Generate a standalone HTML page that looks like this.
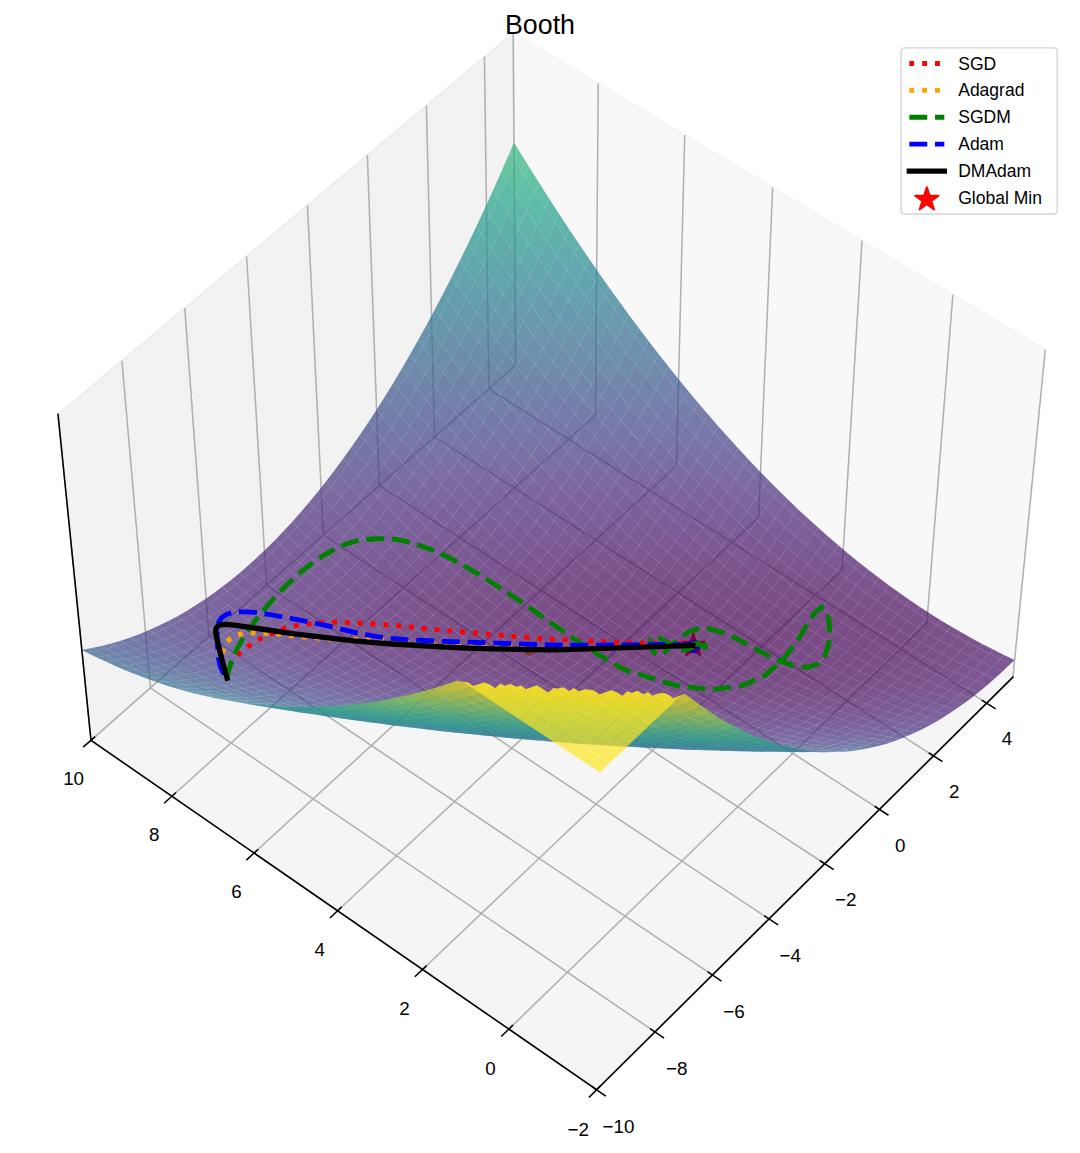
<!DOCTYPE html>
<html><head><meta charset="utf-8"><title>Booth</title><style>html,body{margin:0;padding:0;background:#fff;font-family:"Liberation Sans",sans-serif}svg{display:block}</style></head><body><svg width="1080" height="1153" viewBox="0 0 777.6 830.16"><defs><style>*{stroke-linejoin: round; stroke-linecap: butt}</style></defs><path d="M0 830.16L777.6 830.16L777.6 0L0 0z" style="fill:#ffffff"/><path d="M10.08 785.45L767.3 785.45L767.3 28.22L10.08 28.22z" style="fill:#ffffff"/><path d="M729.31 487.52L371.33 262.9L369.48 23.56L752.6 251.88" style="fill:#f2f2f2;fill-opacity:.5;stroke:#f2f2f2;stroke-opacity:.5;stroke-width:1.38;stroke-linejoin:miter"/><path d="M65.51 533.04L371.33 262.9L369.48 23.56L41.78 298.33" style="fill:#e6e6e6;fill-opacity:.5;stroke:#e6e6e6;stroke-opacity:.5;stroke-width:1.38;stroke-linejoin:miter"/><path d="M429.56 784.64L729.31 487.52L371.33 262.9L65.51 533.04" style="fill:#ececec;fill-opacity:.5;stroke:#ececec;stroke-opacity:.5;stroke-width:1.38;stroke-linejoin:miter"/><path d="M429.56 784.64L65.51 533.04L41.78 298.33" style="fill:none;stroke:#b0b0b0;stroke-width:1.10592"/><path d="M471.58 742.99L108.28 495.26L87.77 259.77" style="fill:none;stroke:#b0b0b0;stroke-width:1.10592"/><path d="M512.94 701.99L150.42 458.04L133.01 221.83" style="fill:none;stroke:#b0b0b0;stroke-width:1.10592"/><path d="M553.66 661.63L191.92 421.37L177.54 184.49" style="fill:none;stroke:#b0b0b0;stroke-width:1.10592"/><path d="M593.75 621.89L232.82 385.25L221.37 147.74" style="fill:none;stroke:#b0b0b0;stroke-width:1.10592"/><path d="M633.22 582.76L273.12 349.65L264.51 111.57" style="fill:none;stroke:#b0b0b0;stroke-width:1.10592"/><path d="M672.1 544.23L312.83 314.57L306.99 75.96" style="fill:none;stroke:#b0b0b0;stroke-width:1.10592"/><path d="M710.38 506.28L351.97 280L348.81 40.89" style="fill:none;stroke:#b0b0b0;stroke-width:1.10592"/><path d="M752.6 251.88L729.31 487.52L429.56 784.64" style="fill:none;stroke:#b0b0b0;stroke-width:1.10592"/><path d="M686.07 212.23L667.31 448.61L366.37 740.97" style="fill:none;stroke:#b0b0b0;stroke-width:1.10592"/><path d="M620.65 173.24L606.28 410.32L304.22 698.02" style="fill:none;stroke:#b0b0b0;stroke-width:1.10592"/><path d="M556.3 134.9L546.18 372.61L243.08 655.76" style="fill:none;stroke:#b0b0b0;stroke-width:1.10592"/><path d="M493.01 97.18L487 335.48L182.93 614.19" style="fill:none;stroke:#b0b0b0;stroke-width:1.10592"/><path d="M430.74 60.07L428.73 298.91L123.75 573.29" style="fill:none;stroke:#b0b0b0;stroke-width:1.10592"/><path d="M369.48 23.56L371.33 262.9L65.51 533.04" style="fill:none;stroke:#b0b0b0;stroke-width:1.10592"/><path d="M729.31 487.52L429.56 784.64" style="fill:none;stroke:#000000;stroke-width:1.10592;stroke-linecap:square"/><path d="M426.5 782.53L435.68 788.88" style="fill:none;stroke:#000000;stroke-width:1.10592;stroke-linecap:square"/><text x="445.33" y="815.79" font-size="13.54" text-anchor="middle" fill="#000000" font-family="&quot;Liberation Sans&quot;, sans-serif">−10</text><path d="M468.53 740.91L477.69 747.16" style="fill:none;stroke:#000000;stroke-width:1.10592;stroke-linecap:square"/><text x="487.19" y="774.01" font-size="13.54" text-anchor="middle" fill="#000000" font-family="&quot;Liberation Sans&quot;, sans-serif">−8</text><path d="M509.9 699.94L519.03 706.09" style="fill:none;stroke:#000000;stroke-width:1.10592;stroke-linecap:square"/><text x="528.4" y="732.89" font-size="13.54" text-anchor="middle" fill="#000000" font-family="&quot;Liberation Sans&quot;, sans-serif">−6</text><path d="M550.63 659.61L559.74 665.66" style="fill:none;stroke:#000000;stroke-width:1.10592;stroke-linecap:square"/><text x="568.96" y="692.41" font-size="13.54" text-anchor="middle" fill="#000000" font-family="&quot;Liberation Sans&quot;, sans-serif">−4</text><path d="M590.72 619.91L599.81 625.86" style="fill:none;stroke:#000000;stroke-width:1.10592;stroke-linecap:square"/><text x="608.9" y="652.55" font-size="13.54" text-anchor="middle" fill="#000000" font-family="&quot;Liberation Sans&quot;, sans-serif">−2</text><path d="M630.21 580.81L639.27 586.67" style="fill:none;stroke:#000000;stroke-width:1.10592;stroke-linecap:square"/><text x="648.23" y="613.31" font-size="13.54" text-anchor="middle" fill="#000000" font-family="&quot;Liberation Sans&quot;, sans-serif">0</text><path d="M669.09 542.3L678.13 548.08" style="fill:none;stroke:#000000;stroke-width:1.10592;stroke-linecap:square"/><text x="686.96" y="574.66" font-size="13.54" text-anchor="middle" fill="#000000" font-family="&quot;Liberation Sans&quot;, sans-serif">2</text><path d="M707.38 504.38L716.4 510.07" style="fill:none;stroke:#000000;stroke-width:1.10592;stroke-linecap:square"/><text x="725.11" y="536.59" font-size="13.54" text-anchor="middle" fill="#000000" font-family="&quot;Liberation Sans&quot;, sans-serif">4</text><path d="M65.51 533.04L429.56 784.64" style="fill:none;stroke:#000000;stroke-width:1.10592;stroke-linecap:square"/><path d="M432.1 782.13L424.47 789.69" style="fill:none;stroke:#000000;stroke-width:1.10592;stroke-linecap:square"/><text x="416.28" y="817.9" font-size="13.54" text-anchor="middle" fill="#000000" font-family="&quot;Liberation Sans&quot;, sans-serif">−2</text><path d="M368.92 738.5L361.26 745.93" style="fill:none;stroke:#000000;stroke-width:1.10592;stroke-linecap:square"/><text x="353.23" y="774.06" font-size="13.54" text-anchor="middle" fill="#000000" font-family="&quot;Liberation Sans&quot;, sans-serif">0</text><path d="M306.77 695.58L299.09 702.9" style="fill:none;stroke:#000000;stroke-width:1.10592;stroke-linecap:square"/><text x="291.21" y="730.95" font-size="13.54" text-anchor="middle" fill="#000000" font-family="&quot;Liberation Sans&quot;, sans-serif">2</text><path d="M245.64 653.37L237.94 660.56" style="fill:none;stroke:#000000;stroke-width:1.10592;stroke-linecap:square"/><text x="230.21" y="688.54" font-size="13.54" text-anchor="middle" fill="#000000" font-family="&quot;Liberation Sans&quot;, sans-serif">4</text><path d="M185.5 611.84L177.78 618.92" style="fill:none;stroke:#000000;stroke-width:1.10592;stroke-linecap:square"/><text x="170.19" y="646.81" font-size="13.54" text-anchor="middle" fill="#000000" font-family="&quot;Liberation Sans&quot;, sans-serif">6</text><path d="M126.33 570.97L118.59 577.94" style="fill:none;stroke:#000000;stroke-width:1.10592;stroke-linecap:square"/><text x="111.13" y="605.75" font-size="13.54" text-anchor="middle" fill="#000000" font-family="&quot;Liberation Sans&quot;, sans-serif">8</text><path d="M68.1 530.76L60.33 537.61" style="fill:none;stroke:#000000;stroke-width:1.10592;stroke-linecap:square"/><text x="53.01" y="565.35" font-size="13.54" text-anchor="middle" fill="#000000" font-family="&quot;Liberation Sans&quot;, sans-serif">10</text><path d="M65.51 533.04L41.78 298.33" style="fill:none;stroke:#000000;stroke-width:1.10592;stroke-linecap:square"/><path d="M499.18 455.98L501.13 462.00L507.46 462.00L502.34 465.72L504.30 471.74L499.18 468.02L494.06 471.74L496.01 465.72L490.89 462.00L497.22 462.00z" fill="#ff0000" stroke="#ff0000" stroke-width="1.37" stroke-linejoin="miter"/><circle cx="499.46" cy="465.48" r="5.11" fill="#0000ff"/><circle cx="381.31" cy="467.10" r="5.18" fill="#ffa500"/><g fill-opacity=".7"><path d="M449.45 338.36l6-9.33-7.15-7.96-6 9.5z" fill="#453781"/><path d="M436.29 339.81l6.01-9.24-7.16-7.96-6 9.41z" fill="#453581"/><path d="M456.6 345.98l6-9.17-7.15-7.78-6 9.33z" fill="#46327e"/><path d="M443.45 347.43l6-9.07-7.15-7.79-6.01 9.24z" fill="#46327e"/><path d="M462.6 336.81l6.01-9.42-7.15-7.96-6.01 9.6z" fill="#453882"/><path d="M423.14 341.16l6-9.14-7.15-7.96-6 9.31z" fill="#453581"/><path d="M442.3 330.57l6-9.5-7.15-8.12-6.01 9.66z" fill="#443b84"/><path d="M429.14 332.02l6-9.41-7.15-8.12-6 9.57z" fill="#443a83"/><path d="M469.76 344.44l6-9.26-7.15-7.79-6.01 9.42z" fill="#46337f"/><path d="M430.3 348.79l5.99-8.98-7.15-7.79-6 9.14z" fill="#46307e"/><path d="M455.45 329.03l6.01-9.6-7.15-8.12-6.01 9.76z" fill="#433d84"/><path d="M415.99 333.37l6-9.31-7.15-8.12-6.01 9.48z" fill="#443a83"/><path d="M463.76 353.44l6-9-7.16-7.63-6 9.17z" fill="#472e7c"/><path d="M450.61 354.89l5.99-8.91-7.15-7.62-6 9.07z" fill="#472d7b"/><path d="M475.76 335.18l6.01-9.52-7.15-7.96-6.01 9.69z" fill="#443983"/><path d="M409.99 342.43l6-9.06-7.16-7.95-6 9.22z" fill="#463480"/><path d="M482.92 342.8l6-9.35-7.15-7.79-6.01 9.52z" fill="#463480"/><path d="M476.92 351.9l6-9.1-7.16-7.62-6 9.26z" fill="#472f7d"/><path d="M417.14 350.05l6-8.89-7.15-7.79-6 9.06z" fill="#46307e"/><path d="M437.45 356.25l6-8.82-7.16-7.62-5.99 8.98z" fill="#472d7b"/><path d="M468.61 327.39l6.01-9.69-7.15-8.12-6.01 9.85z" fill="#433e85"/><path d="M435.14 322.61l6.01-9.66-7.15-8.29-6.01 9.83z" fill="#424086"/><path d="M421.99 324.06l6-9.57-7.15-8.29-6 9.74z" fill="#423f85"/><path d="M402.83 334.64l6-9.22-7.15-8.12-6 9.38z" fill="#443983"/><path d="M448.3 321.07l6.01-9.76-7.15-8.29-6.01 9.93z" fill="#424186"/><path d="M408.83 325.42l6.01-9.48-7.15-8.29-6.01 9.65z" fill="#423f85"/><path d="M490.08 350.26l6-9.19-7.16-7.62-6 9.35z" fill="#46307e"/><path d="M488.92 333.45l6.01-9.61-7.15-7.96-6.01 9.78z" fill="#443a83"/><path d="M424.3 357.51l6-8.72-7.16-7.63-6 8.89z" fill="#472c7a"/><path d="M396.83 343.6l6-8.96-7.15-7.96-6 9.13z" fill="#463480"/><path d="M496.08 341.07l6.01-9.44-7.16-7.79-6.01 9.61z" fill="#453581"/><path d="M403.98 351.22l6.01-8.79-7.16-7.79-6 8.96z" fill="#472f7d"/><path d="M470.93 360.74l5.99-8.84-7.16-7.46-6 9z" fill="#472a7a"/><path d="M457.77 362.19l5.99-8.75-7.16-7.46-5.99 8.91z" fill="#482979"/><path d="M481.77 325.66l6.01-9.78-7.15-8.13-6.01 9.95z" fill="#423f85"/><path d="M461.46 319.43l6.01-9.85-7.15-8.29-6.01 10.02z" fill="#414287"/><path d="M395.68 326.68l6-9.38-7.15-8.3-6.01 9.56z" fill="#433e85"/><path d="M389.68 335.81l6-9.13-7.16-8.12-6 9.29z" fill="#443983"/><path d="M484.09 359.19l5.99-8.93-7.16-7.46-6 9.1z" fill="#472a7a"/><path d="M444.61 363.55l6-8.66-7.16-7.46-6 8.82z" fill="#482878"/><path d="M503.25 348.53l6-9.28-7.16-7.62-6.01 9.44z" fill="#46327e"/><path d="M411.14 358.68l6-8.63-7.15-7.62-6.01 8.79z" fill="#472c7a"/><path d="M427.99 314.49l6.01-9.83-7.15-8.47-6.01 10.01z" fill="#404588"/><path d="M414.84 315.94l6-9.74-7.15-8.46-6 9.91z" fill="#414487"/><path d="M497.25 357.56l6-9.03-7.17-7.46-6 9.19z" fill="#472c7a"/><path d="M502.09 331.63l6.01-9.71-7.15-7.96-6.02 9.88z" fill="#443b84"/><path d="M431.46 364.81l5.99-8.56-7.15-7.46-6 8.72z" fill="#482878"/><path d="M441.15 312.95l6.01-9.93-7.15-8.47-6.01 10.11z" fill="#404688"/><path d="M474.62 317.7l6.01-9.95-7.14-8.29-6.02 10.12z" fill="#414487"/><path d="M509.25 339.25l6.01-9.54-7.16-7.79-6.01 9.71z" fill="#453781"/><path d="M401.68 317.3l6.01-9.65-7.16-8.46-6 9.81z" fill="#414487"/><path d="M383.67 344.67l6.01-8.86-7.16-7.96-6 9.03z" fill="#463480"/><path d="M382.52 327.85l6-9.29-7.15-8.3-6.01 9.46z" fill="#433e85"/><path d="M390.83 352.3l6-8.7-7.15-7.79-6.01 8.86z" fill="#472f7d"/><path d="M494.93 323.84l6.02-9.88-7.15-8.13-6.02 10.05z" fill="#424086"/><path d="M376.52 336.88l6-9.03-7.16-8.13-6 9.2z" fill="#453882"/><path d="M454.31 311.31l6.01-10.02-7.14-8.47-6.02 10.2z" fill="#3f4788"/><path d="M388.52 318.56l6.01-9.56-7.16-8.46-6 9.72z" fill="#414287"/><path d="M516.42 346.71l6-9.38-7.16-7.62-6.01 9.54z" fill="#46337f"/><path d="M510.42 355.83l6-9.12-7.17-7.46-6 9.28z" fill="#472d7b"/><path d="M478.1 367.87l5.99-8.68-7.17-7.29-5.99 8.84z" fill="#482576"/><path d="M464.94 369.32l5.99-8.58-7.17-7.3-5.99 8.75z" fill="#482576"/><path d="M418.3 365.98l6-8.47-7.16-7.46-6 8.63z" fill="#482677"/><path d="M397.98 359.76l6-8.54-7.15-7.62-6 8.7z" fill="#472a7a"/><path d="M491.26 366.33l5.99-8.77-7.17-7.3-5.99 8.93z" fill="#482677"/><path d="M451.78 370.68l5.99-8.49-7.16-7.3-6 8.66z" fill="#482475"/><path d="M487.78 315.88l6.02-10.05-7.14-8.29-6.03 10.21z" fill="#404588"/><path d="M515.26 329.71l6.02-9.81-7.15-7.96-6.03 9.98z" fill="#433d84"/><path d="M369.36 328.92l6-9.2-7.15-8.29-6.01 9.37z" fill="#433d84"/><path d="M467.47 309.58l6.02-10.12-7.15-8.47-6.02 10.3z" fill="#3f4889"/><path d="M522.42 337.33l6.02-9.63-7.16-7.8-6.02 9.81z" fill="#453882"/><path d="M370.51 345.66l6.01-8.78-7.16-7.96-6.01 8.95z" fill="#46337f"/><path d="M375.36 319.72l6.01-9.46-7.16-8.46-6 9.63z" fill="#414287"/><path d="M504.43 364.69l5.99-8.86-7.17-7.3-6 9.03z" fill="#482878"/><path d="M420.84 306.2l6.01-10.01-7.15-8.63-6.01 10.18z" fill="#3e4a89"/><path d="M438.62 371.95l5.99-8.4-7.16-7.3-5.99 8.56z" fill="#482475"/><path d="M407.69 307.65l6-9.91-7.15-8.64-6.01 10.09z" fill="#3e4989"/><path d="M377.66 353.29l6.01-8.62-7.15-7.79-6.01 8.78z" fill="#472f7d"/><path d="M508.1 321.92l6.03-9.98-7.15-8.12-6.03 10.14z" fill="#424186"/><path d="M523.59 354.01l6-9.22-7.17-7.46-6 9.38z" fill="#472e7c"/><path d="M363.35 337.87l6.01-8.95-7.16-8.12-6.01 9.11z" fill="#453882"/><path d="M434 304.66l6.01-10.11-7.15-8.63-6.01 10.27z" fill="#3e4a89"/><path d="M394.53 309l6-9.81-7.16-8.64-6 9.99z" fill="#3f4889"/><path d="M405.14 367.06l6-8.38-7.16-7.46-6 8.54z" fill="#482677"/><path d="M529.59 344.79l6.01-9.47-7.16-7.62-6.02 9.63z" fill="#463480"/><path d="M384.82 360.75l6.01-8.45-7.16-7.63-6.01 8.62z" fill="#472a7a"/><path d="M517.6 362.96l5.99-8.95-7.17-7.3-6 9.12z" fill="#482979"/><path d="M447.16 303.02l6.02-10.2-7.15-8.63-6.02 10.36z" fill="#3e4c8a"/><path d="M528.44 327.7l3.01-4.92-7.16-7.88-3.01 5z" fill="#433d84"/><path d="M425.46 373.12l6-8.31-7.16-7.3-6 8.47z" fill="#482374"/><path d="M480.63 307.75l6.03-10.21-7.14-8.47-6.03 10.39z" fill="#3e4989"/><path d="M500.95 313.96l6.03-10.14-7.14-8.3-6.04 10.31z" fill="#404688"/><path d="M381.37 310.26l6-9.72-7.16-8.63-6 9.89z" fill="#3f4889"/><path d="M362.2 320.8l6.01-9.37-7.17-8.46-6 9.54z" fill="#414287"/><path d="M521.28 319.9l3.01-5-7.15-8.04-3.01 5.08z" fill="#424186"/><path d="M535.6 335.32l3.01-4.83-7.16-7.71-3.01 4.92z" fill="#443983"/><path d="M356.19 329.91l6.01-9.11-7.16-8.29-6.01 9.27z" fill="#433d84"/><path d="M485.28 374.84l5.98-8.51-7.17-7.14-5.99 8.68z" fill="#482374"/><path d="M472.12 376.3l5.98-8.43-7.17-7.13-5.99 8.58z" fill="#482173"/><path d="M498.45 373.3l5.98-8.61-7.18-7.13-5.99 8.77z" fill="#482374"/><path d="M458.95 377.65l5.99-8.33-7.17-7.13-5.99 8.49z" fill="#482071"/><path d="M536.77 352.09l6-9.3-7.17-7.47-6.01 9.47z" fill="#46307e"/><path d="M357.34 346.55l6.01-8.68-7.16-7.96-6.01 8.85z" fill="#46337f"/><path d="M460.32 301.29l6.02-10.3-7.14-8.63-6.02 10.46z" fill="#3d4d8a"/><path d="M364.49 354.18l6.02-8.52-7.16-7.79-6.01 8.68z" fill="#472f7d"/><path d="M368.21 311.43l6-9.63-7.17-8.63-6 9.8z" fill="#3f4788"/><path d="M391.97 368.05l6.01-8.29-7.15-7.46-6.01 8.45z" fill="#482677"/><path d="M514.13 311.94l3.01-5.08-7.14-8.21-3.02 5.17z" fill="#404688"/><path d="M530.77 361.14l6-9.05-7.18-7.3-6 9.22z" fill="#472a7a"/><path d="M542.77 342.79l3.01-4.76-7.17-7.54-3.01 4.83z" fill="#463480"/><path d="M350.18 338.76l6.01-8.85-7.16-8.13-6.01 9.02z" fill="#453882"/><path d="M412.3 374.2l6-8.22-7.16-7.3-6 8.38z" fill="#482374"/><path d="M511.61 371.66l5.99-8.7-7.18-7.13-5.99 8.86z" fill="#482475"/><path d="M445.79 378.92l5.99-8.24-7.17-7.13-5.99 8.4z" fill="#482071"/><path d="M493.8 305.83l6.04-10.31-7.15-8.47-6.03 10.49z" fill="#3e4a89"/><path d="M413.69 297.74l6.01-10.18-7.15-8.81-6.01 10.35z" fill="#3c4f8a"/><path d="M371.65 361.65l6.01-8.36-7.15-7.63-6.02 8.52z" fill="#472a7a"/><path d="M400.53 299.19l6.01-10.09-7.16-8.8-6.01 10.25z" fill="#3d4e8a"/><path d="M349.03 321.78l6.01-9.27-7.17-8.47-6 9.45z" fill="#424186"/><path d="M426.85 296.19l6.01-10.27-7.15-8.81-6.01 10.45z" fill="#3c508b"/><path d="M387.37 300.54l6-9.99-7.16-8.8-6 10.16z" fill="#3d4e8a"/><path d="M473.49 299.46l6.03-10.39-7.14-8.64-6.04 10.56z" fill="#3d4e8a"/><path d="M343.02 330.8l6.01-9.02-7.16-8.29-6.01 9.18z" fill="#433d84"/><path d="M524.79 369.94l5.98-8.8-7.18-7.13-5.99 8.95z" fill="#482576"/><path d="M355.04 312.51l6-9.54-7.16-8.63-6.01 9.7z" fill="#3f4788"/><path d="M432.63 380.1l5.99-8.15-7.16-7.14-6 8.31z" fill="#481f70"/><path d="M506.98 303.82l3.02-5.17-7.14-8.39-3.02 5.26z" fill="#3e4a89"/><path d="M549.95 350.08l3.01-4.66-7.18-7.39-3.01 4.76z" fill="#46307e"/><path d="M440.01 294.55l6.02-10.36-7.15-8.81-6.02 10.54z" fill="#3b518b"/><path d="M543.96 359.23l5.99-9.15-7.18-7.29-6 9.3z" fill="#472d7b"/><path d="M374.21 301.8l6-9.89-7.16-8.81-6.01 10.07z" fill="#3d4d8a"/><path d="M399.13 375.19l6.01-8.13-7.16-7.3-6.01 8.29z" fill="#482374"/><path d="M378.8 368.95l6.02-8.2-7.16-7.46-6.01 8.36z" fill="#482677"/><path d="M344.16 347.35l6.02-8.59-7.16-7.96-6.01 8.75z" fill="#46337f"/><path d="M351.32 354.98l6.02-8.43-7.16-7.79-6.02 8.59z" fill="#472f7d"/><path d="M492.47 381.66l5.98-8.36-7.19-6.97-5.98 8.51z" fill="#481f70"/><path d="M479.3 383.11l5.98-8.27-7.18-6.97-5.98 8.43z" fill="#481d6f"/><path d="M337.01 339.55l6.01-8.75-7.16-8.13-6.01 8.92z" fill="#453882"/><path d="M537.97 368.11l5.99-8.88-7.19-7.14-6 9.05z" fill="#482677"/><path d="M453.18 292.82l6.02-10.46-7.14-8.81-6.03 10.64z" fill="#3b528b"/><path d="M486.66 297.54l6.03-10.49-7.14-8.64-6.03 10.66z" fill="#3c508b"/><path d="M361.04 302.97l6-9.8-7.16-8.81-6 9.98z" fill="#3d4d8a"/><path d="M505.64 380.11l5.97-8.45-7.18-6.97-5.98 8.61z" fill="#482071"/><path d="M419.46 381.18l6-8.06-7.16-7.14-6 8.22z" fill="#481f70"/><path d="M335.86 322.67l6.01-9.18-7.17-8.47-6.01 9.35z" fill="#424186"/><path d="M466.13 384.47l5.99-8.17-7.18-6.98-5.99 8.33z" fill="#481c6e"/><path d="M341.87 313.49l6-9.45-7.17-8.63-6 9.61z" fill="#3f4788"/><path d="M358.48 362.45l6.01-8.27-7.15-7.63-6.02 8.43z" fill="#472a7a"/><path d="M518.81 378.48l5.98-8.54-7.19-6.98-5.99 8.7z" fill="#482173"/><path d="M452.97 385.74l5.98-8.09-7.17-6.97-5.99 8.24z" fill="#481c6e"/><path d="M499.84 295.52l3.02-5.26-7.14-8.55-3.03 5.34z" fill="#3c508b"/><path d="M329.85 331.59l6.01-8.92-7.17-8.3-6.01 9.09z" fill="#433d84"/><path d="M557.14 357.22l3-4.59-7.18-7.21-3.01 4.66z" fill="#472d7b"/><path d="M466.34 290.99l6.04-10.56-7.15-8.81-6.03 10.74z" fill="#3a538b"/><path d="M385.96 376.09l6.01-8.04-7.15-7.3-6.02 8.2z" fill="#482374"/><path d="M406.54 289.1l6.01-10.35-7.16-8.98-6.01 10.53z" fill="#3a548c"/><path d="M393.37 290.55l6.01-10.25-7.16-8.98-6.01 10.43z" fill="#3a538b"/><path d="M347.87 304.04l6.01-9.7-7.18-8.81-6 9.88z" fill="#3d4d8a"/><path d="M551.15 366.2l5.99-8.98-7.19-7.14-5.99 9.15z" fill="#482979"/><path d="M419.7 287.56l6.01-10.45-7.15-8.98-6.01 10.62z" fill="#39558c"/><path d="M365.63 369.75l6.02-8.1-7.16-7.47-6.01 8.27z" fill="#482677"/><path d="M531.99 376.75l5.98-8.64-7.2-6.97-5.98 8.8z" fill="#482374"/><path d="M380.21 291.91l6-10.16-7.16-8.98-6 10.33z" fill="#3a538b"/><path d="M406.29 382.17l6.01-7.97-7.16-7.14-6.01 8.13z" fill="#481f70"/><path d="M439.8 386.91l5.99-7.99-7.17-6.97-5.99 8.15z" fill="#481c6e"/><path d="M330.98 348.06l6.03-8.51-7.16-7.96-6.03 8.67z" fill="#46337f"/><path d="M338.14 355.69l6.02-8.34-7.15-7.8-6.03 8.51z" fill="#472f7d"/><path d="M432.86 285.92l6.02-10.54-7.15-8.98-6.02 10.71z" fill="#39568c"/><path d="M328.69 314.37l6.01-9.35-7.18-8.63-6 9.52z" fill="#3f4788"/><path d="M367.04 293.17l6.01-10.07-7.17-8.98-6 10.24z" fill="#3b528b"/><path d="M322.68 323.46l6.01-9.09-7.17-8.46-6.01 9.25z" fill="#424186"/><path d="M323.82 340.26l6.03-8.67-7.17-8.13-6.02 8.83z" fill="#453882"/><path d="M479.52 289.07l6.03-10.66-7.13-8.81-6.04 10.83z" fill="#3a548c"/><path d="M545.17 374.93l5.98-8.73-7.19-6.97-5.99 8.88z" fill="#482475"/><path d="M345.3 363.16l6.02-8.18-7.16-7.63-6.02 8.34z" fill="#472a7a"/><path d="M334.7 305.02l6-9.61-7.17-8.81-6.01 9.79z" fill="#3e4c8a"/><path d="M426.63 387.99l6-7.89-7.17-6.98-6 8.06z" fill="#481b6d"/><path d="M446.03 284.19l6.03-10.64-7.15-8.98-6.03 10.81z" fill="#38588c"/><path d="M353.88 294.34l6-9.98-7.18-8.98-6 10.15z" fill="#3b528b"/><path d="M499.66 388.31l5.98-8.2-7.19-6.81-5.98 8.36z" fill="#481b6d"/><path d="M492.69 287.05l3.03-5.34-7.14-8.73-3.03 5.43z" fill="#3a548c"/><path d="M486.49 389.76l5.98-8.1-7.19-6.82-5.98 8.27z" fill="#481b6d"/><path d="M316.66 332.29l6.02-8.83-7.17-8.3-6.02 9z" fill="#433d84"/><path d="M372.79 376.89l6.01-7.94-7.15-7.3-6.02 8.1z" fill="#482374"/><path d="M564.35 364.19l2.99-4.5-7.2-7.06-3 4.59z" fill="#482979"/><path d="M512.84 386.76l5.97-8.28-7.2-6.82-5.97 8.45z" fill="#481c6e"/><path d="M393.12 383.07l6.01-7.88-7.16-7.14-6.01 8.04z" fill="#481f70"/><path d="M473.32 391.12l5.98-8.01-7.18-6.81-5.99 8.17z" fill="#481a6c"/><path d="M352.45 370.46l6.03-8.01-7.16-7.47-6.02 8.18z" fill="#482677"/><path d="M526.01 385.13l5.98-8.38-7.2-6.81-5.98 8.54z" fill="#481d6f"/><path d="M460.15 392.39l5.98-7.92-7.18-6.82-5.98 8.09z" fill="#48186a"/><path d="M459.2 282.36l6.03-10.74-7.14-8.98-6.03 10.91z" fill="#38598c"/><path d="M558.36 373.01l5.99-8.82-7.21-6.97-5.99 8.98z" fill="#482576"/><path d="M315.51 315.16l6.01-9.25-7.18-8.64-6.01 9.43z" fill="#3f4788"/><path d="M340.7 295.41l6-9.88-7.18-8.98-5.99 10.05z" fill="#3b518b"/><path d="M413.46 388.99l6-7.81-7.16-6.98-6.01 7.97z" fill="#481b6d"/><path d="M317.79 348.67l6.03-8.41-7.16-7.97-6.03 8.58z" fill="#463480"/><path d="M321.52 305.91l6-9.52-7.18-8.81-6 9.69z" fill="#3e4c8a"/><path d="M309.49 324.16l6.02-9-7.18-8.46-6.01 9.16z" fill="#414287"/><path d="M324.95 356.3l6.03-8.24-7.16-7.8-6.03 8.41z" fill="#472f7d"/><path d="M399.38 280.3l6.01-10.53-7.16-9.15-6.01 10.7z" fill="#375a8c"/><path d="M386.21 281.75l6.01-10.43-7.17-9.16-6 10.61z" fill="#38598c"/><path d="M539.2 383.4l5.97-8.47-7.2-6.82-5.98 8.64z" fill="#481f70"/><path d="M310.63 340.87l6.03-8.58-7.17-8.13-6.02 8.74z" fill="#443983"/><path d="M446.98 393.57l5.99-7.83-7.18-6.82-5.99 7.99z" fill="#48186a"/><path d="M412.55 278.75l6.01-10.62-7.16-9.15-6.01 10.79z" fill="#375b8d"/><path d="M373.05 283.1l6-10.33-7.17-9.16-6 10.51z" fill="#38598c"/><path d="M332.11 363.77l6.03-8.08-7.16-7.63-6.03 8.24z" fill="#472c7a"/><path d="M379.94 383.87l6.02-7.78-7.16-7.14-6.01 7.94z" fill="#481f70"/><path d="M472.38 280.43l6.04-10.83-7.14-8.99-6.05 11.01z" fill="#375a8c"/><path d="M425.71 277.11l6.02-10.71-7.15-9.16-6.02 10.89z" fill="#365c8d"/><path d="M359.6 377.61l6.03-7.86-7.15-7.3-6.03 8.01z" fill="#482374"/><path d="M359.88 284.36l6-10.24-7.18-9.15-6 10.41z" fill="#38588c"/><path d="M327.52 296.39l6.01-9.79-7.19-8.98-6 9.96z" fill="#3b518b"/><path d="M303.47 332.9l6.02-8.74-7.17-8.3-6.02 8.91z" fill="#433e85"/><path d="M552.39 381.58l5.97-8.57-7.21-6.81-5.98 8.73z" fill="#482071"/><path d="M485.55 278.41l3.03-5.43-7.14-8.9-3.02 5.52z" fill="#375a8c"/><path d="M571.56 371l2.99-4.42-7.21-6.89-2.99 4.5z" fill="#482576"/><path d="M400.29 389.89l6-7.72-7.16-6.98-6.01 7.88z" fill="#481b6d"/><path d="M433.81 394.65l5.99-7.74-7.17-6.81-6 7.89z" fill="#48186a"/><path d="M438.88 275.38l6.03-10.81-7.15-9.16-6.03 10.99z" fill="#365d8d"/><path d="M302.32 315.86l6.01-9.16-7.18-8.64-6.01 9.33z" fill="#3f4788"/><path d="M339.26 371.08l6.04-7.92-7.16-7.47-6.03 8.08z" fill="#482677"/><path d="M346.7 285.53l6-10.15-7.18-9.15-6 10.32z" fill="#38588c"/><path d="M308.33 306.7l6.01-9.43-7.19-8.81-6 9.6z" fill="#3e4c8a"/><path d="M506.87 394.8l5.97-8.04-7.2-6.65-5.98 8.2z" fill="#48186a"/><path d="M493.69 396.26l5.97-7.95-7.19-6.65-5.98 8.1z" fill="#481769"/><path d="M520.05 393.26l5.96-8.13-7.2-6.65-5.97 8.28z" fill="#481a6c"/><path d="M480.51 397.62l5.98-7.86-7.19-6.65-5.98 8.01z" fill="#481769"/><path d="M296.3 324.77l6.02-8.91-7.18-8.47-6.02 9.08z" fill="#414287"/><path d="M565.58 379.66l5.98-8.66-7.21-6.81-5.99 8.82z" fill="#482173"/><path d="M304.59 349.19l6.04-8.32-7.16-7.97-6.04 8.49z" fill="#463480"/><path d="M314.34 297.27l6-9.69-7.19-8.98-6 9.86z" fill="#3b518b"/><path d="M452.06 273.55l6.03-10.91-7.14-9.16-6.04 11.09z" fill="#355e8d"/><path d="M420.63 395.64l6-7.65-7.17-6.81-6 7.81z" fill="#48186a"/><path d="M311.75 356.83l6.04-8.16-7.16-7.8-6.04 8.32z" fill="#472f7d"/><path d="M533.23 391.62l5.97-8.22-7.21-6.65-5.98 8.38z" fill="#481b6d"/><path d="M333.53 286.6l5.99-10.05-7.18-9.15-6 10.22z" fill="#39568c"/><path d="M366.76 384.59l6.03-7.7-7.16-7.14-6.03 7.86z" fill="#481f70"/><path d="M467.34 398.89l5.98-7.77-7.19-6.65-5.98 7.92z" fill="#481668"/><path d="M297.43 341.39l6.04-8.49-7.17-8.13-6.04 8.65z" fill="#443983"/><path d="M387.11 390.7l6.01-7.63-7.16-6.98-6.02 7.78z" fill="#481b6d"/><path d="M346.42 378.23l6.03-7.77-7.15-7.3-6.04 7.92z" fill="#482374"/><path d="M318.91 364.3l6.04-8-7.16-7.63-6.04 8.16z" fill="#472c7a"/><path d="M546.42 389.89l5.97-8.31-7.22-6.65-5.97 8.47z" fill="#481c6e"/><path d="M454.16 400.06l5.99-7.67-7.18-6.65-5.99 7.83z" fill="#481668"/><path d="M392.22 271.32l6.01-10.7-7.17-9.33-6.01 10.87z" fill="#355f8d"/><path d="M290.26 333.42l6.04-8.65-7.18-8.3-6.03 8.81z" fill="#433e85"/><path d="M379.05 272.77l6-10.61-7.17-9.33-6 10.78z" fill="#355e8d"/><path d="M295.14 307.39l6.01-9.33-7.19-8.81-6.01 9.5z" fill="#3d4d8a"/><path d="M405.39 269.77l6.01-10.79-7.16-9.34-6.01 10.98z" fill="#34608d"/><path d="M465.23 271.62l6.05-11.01-7.14-9.16-6.05 11.19z" fill="#355f8d"/><path d="M365.88 274.12l6-10.51-7.18-9.33-6 10.69z" fill="#355e8d"/><path d="M289.12 316.47l6.02-9.08-7.19-8.64-6.02 9.25z" fill="#3f4788"/><path d="M320.34 287.58l6-9.96-7.19-9.16-6 10.14z" fill="#39568c"/><path d="M478.42 269.6l3.02-5.52-7.14-9.07-3.02 5.6z" fill="#355f8d"/><path d="M407.45 396.55l6.01-7.56-7.17-6.82-6 7.72z" fill="#48186a"/><path d="M326.06 371.61l6.05-7.84-7.16-7.47-6.04 8z" fill="#482878"/><path d="M578.78 377.66l2.99-4.35-7.22-6.73-2.99 4.42z" fill="#482374"/><path d="M301.15 298.06l6-9.6-7.19-8.98-6 9.77z" fill="#3b518b"/><path d="M418.56 268.13l6.02-10.89-7.16-9.34-6.02 11.08z" fill="#34618d"/><path d="M352.7 275.38l6-10.41-7.19-9.33-5.99 10.59z" fill="#365d8d"/><path d="M559.61 388.07l5.97-8.41-7.22-6.65-5.97 8.57z" fill="#481d6f"/><path d="M440.99 401.15l5.99-7.58-7.18-6.66-5.99 7.74z" fill="#481467"/><path d="M283.09 325.28l6.03-8.81-7.19-8.47-6.02 8.98z" fill="#414287"/><path d="M431.73 266.4l6.03-10.99-7.15-9.34-6.03 11.17z" fill="#33628d"/><path d="M353.57 385.21l6.03-7.6-7.15-7.15-6.03 7.77z" fill="#481f70"/><path d="M373.92 391.41l6.02-7.54-7.15-6.98-6.03 7.7z" fill="#481b6d"/><path d="M339.52 276.55l6-10.32-7.19-9.33-5.99 10.5z" fill="#365d8d"/><path d="M291.38 349.62l6.05-8.23-7.17-7.97-6.04 8.39z" fill="#463480"/><path d="M298.55 357.26l6.04-8.07-7.16-7.8-6.05 8.23z" fill="#46307e"/><path d="M307.15 288.46l6-9.86-7.2-9.16-5.99 10.04z" fill="#39568c"/><path d="M284.22 341.81l6.04-8.39-7.17-8.14-6.04 8.56z" fill="#443983"/><path d="M572.81 386.16l5.97-8.5-7.22-6.66-5.98 8.66z" fill="#481f70"/><path d="M333.22 378.76l6.04-7.68-7.15-7.31-6.05 7.84z" fill="#482374"/><path d="M514.08 401.14l5.97-7.88-7.21-6.5-5.97 8.04z" fill="#481668"/><path d="M500.9 402.59l5.97-7.79-7.21-6.49-5.97 7.95z" fill="#481467"/><path d="M427.81 402.14l6-7.49-7.18-6.66-6 7.65z" fill="#481467"/><path d="M394.27 397.36l6.02-7.47-7.17-6.82-6.01 7.63z" fill="#48186a"/><path d="M527.27 399.59l5.96-7.97-7.22-6.49-5.96 8.13z" fill="#481769"/><path d="M487.72 403.95l5.97-7.69-7.2-6.5-5.98 7.86z" fill="#471365"/><path d="M305.7 364.73l6.05-7.9-7.16-7.64-6.04 8.07z" fill="#472c7a"/><path d="M444.91 264.57l6.04-11.09-7.15-9.34-6.04 11.27z" fill="#33638d"/><path d="M281.93 308l6.02-9.25-7.2-8.81-6.01 9.41z" fill="#3d4d8a"/><path d="M326.34 277.62l6-10.22-7.2-9.34-5.99 10.4z" fill="#365d8d"/><path d="M287.95 298.75l6.01-9.5-7.2-8.99-6.01 9.68z" fill="#3b518b"/><path d="M277.05 333.84l6.04-8.56-7.18-8.3-6.04 8.72z" fill="#433e85"/><path d="M540.46 397.96l5.96-8.07-7.22-6.49-5.97 8.22z" fill="#481769"/><path d="M275.91 316.98l6.02-8.98-7.19-8.65-6.02 9.16z" fill="#3f4889"/><path d="M474.54 405.22l5.97-7.6-7.19-6.5-5.98 7.77z" fill="#471365"/><path d="M312.86 372.04l6.05-7.74-7.16-7.47-6.05 7.9z" fill="#482878"/><path d="M553.65 396.23l5.96-8.16-7.22-6.49-5.97 8.31z" fill="#48186a"/><path d="M461.36 406.4l5.98-7.51-7.19-6.5-5.99 7.67z" fill="#471365"/><path d="M458.09 262.64l6.05-11.19-7.15-9.34-6.04 11.37z" fill="#32648e"/><path d="M293.96 289.25l6-9.77-7.21-9.16-5.99 9.94z" fill="#39568c"/><path d="M414.63 403.05l6-7.41-7.17-6.65-6.01 7.56z" fill="#481467"/><path d="M360.73 392.04l6.03-7.45-7.16-6.98-6.03 7.6z" fill="#481b6d"/><path d="M471.28 260.61l3.02-5.6-7.14-9.26-3.02 5.7z" fill="#32648e"/><path d="M313.15 278.6l6-10.14-7.21-9.33-5.99 10.31z" fill="#365c8d"/><path d="M385.05 262.16l6.01-10.87-7.17-9.52-6.01 11.06z" fill="#32648e"/><path d="M371.88 263.61l6-10.78-7.18-9.51-6 10.96z" fill="#32648e"/><path d="M340.37 385.74l6.05-7.51-7.16-7.15-6.04 7.68z" fill="#482071"/><path d="M269.87 325.7l6.04-8.72-7.19-8.47-6.03 8.89z" fill="#414487"/><path d="M586.02 384.15l2.99-4.27-7.24-6.57-2.99 4.35z" fill="#481f70"/><path d="M398.23 260.62l6.01-10.98-7.17-9.51-6.01 11.16z" fill="#32658e"/><path d="M358.7 264.97l6-10.69-7.19-9.51-6 10.87z" fill="#33638d"/><path d="M274.74 299.35l6.01-9.41-3.6-4.47-6.01 9.5z" fill="#3c508b"/><path d="M381.08 398.08l6.03-7.38-7.17-6.83-6.02 7.54z" fill="#48186a"/><path d="M268.72 308.51l6.02-9.16-3.6-4.38-6.02 9.24z" fill="#3e4c8a"/><path d="M566.85 394.4l5.96-8.24-7.23-6.5-5.97 8.41z" fill="#481b6d"/><path d="M411.4 258.98l6.02-11.08-7.16-9.51-6.02 11.25z" fill="#31668e"/><path d="M448.18 407.49l5.98-7.43-7.18-6.49-5.99 7.58z" fill="#471164"/><path d="M345.52 266.23l5.99-10.59-7.19-9.51-5.99 10.77z" fill="#33638d"/><path d="M278.16 349.95l6.06-8.14-7.17-7.97-6.05 8.3z" fill="#453581"/><path d="M285.33 357.59l6.05-7.97-7.16-7.81-6.06 8.14z" fill="#46307e"/><path d="M320.01 379.19l6.05-7.58-7.15-7.31-6.05 7.74z" fill="#482475"/><path d="M280.75 289.94l6.01-9.68-3.61-4.55-6 9.76z" fill="#39558c"/><path d="M271 342.14l6.05-8.3-7.18-8.14-6.05 8.47z" fill="#443a83"/><path d="M262.69 317.4l6.03-8.89-3.6-4.3-6.03 8.97z" fill="#3f4788"/><path d="M424.58 257.24l6.03-11.17-7.16-9.52-6.03 11.35z" fill="#31678e"/><path d="M299.96 279.48l5.99-10.04-7.21-9.33-5.99 10.21z" fill="#365c8d"/><path d="M292.48 365.07l6.07-7.81-7.17-7.64-6.05 7.97z" fill="#472d7b"/><path d="M332.34 267.4l5.99-10.5-7.2-9.51-5.99 10.67z" fill="#33628d"/><path d="M401.44 403.86l6.01-7.31-7.16-6.66-6.02 7.47z" fill="#481467"/><path d="M580.06 392.49l5.96-8.34-7.24-6.49-5.97 8.5z" fill="#481c6e"/><path d="M263.82 334.17l6.05-8.47-7.18-8.3-6.05 8.63z" fill="#423f85"/><path d="M434.99 408.49l6-7.34-7.18-6.5-6 7.49z" fill="#471164"/><path d="M286.76 280.26l5.99-9.94-3.6-4.65-6 10.04z" fill="#375b8d"/><path d="M521.31 407.32l5.96-7.73-7.22-6.33-5.97 7.88z" fill="#471365"/><path d="M508.12 408.77l5.96-7.63-7.21-6.34-5.97 7.79z" fill="#471164"/><path d="M437.76 255.41l6.04-11.27-7.15-9.52-6.04 11.45z" fill="#31688e"/><path d="M347.53 392.57l6.04-7.36-7.15-6.98-6.05 7.51z" fill="#481c6e"/><path d="M299.64 372.39l6.06-7.66-7.15-7.47-6.07 7.81z" fill="#482979"/><path d="M534.5 405.77l5.96-7.81-7.23-6.34-5.96 7.97z" fill="#481467"/><path d="M319.15 268.46l5.99-10.4-7.21-9.51-5.99 10.58z" fill="#33628d"/><path d="M494.94 410.13l5.96-7.54-7.21-6.33-5.97 7.69z" fill="#471063"/><path d="M367.89 398.7l6.03-7.29-7.16-6.82-6.03 7.45z" fill="#48186a"/><path d="M256.64 326.03l6.05-8.63-3.6-4.22-6.04 8.72z" fill="#414287"/><path d="M327.16 386.18l6.06-7.42-7.16-7.15-6.05 7.58z" fill="#482071"/><path d="M547.7 404.13l5.95-7.9-7.23-6.34-5.96 8.07z" fill="#481467"/><path d="M481.75 411.41l5.97-7.46-7.21-6.33-5.97 7.6z" fill="#471063"/><path d="M421.81 409.39l6-7.25-7.18-6.5-6 7.41z" fill="#471164"/><path d="M450.95 253.48l6.04-11.37-7.14-9.52-6.05 11.55z" fill="#306a8e"/><path d="M388.25 404.58l6.02-7.22-7.16-6.66-6.03 7.38z" fill="#481467"/><path d="M464.14 251.45l3.02-5.7-7.14-9.43-3.03 5.79z" fill="#30698e"/><path d="M560.9 402.4l5.95-8-7.24-6.33-5.96 8.16z" fill="#481668"/><path d="M305.95 269.44l5.99-10.31-7.21-9.51-5.99 10.49z" fill="#33628d"/><path d="M468.56 412.59l5.98-7.37-7.2-6.33-5.98 7.51z" fill="#471063"/><path d="M593.28 390.48l2.98-4.18-7.25-6.42-2.99 4.27z" fill="#481c6e"/><path d="M306.79 379.54l6.07-7.5-7.16-7.31-6.06 7.66z" fill="#482475"/><path d="M264.93 350.19l6.07-8.05-7.18-7.97-6.06 8.21z" fill="#453781"/><path d="M272.09 357.84l6.07-7.89-7.16-7.81-6.07 8.05z" fill="#46327e"/><path d="M292.75 270.32l5.99-10.21-3.6-4.74-5.99 10.3z" fill="#34608d"/><path d="M377.88 252.83l6.01-11.06-7.19-9.69-6 11.24z" fill="#306a8e"/><path d="M364.7 254.28l6-10.96-7.19-9.69-6 11.14z" fill="#30698e"/><path d="M257.76 342.38l6.06-8.21-7.18-8.14-6.06 8.38z" fill="#443b84"/><path d="M391.06 251.29l6.01-11.16-7.17-9.69-6.01 11.33z" fill="#2f6b8e"/><path d="M351.51 255.64l6-10.87-7.19-9.69-6 11.05z" fill="#30698e"/><path d="M574.11 400.58l5.95-8.09-7.25-6.33-5.96 8.24z" fill="#48186a"/><path d="M279.25 365.32l6.08-7.73-7.17-7.64-6.07 7.89z" fill="#472e7c"/><path d="M250.58 334.41l6.06-8.38-3.59-4.13-6.06 8.46z" fill="#423f85"/><path d="M455.38 413.67l5.98-7.27-7.2-6.34-5.98 7.43z" fill="#470e61"/><path d="M404.24 249.64l6.02-11.25-7.17-9.69-6.02 11.43z" fill="#2f6c8e"/><path d="M338.33 256.9l5.99-10.77-7.2-9.69-5.99 10.95z" fill="#31688e"/><path d="M334.32 393.01l6.05-7.27-7.15-6.98-6.06 7.42z" fill="#481c6e"/><path d="M354.68 399.24l6.05-7.2-7.16-6.83-6.04 7.36z" fill="#48186a"/><path d="M408.62 410.2l6.01-7.15-7.18-6.5-6.01 7.31z" fill="#471164"/><path d="M417.42 247.9l6.03-11.35-7.16-9.69-6.03 11.53z" fill="#2e6d8e"/><path d="M286.41 372.64l6.07-7.57-7.15-7.48-6.08 7.73z" fill="#482979"/><path d="M313.94 386.53l6.07-7.34-7.15-7.15-6.07 7.5z" fill="#482173"/><path d="M325.14 258.06l5.99-10.67-7.21-9.69-5.99 10.85z" fill="#31688e"/><path d="M375.05 405.21l6.03-7.13-7.16-6.67-6.03 7.29z" fill="#481668"/><path d="M587.33 398.67l5.95-8.19-7.26-6.33-5.96 8.34z" fill="#481a6c"/><path d="M442.19 414.67l5.99-7.18-7.19-6.34-6 7.34z" fill="#470e61"/><path d="M430.61 246.07l6.04-11.45-7.16-9.7-6.04 11.63z" fill="#2e6e8e"/><path d="M528.55 413.34l5.95-7.57-7.23-6.18-5.96 7.73z" fill="#471063"/><path d="M311.94 259.13l5.99-10.58-7.21-9.69-5.99 10.76z" fill="#31688e"/><path d="M515.36 414.79l5.95-7.47-7.23-6.18-5.96 7.63z" fill="#470e61"/><path d="M298.74 260.11l5.99-10.49-3.61-4.82-5.98 10.57z" fill="#31668e"/><path d="M541.75 411.79l5.95-7.66-7.24-6.17-5.96 7.81z" fill="#471164"/><path d="M502.16 416.16l5.96-7.39-7.22-6.18-5.96 7.54z" fill="#470e61"/><path d="M293.56 379.79l6.08-7.4-7.16-7.32-6.07 7.57z" fill="#482576"/><path d="M395.42 410.93l6.02-7.07-7.17-6.5-6.02 7.22z" fill="#471164"/><path d="M251.68 350.34l6.08-7.96-7.18-7.97-6.07 8.12z" fill="#453781"/><path d="M554.96 410.15l5.94-7.75-7.25-6.17-5.95 7.9z" fill="#471365"/><path d="M488.97 417.43l5.97-7.3-7.22-6.18-5.97 7.46z" fill="#470d60"/><path d="M429 415.58l5.99-7.09-7.18-6.35-6 7.25z" fill="#470e61"/><path d="M258.85 357.99l6.08-7.8-7.17-7.81-6.08 7.96z" fill="#46337f"/><path d="M244.51 342.53l6.07-8.12-3.59-4.05-6.07 8.2z" fill="#443a83"/><path d="M456.99 242.11l3.03-5.79-7.15-9.61-3.02 5.88z" fill="#2e6f8e"/><path d="M443.8 244.14l6.05-11.55-7.16-9.7-6.04 11.73z" fill="#2e6f8e"/><path d="M341.47 399.68l6.06-7.11-7.16-6.83-6.05 7.27z" fill="#481a6c"/><path d="M600.55 396.66l2.98-4.11-7.27-6.25-2.98 4.18z" fill="#481a6c"/><path d="M321.09 393.36l6.07-7.18-7.15-6.99-6.07 7.34z" fill="#481d6f"/><path d="M266.01 365.47l6.08-7.63-7.16-7.65-6.08 7.8z" fill="#472e7c"/><path d="M568.17 408.42l5.94-7.84-7.26-6.18-5.95 8z" fill="#481467"/><path d="M361.84 405.75l6.05-7.05-7.16-6.66-6.05 7.2z" fill="#481668"/><path d="M475.78 418.61l5.97-7.2-7.21-6.19-5.98 7.37z" fill="#470d60"/><path d="M370.7 243.32l6-11.24-7.19-9.87-6 11.42z" fill="#2d708e"/><path d="M357.51 244.77l6-11.14-7.2-9.87-5.99 11.32z" fill="#2e6f8e"/><path d="M300.71 386.78l6.08-7.24-7.15-7.15-6.08 7.4z" fill="#482173"/><path d="M273.17 372.79l6.08-7.47-7.16-7.48-6.08 7.63z" fill="#472a7a"/><path d="M383.89 241.77l6.01-11.33-7.19-9.88-6.01 11.52z" fill="#2d718e"/><path d="M581.38 406.6l5.95-7.93-7.27-6.18-5.95 8.09z" fill="#481668"/><path d="M344.32 246.13l6-11.05-7.21-9.87-5.99 11.23z" fill="#2e6e8e"/><path d="M415.8 416.39l6.01-7-7.18-6.34-6.01 7.15z" fill="#470e61"/><path d="M462.59 419.7l5.97-7.11-7.2-6.19-5.98 7.27z" fill="#460b5e"/><path d="M382.22 411.56l6.03-6.98-7.17-6.5-6.03 7.13z" fill="#471164"/><path d="M397.07 240.13l6.02-11.43-7.17-9.88-6.02 11.62z" fill="#2d718e"/><path d="M331.13 247.39l5.99-10.95-7.21-9.87-5.99 11.13z" fill="#2e6e8e"/><path d="M304.73 249.62l5.99-10.76-3.62-4.91-5.98 10.85z" fill="#2f6c8e"/><path d="M410.26 238.39l6.03-11.53-7.17-9.88-6.03 11.72z" fill="#2c718e"/><path d="M594.61 404.68l5.94-8.02-7.27-6.18-5.95 8.19z" fill="#481769"/><path d="M317.93 248.55l5.99-10.85-7.22-9.87-5.98 11.03z" fill="#2e6e8e"/><path d="M449.39 420.7l5.99-7.03-7.2-6.18-5.99 7.18z" fill="#460b5e"/><path d="M280.32 379.95l6.09-7.31-7.16-7.32-6.08 7.47z" fill="#482677"/><path d="M328.25 400.03l6.07-7.02-7.16-6.83-6.07 7.18z" fill="#481a6c"/><path d="M348.63 406.19l6.05-6.95-7.15-6.67-6.06 7.11z" fill="#481668"/><path d="M238.42 350.4l6.09-7.87-3.59-3.97-6.08 7.95z" fill="#453781"/><path d="M402.6 417.12l6.02-6.92-7.18-6.34-6.02 7.07z" fill="#470e61"/><path d="M307.86 393.62l6.08-7.09-7.15-6.99-6.08 7.24z" fill="#481d6f"/><path d="M245.59 358.05l6.09-7.71-7.17-7.81-6.09 7.87z" fill="#463480"/><path d="M423.45 236.55l6.04-11.63-7.16-9.88-6.04 11.82z" fill="#2c738e"/><path d="M535.81 419.2l5.94-7.41-7.25-6.02-5.95 7.57z" fill="#470d60"/><path d="M522.61 420.66l5.94-7.32-7.24-6.02-5.95 7.47z" fill="#470d60"/><path d="M252.75 365.53l6.1-7.54-7.17-7.65-6.09 7.71z" fill="#472f7d"/><path d="M549.02 417.66l5.94-7.51-7.26-6.02-5.95 7.66z" fill="#470e61"/><path d="M369.01 412.1l6.04-6.89-7.16-6.51-6.05 7.05z" fill="#471365"/><path d="M509.4 422.02l5.96-7.23-7.24-6.02-5.96 7.39z" fill="#460b5e"/><path d="M436.19 421.61l6-6.94-7.2-6.18-5.99 7.09z" fill="#460b5e"/><path d="M449.85 232.59l3.02-5.88-7.15-9.79-3.03 5.97z" fill="#2c738e"/><path d="M562.23 416.02l5.94-7.6-7.27-6.02-5.94 7.75z" fill="#471063"/><path d="M287.47 386.95l6.09-7.16-7.15-7.15-6.09 7.31z" fill="#482374"/><path d="M496.21 423.3l5.95-7.14-7.22-6.03-5.97 7.3z" fill="#460b5e"/><path d="M436.65 234.62l6.04-11.73-7.15-9.88-6.05 11.91z" fill="#2b748e"/><path d="M607.84 402.68l2.97-4.03-7.28-6.1-2.98 4.11z" fill="#48186a"/><path d="M259.91 372.86l6.1-7.39-7.16-7.48-6.1 7.54z" fill="#472c7a"/><path d="M575.45 414.29l5.93-7.69-7.27-6.02-5.94 7.84z" fill="#471164"/><path d="M483.01 424.48l5.96-7.05-7.22-6.02-5.97 7.2z" fill="#460a5d"/><path d="M389.39 417.75l6.03-6.82-7.17-6.35-6.03 6.98z" fill="#470e61"/><path d="M422.99 422.42l6.01-6.84-7.19-6.19-6.01 7z" fill="#460b5e"/><path d="M335.4 406.55l6.07-6.87-7.15-6.67-6.07 7.02z" fill="#481769"/><path d="M315.01 400.29l6.08-6.93-7.15-6.83-6.08 7.09z" fill="#481b6d"/><path d="M363.51 233.63l6-11.42-7.2-10.06-6 11.61z" fill="#2b758e"/><path d="M350.32 235.08l5.99-11.32-7.21-10.06-5.99 11.51z" fill="#2b748e"/><path d="M588.67 412.46l5.94-7.78-7.28-6.01-5.95 7.93z" fill="#471365"/><path d="M310.72 238.86l5.98-11.03-3.62-5.01-5.98 11.13z" fill="#2c718e"/><path d="M469.81 425.57l5.97-6.96-7.22-6.02-5.97 7.11z" fill="#460a5d"/><path d="M267.06 380.02l6.11-7.23-7.16-7.32-6.1 7.39z" fill="#482878"/><path d="M376.7 232.08l6.01-11.52-7.19-10.06-6.01 11.71z" fill="#2b758e"/><path d="M337.12 236.44l5.99-11.23-7.22-10.05-5.98 11.41z" fill="#2c738e"/><path d="M355.79 412.54l6.05-6.79-7.16-6.51-6.05 6.95z" fill="#471365"/><path d="M294.62 393.78l6.09-7-7.15-6.99-6.09 7.16z" fill="#481f70"/><path d="M389.9 230.44l6.02-11.62-7.19-10.06-6.02 11.8z" fill="#2a768e"/><path d="M323.92 237.7l5.99-11.13-7.23-10.06-5.98 11.32z" fill="#2c738e"/><path d="M601.9 410.55l5.94-7.87-7.29-6.02-5.94 8.02z" fill="#481467"/><path d="M232.32 358.01l6.1-7.61-3.58-3.89-6.11 7.7z" fill="#463480"/><path d="M403.09 228.7l6.03-11.72-7.18-10.06-6.02 11.9z" fill="#2a778e"/><path d="M456.6 426.57l5.99-6.87-7.21-6.03-5.99 7.03z" fill="#460a5d"/><path d="M409.78 423.15l6.02-6.76-7.18-6.19-6.02 6.92z" fill="#460b5e"/><path d="M239.48 365.5l6.11-7.45-7.17-7.65-6.1 7.61z" fill="#46307e"/><path d="M376.18 418.29l6.04-6.73-7.17-6.35-6.04 6.89z" fill="#471063"/><path d="M274.21 387.02l6.11-7.07-7.15-7.16-6.11 7.23z" fill="#482475"/><path d="M416.29 226.86l6.04-11.82-7.17-10.06-6.04 12z" fill="#29798e"/><path d="M246.64 372.83l6.11-7.3-7.16-7.48-6.11 7.45z" fill="#472d7b"/><path d="M443.4 427.48l5.99-6.78-7.2-6.03-6 6.94z" fill="#460a5d"/><path d="M543.08 424.91l5.94-7.25-7.27-5.87-5.94 7.41z" fill="#460b5e"/><path d="M529.87 426.37l5.94-7.17-7.26-5.86-5.94 7.32z" fill="#460a5d"/><path d="M322.16 406.81l6.09-6.78-7.16-6.67-6.08 6.93z" fill="#48186a"/><path d="M556.3 423.36l5.93-7.34-7.27-5.87-5.94 7.51z" fill="#470d60"/><path d="M516.66 427.74l5.95-7.08-7.25-5.87-5.96 7.23z" fill="#460a5d"/><path d="M442.69 222.89l3.03-5.97-7.15-9.98-3.03 6.07z" fill="#29798e"/><path d="M301.77 400.46l6.09-6.84-7.15-6.84-6.09 7z" fill="#481c6e"/><path d="M342.56 412.9l6.07-6.71-7.16-6.51-6.07 6.87z" fill="#481467"/><path d="M615.14 408.54l2.97-3.95-7.3-5.94-2.97 4.03z" fill="#481668"/><path d="M429.49 224.92l6.05-11.91-7.17-10.07-6.04 12.1z" fill="#297a8e"/><path d="M569.52 421.72l5.93-7.43-7.28-5.87-5.94 7.6z" fill="#470e61"/><path d="M503.45 429.01l5.95-6.99-7.24-5.86-5.95 7.14z" fill="#46085c"/><path d="M396.57 423.78l6.03-6.66-7.18-6.19-6.03 6.82z" fill="#470d60"/><path d="M253.79 379.99l6.12-7.13-7.16-7.33-6.11 7.3z" fill="#482979"/><path d="M281.36 393.86l6.11-6.91-7.15-7-6.11 7.07z" fill="#482071"/><path d="M582.74 419.99l5.93-7.53-7.29-5.86-5.93 7.69z" fill="#471063"/><path d="M490.25 430.2l5.96-6.9-7.24-5.87-5.96 7.05z" fill="#46085c"/><path d="M362.95 418.74l6.06-6.64-7.17-6.35-6.05 6.79z" fill="#471063"/><path d="M430.19 428.3l6-6.69-7.19-6.03-6.01 6.84z" fill="#460a5d"/><path d="M316.7 227.83l5.98-11.32-3.62-5.09-5.98 11.4z" fill="#2a778e"/><path d="M595.98 418.17l5.92-7.62-7.29-5.87-5.94 7.78z" fill="#471164"/><path d="M477.04 431.29l5.97-6.81-7.23-5.87-5.97 6.96z" fill="#46075a"/><path d="M356.31 223.76l6-11.61-7.21-10.24-6 11.79z" fill="#297b8e"/><path d="M343.11 225.21l5.99-11.51-7.22-10.24-5.99 11.7z" fill="#297a8e"/><path d="M369.51 222.21l6.01-11.71-7.2-10.24-6.01 11.89z" fill="#287c8e"/><path d="M329.91 226.57l5.98-11.41-7.22-10.24-5.99 11.59z" fill="#29798e"/><path d="M260.94 387l6.12-6.98-7.15-7.16-6.12 7.13z" fill="#482576"/><path d="M226.19 365.38l6.13-7.37-3.59-3.8-6.12 7.44z" fill="#46307e"/><path d="M382.71 220.56l6.02-11.8-7.19-10.25-6.02 11.99z" fill="#287c8e"/><path d="M383.35 424.33l6.04-6.58-7.17-6.19-6.04 6.73z" fill="#470d60"/><path d="M609.22 416.25l5.92-7.71-7.3-5.86-5.94 7.87z" fill="#471365"/><path d="M308.92 406.98l6.09-6.69-7.15-6.67-6.09 6.84z" fill="#48186a"/><path d="M416.98 429.03l6.01-6.61-7.19-6.03-6.02 6.76z" fill="#460a5d"/><path d="M329.32 413.17l6.08-6.62-7.15-6.52-6.09 6.78z" fill="#481467"/><path d="M463.83 432.29l5.98-6.72-7.22-5.87-5.99 6.87z" fill="#46075a"/><path d="M233.35 372.71l6.13-7.21-7.16-7.49-6.13 7.37z" fill="#472e7c"/><path d="M395.92 218.82l6.02-11.9-7.18-10.25-6.03 12.09z" fill="#287d8e"/><path d="M288.51 400.54l6.11-6.76-7.15-6.83-6.11 6.91z" fill="#481d6f"/><path d="M349.72 419.1l6.07-6.56-7.16-6.35-6.07 6.71z" fill="#471164"/><path d="M409.12 216.98l6.04-12-7.18-10.25-6.04 12.19z" fill="#277f8e"/><path d="M450.62 433.2l5.98-6.63-7.21-5.87-5.99 6.78z" fill="#46075a"/><path d="M268.09 393.84l6.12-6.82-7.15-7-6.12 6.98z" fill="#482173"/><path d="M240.5 379.88l6.14-7.05-7.16-7.33-6.13 7.21z" fill="#472a7a"/><path d="M435.54 213.01l3.03-6.07-7.17-10.16-3.03 6.16z" fill="#277f8e"/><path d="M550.37 430.47l5.93-7.11-7.28-5.7-5.94 7.25z" fill="#460a5d"/><path d="M537.15 431.93l5.93-7.02-7.27-5.71-5.94 7.17z" fill="#46085c"/><path d="M403.76 429.66l6.02-6.51-7.18-6.03-6.03 6.66z" fill="#460a5d"/><path d="M563.59 428.92l5.93-7.2-7.29-5.7-5.93 7.34z" fill="#460a5d"/><path d="M622.47 414.25l2.96-3.88-7.32-5.78-2.97 3.95z" fill="#481467"/><path d="M523.93 433.29l5.94-6.92-7.26-5.71-5.95 7.08z" fill="#46075a"/><path d="M370.12 424.78l6.06-6.49-7.17-6.19-6.06 6.64z" fill="#470d60"/><path d="M422.33 215.04l6.04-12.1-7.17-10.25-6.04 12.29z" fill="#27808e"/><path d="M576.82 427.28l5.92-7.29-7.29-5.7-5.93 7.43z" fill="#460b5e"/><path d="M510.71 434.57l5.95-6.83-7.26-5.72-5.95 6.99z" fill="#46075a"/><path d="M437.4 434.02l6-6.54-7.21-5.87-6 6.69z" fill="#46075a"/><path d="M316.07 413.34l6.09-6.53-7.15-6.52-6.09 6.69z" fill="#481668"/><path d="M247.65 386.88l6.14-6.89-7.15-7.16-6.14 7.05z" fill="#482677"/><path d="M590.06 425.54l5.92-7.37-7.31-5.71-5.93 7.53z" fill="#470d60"/><path d="M322.68 216.51l5.99-11.59-3.62-5.19-5.99 11.69z" fill="#277e8e"/><path d="M295.65 407.06l6.12-6.6-7.15-6.68-6.11 6.76z" fill="#481a6c"/><path d="M497.5 435.75l5.95-6.74-7.24-5.71-5.96 6.9z" fill="#450559"/><path d="M336.48 419.37l6.08-6.47-7.16-6.35-6.08 6.62z" fill="#471164"/><path d="M275.23 400.52l6.13-6.66-7.15-6.84-6.12 6.82z" fill="#481f70"/><path d="M603.3 423.72l5.92-7.47-7.32-5.7-5.92 7.62z" fill="#471063"/><path d="M390.53 430.21l6.04-6.43-7.18-6.03-6.04 6.58z" fill="#460a5d"/><path d="M484.28 436.85l5.97-6.65-7.24-5.72-5.97 6.81z" fill="#450559"/><path d="M349.1 213.7l6-11.79-7.22-10.43-6 11.98z" fill="#26818e"/><path d="M335.89 215.16l5.99-11.7-7.23-10.43-5.98 11.89z" fill="#27808e"/><path d="M220.04 372.49l6.15-7.11-3.58-3.73-6.15 7.2z" fill="#472e7c"/><path d="M362.31 212.15l6.01-11.89-7.22-10.43-6 12.08z" fill="#26828e"/><path d="M424.18 434.75l6.01-6.45-7.2-5.88-6.01 6.61z" fill="#46075a"/><path d="M356.89 425.14l6.06-6.4-7.16-6.2-6.07 6.56z" fill="#470e61"/><path d="M375.52 210.5l6.02-11.99-7.21-10.43-6.01 12.18z" fill="#26828e"/><path d="M616.55 421.8l5.92-7.55-7.33-5.71-5.92 7.71z" fill="#471164"/><path d="M254.8 393.73l6.14-6.73-7.15-7.01-6.14 6.89z" fill="#482374"/><path d="M471.07 437.85l5.97-6.56-7.23-5.72-5.98 6.72z" fill="#450559"/><path d="M227.2 379.67l6.15-6.96-7.16-7.33-6.15 7.11z" fill="#472c7a"/><path d="M388.73 208.76l6.03-12.09-7.2-10.44-6.02 12.28z" fill="#25838e"/><path d="M302.8 413.42l6.12-6.44-7.15-6.52-6.12 6.6z" fill="#481769"/><path d="M401.94 206.92l6.04-12.19-7.19-10.44-6.03 12.38z" fill="#25848e"/><path d="M377.3 430.66l6.05-6.33-7.17-6.04-6.06 6.49z" fill="#460b5e"/><path d="M457.85 438.77l5.98-6.48-7.23-5.72-5.98 6.63z" fill="#450559"/><path d="M410.96 435.39l6.02-6.36-7.2-5.88-6.02 6.51z" fill="#46085c"/><path d="M282.38 407.05l6.13-6.51-7.15-6.68-6.13 6.66z" fill="#481b6d"/><path d="M323.22 419.54l6.1-6.37-7.16-6.36-6.09 6.53z" fill="#471365"/><path d="M428.37 202.94l3.03-6.16-7.17-10.35-3.03 6.26z" fill="#25858e"/><path d="M234.35 386.68l6.15-6.8-7.15-7.17-6.15 6.96z" fill="#482878"/><path d="M629.82 419.8l2.95-3.8-7.34-5.63-2.96 3.88z" fill="#471164"/><path d="M557.67 435.87l5.92-6.95-7.29-5.56-5.93 7.11z" fill="#46085c"/><path d="M544.44 437.33l5.93-6.86-7.29-5.56-5.93 7.02z" fill="#46075a"/><path d="M415.16 204.98l6.04-12.29-7.18-10.44-6.04 12.48z" fill="#25858e"/><path d="M570.91 434.32l5.91-7.04-7.3-5.56-5.93 7.2z" fill="#46085c"/><path d="M261.94 400.41l6.15-6.57-7.15-6.84-6.14 6.73z" fill="#482071"/><path d="M343.64 425.41l6.08-6.31-7.16-6.2-6.08 6.47z" fill="#471063"/><path d="M531.22 438.7l5.93-6.77-7.28-5.56-5.94 6.92z" fill="#450559"/><path d="M584.15 432.68l5.91-7.14-7.32-5.55-5.92 7.29z" fill="#460a5d"/><path d="M444.63 439.59l5.99-6.39-7.22-5.72-6 6.54z" fill="#450559"/><path d="M517.99 439.97l5.94-6.68-7.27-5.55-5.95 6.83z" fill="#450559"/><path d="M328.67 204.92l5.98-11.89-3.62-5.28-5.98 11.98z" fill="#25848e"/><path d="M597.4 430.94l5.9-7.22-7.32-5.55-5.92 7.37z" fill="#460b5e"/><path d="M504.77 441.16l5.94-6.59-7.26-5.56-5.95 6.74z" fill="#450457"/><path d="M397.73 435.94l6.03-6.28-7.19-5.88-6.04 6.43z" fill="#46085c"/><path d="M241.49 393.52l6.16-6.64-7.15-7-6.15 6.8z" fill="#482475"/><path d="M364.06 431.03l6.06-6.25-7.17-6.04-6.06 6.4z" fill="#460b5e"/><path d="M610.65 429.12l5.9-7.32-7.33-5.55-5.92 7.47z" fill="#470e61"/><path d="M491.54 442.26l5.96-6.51-7.25-5.55-5.97 6.65z" fill="#450457"/><path d="M431.4 440.32l6-6.3-7.21-5.72-6.01 6.45z" fill="#450559"/><path d="M289.52 413.41l6.13-6.35-7.14-6.52-6.13 6.51z" fill="#48186a"/><path d="M213.88 379.36l6.16-6.87-3.58-3.64-6.16 6.95z" fill="#472d7b"/><path d="M309.95 419.63l6.12-6.29-7.15-6.36-6.12 6.44z" fill="#481467"/><path d="M341.88 203.46l6-11.98-7.24-10.62-5.99 12.17z" fill="#24878e"/><path d="M355.1 201.91l6-12.08-7.22-10.62-6 12.27z" fill="#24878e"/><path d="M269.09 406.94l6.14-6.42-7.14-6.68-6.15 6.57z" fill="#481c6e"/><path d="M623.91 427.2l5.91-7.4-7.35-5.55-5.92 7.55z" fill="#471063"/><path d="M368.32 200.26l6.01-12.18-7.22-10.62-6.01 12.37z" fill="#23888e"/><path d="M330.38 425.59l6.1-6.22-7.16-6.2-6.1 6.37z" fill="#471063"/><path d="M478.32 443.26l5.96-6.41-7.24-5.56-5.97 6.56z" fill="#450457"/><path d="M221.03 386.38l6.17-6.71-7.16-7.18-6.16 6.87z" fill="#482979"/><path d="M381.54 198.51l6.02-12.28-7.21-10.62-6.02 12.47z" fill="#23898e"/><path d="M384.49 436.39l6.04-6.18-7.18-5.88-6.05 6.33z" fill="#46085c"/><path d="M248.64 400.21l6.16-6.48-7.15-6.85-6.16 6.64z" fill="#482173"/><path d="M418.17 440.96l6.01-6.21-7.2-5.72-6.02 6.36z" fill="#450559"/><path d="M350.8 431.3l6.09-6.16-7.17-6.04-6.08 6.31z" fill="#470d60"/><path d="M465.09 444.17l5.98-6.32-7.24-5.56-5.98 6.48z" fill="#450457"/><path d="M394.76 196.67l6.03-12.38-7.2-10.63-6.03 12.57z" fill="#238a8d"/><path d="M421.2 192.69l3.03-6.26-7.18-10.54-3.03 6.36z" fill="#228b8d"/><path d="M637.18 425.19l2.95-3.72-7.36-5.47-2.95 3.8z" fill="#471063"/><path d="M407.98 194.73l6.04-12.48-7.19-10.63-6.04 12.67z" fill="#228c8d"/><path d="M228.17 393.23l6.18-6.55-7.15-7.01-6.17 6.71z" fill="#482677"/><path d="M565 441.11l5.91-6.79-7.32-5.4-5.92 6.95z" fill="#46075a"/><path d="M551.76 442.57l5.91-6.7-7.3-5.4-5.93 6.86z" fill="#450559"/><path d="M296.67 419.62l6.13-6.2-7.15-6.36-6.13 6.35z" fill="#481668"/><path d="M578.24 439.56l5.91-6.88-7.33-5.4-5.91 7.04z" fill="#46085c"/><path d="M538.52 443.94l5.92-6.61-7.29-5.4-5.93 6.77z" fill="#450457"/><path d="M451.86 445l5.99-6.23-7.23-5.57-5.99 6.39z" fill="#450457"/><path d="M276.23 413.31l6.15-6.26-7.15-6.53-6.14 6.42z" fill="#481a6c"/><path d="M371.24 436.76l6.06-6.1-7.18-5.88-6.06 6.25z" fill="#460a5d"/><path d="M591.49 437.92l5.91-6.98-7.34-5.4-5.91 7.14z" fill="#460a5d"/><path d="M317.11 425.68l6.11-6.14-7.15-6.2-6.12 6.29z" fill="#471164"/><path d="M525.29 445.22l5.93-6.52-7.29-5.41-5.94 6.68z" fill="#450457"/><path d="M404.93 441.51l6.03-6.12-7.2-5.73-6.03 6.28z" fill="#46075a"/><path d="M255.78 406.74l6.16-6.33-7.14-6.68-6.16 6.48z" fill="#481d6f"/><path d="M334.65 193.03l5.99-12.17-3.62-5.38-5.99 12.27z" fill="#228b8d"/><path d="M604.75 436.18l5.9-7.06-7.35-5.4-5.9 7.22z" fill="#460b5e"/><path d="M512.05 446.41l5.94-6.44-7.28-5.4-5.94 6.59z" fill="#450457"/><path d="M337.54 431.48l6.1-6.07-7.16-6.04-6.1 6.22z" fill="#470e61"/><path d="M438.63 445.73l6-6.14-7.23-5.57-6 6.3z" fill="#450457"/><path d="M618.02 434.36l5.89-7.16-7.36-5.4-5.9 7.32z" fill="#470d60"/><path d="M498.82 447.51l5.95-6.35-7.27-5.41-5.96 6.51z" fill="#440256"/><path d="M235.31 399.92l6.18-6.4-7.14-6.84-6.18 6.55z" fill="#482374"/><path d="M207.68 385.98l6.2-6.62-3.58-3.56-6.19 6.7z" fill="#472a7a"/><path d="M347.88 191.48l6-12.27-7.24-10.81-6 12.46z" fill="#218e8d"/><path d="M391.68 441.97l6.05-6.03-7.2-5.73-6.04 6.18z" fill="#46075a"/><path d="M631.29 432.44l5.89-7.25-7.36-5.39-5.91 7.4z" fill="#470e61"/><path d="M485.58 448.52l5.96-6.26-7.26-5.41-5.96 6.41z" fill="#440256"/><path d="M361.1 189.83l6.01-12.37-7.23-10.81-6 12.56z" fill="#218f8d"/><path d="M357.98 437.03l6.08-6-7.17-5.89-6.09 6.16z" fill="#460b5e"/><path d="M283.37 419.52l6.15-6.11-7.14-6.36-6.15 6.26z" fill="#481769"/><path d="M425.39 446.37l6.01-6.05-7.22-5.57-6.01 6.21z" fill="#450457"/><path d="M374.33 188.08l6.02-12.47-7.22-10.82-6.02 12.67z" fill="#21908d"/><path d="M303.82 425.67l6.13-6.04-7.15-6.21-6.13 6.2z" fill="#471365"/><path d="M262.92 413.12l6.17-6.18-7.15-6.53-6.16 6.33z" fill="#481b6d"/><path d="M214.83 392.84l6.2-6.46-7.15-7.02-6.2 6.62z" fill="#482878"/><path d="M472.35 449.43l5.97-6.17-7.25-5.41-5.98 6.32z" fill="#440256"/><path d="M387.56 186.23l6.03-12.57-7.21-10.82-6.03 12.77z" fill="#21918c"/><path d="M324.26 431.57l6.12-5.98-7.16-6.05-6.11 6.14z" fill="#471063"/><path d="M242.45 406.45l6.19-6.24-7.15-6.69-6.18 6.4z" fill="#482071"/><path d="M414.02 182.25l3.03-6.36-7.19-10.72-3.03 6.45z" fill="#20928c"/><path d="M644.57 430.43l2.95-3.64-7.39-5.32-2.95 3.72z" fill="#471063"/><path d="M378.42 442.33l6.07-5.94-7.19-5.73-6.06 6.1z" fill="#46085c"/><path d="M400.79 184.29l6.04-12.67-7.2-10.83-6.04 12.87z" fill="#20928c"/><path d="M459.11 450.26l5.98-6.09-7.24-5.4-5.99 6.23z" fill="#440256"/><path d="M412.14 446.92l6.03-5.96-7.21-5.57-6.03 6.12z" fill="#450559"/><path d="M572.34 446.21l5.9-6.65-7.33-5.24-5.91 6.79z" fill="#450559"/><path d="M559.09 447.67l5.91-6.56-7.33-5.24-5.91 6.7z" fill="#450457"/><path d="M585.6 444.65l5.89-6.73-7.34-5.24-5.91 6.88z" fill="#46075a"/><path d="M344.71 437.22l6.09-5.92-7.16-5.89-6.1 6.07z" fill="#460b5e"/><path d="M545.84 449.04l5.92-6.47-7.32-5.24-5.92 6.61z" fill="#450457"/><path d="M221.97 399.54l6.2-6.31-7.14-6.85-6.2 6.46z" fill="#482576"/><path d="M598.86 443.01l5.89-6.83-7.35-5.24-5.91 6.98z" fill="#46085c"/><path d="M532.6 450.32l5.92-6.38-7.3-5.24-5.93 6.52z" fill="#440256"/><path d="M612.13 441.27l5.89-6.91-7.37-5.24-5.9 7.06z" fill="#460a5d"/><path d="M519.35 451.51l5.94-6.29-7.3-5.25-5.94 6.44z" fill="#440256"/><path d="M340.64 180.86l6-12.46-3.63-5.48-5.99 12.56z" fill="#20928c"/><path d="M270.06 419.33l6.17-6.02-7.14-6.37-6.17 6.18z" fill="#48186a"/><path d="M290.52 425.58l6.15-5.96-7.15-6.21-6.15 6.11z" fill="#481467"/><path d="M445.87 450.99l5.99-5.99-7.23-5.41-6 6.14z" fill="#440256"/><path d="M249.59 412.83l6.19-6.09-7.14-6.53-6.19 6.24z" fill="#481d6f"/><path d="M625.41 439.45l5.88-7.01-7.38-5.24-5.89 7.16z" fill="#460b5e"/><path d="M310.97 431.57l6.14-5.89-7.16-6.05-6.13 6.04z" fill="#471164"/><path d="M506.11 452.61l5.94-6.2-7.28-5.25-5.95 6.35z" fill="#440256"/><path d="M365.16 442.61l6.08-5.85-7.18-5.73-6.08 6z" fill="#46085c"/><path d="M398.88 447.38l6.05-5.87-7.2-5.57-6.05 6.03z" fill="#450559"/><path d="M201.47 392.36l6.21-6.38-3.57-3.48-6.21 6.45z" fill="#482979"/><path d="M638.69 437.53l5.88-7.1-7.39-5.24-5.89 7.25z" fill="#470d60"/><path d="M229.11 406.07l6.2-6.15-7.14-6.69-6.2 6.31z" fill="#482173"/><path d="M492.87 453.62l5.95-6.11-7.28-5.25-5.96 6.26z" fill="#440154"/><path d="M331.43 437.31l6.11-5.83-7.16-5.89-6.12 5.98z" fill="#470d60"/><path d="M353.88 179.21l6-12.56-7.24-11.01-6 12.76z" fill="#1f958b"/><path d="M432.62 451.63l6.01-5.9-7.23-5.41-6.01 6.05z" fill="#440256"/><path d="M367.11 177.46l6.02-12.67-7.23-11.01-6.02 12.87z" fill="#1f968b"/><path d="M479.62 454.53l5.96-6.01-7.26-5.26-5.97 6.17z" fill="#440154"/><path d="M385.62 447.75l6.06-5.78-7.19-5.58-6.07 5.94z" fill="#46075a"/><path d="M208.61 399.06l6.22-6.22-7.15-6.86-6.21 6.38z" fill="#482677"/><path d="M380.35 175.61l6.03-12.77-7.22-11.01-6.03 12.96z" fill="#1f978b"/><path d="M351.88 442.8l6.1-5.77-7.18-5.73-6.09 5.92z" fill="#460a5d"/><path d="M406.83 171.62l3.03-6.45-7.2-10.92-3.03 6.54z" fill="#1f978b"/><path d="M277.2 425.39l6.17-5.87-7.14-6.21-6.17 6.02z" fill="#481769"/><path d="M256.73 419.05l6.19-5.93-7.14-6.38-6.19 6.09z" fill="#481b6d"/><path d="M651.99 435.52l2.93-3.57-7.4-5.16-2.95 3.64z" fill="#470e61"/><path d="M419.36 452.19l6.03-5.82-7.22-5.41-6.03 5.96z" fill="#450457"/><path d="M297.67 431.47l6.15-5.8-7.15-6.05-6.15 5.96z" fill="#471365"/><path d="M393.59 173.66l6.04-12.87-7.21-11.01-6.04 13.06z" fill="#1f988b"/><path d="M466.37 455.36l5.98-5.93-7.26-5.26-5.98 6.09z" fill="#440154"/><path d="M236.25 412.45l6.2-6-7.14-6.53-6.2 6.15z" fill="#481f70"/><path d="M579.71 451.15l5.89-6.5-7.36-5.09-5.9 6.65z" fill="#450559"/><path d="M566.44 452.61l5.9-6.4-7.34-5.1-5.91 6.56z" fill="#450457"/><path d="M592.98 449.59l5.88-6.58-7.37-5.09-5.89 6.73z" fill="#450559"/><path d="M553.19 453.98l5.9-6.31-7.33-5.1-5.92 6.47z" fill="#440256"/><path d="M318.13 437.31l6.13-5.74-7.15-5.89-6.14 5.89z" fill="#470e61"/><path d="M606.25 447.95l5.88-6.68-7.38-5.09-5.89 6.83z" fill="#46075a"/><path d="M539.93 455.26l5.91-6.22-7.32-5.1-5.92 6.38z" fill="#440256"/><path d="M372.35 448.03l6.07-5.7-7.18-5.57-6.08 5.85z" fill="#46075a"/><path d="M215.75 405.6l6.22-6.06-7.14-6.7-6.22 6.22z" fill="#482475"/><path d="M619.53 446.21l5.88-6.76-7.39-5.09-5.89 6.91z" fill="#46085c"/><path d="M453.12 456.1l5.99-5.84-7.25-5.26-5.99 5.99z" fill="#440256"/><path d="M526.67 456.45l5.93-6.13-7.31-5.1-5.94 6.29z" fill="#440154"/><path d="M406.1 452.65l6.04-5.73-7.21-5.41-6.05 5.87z" fill="#450457"/><path d="M338.59 442.89l6.12-5.67-7.17-5.74-6.11 5.83z" fill="#460b5e"/><path d="M346.64 168.4l6-12.76-3.63-5.58-6 12.86z" fill="#1f9a8a"/><path d="M632.82 444.38l5.87-6.85-7.4-5.09-5.88 7.01z" fill="#460b5e"/><path d="M513.42 457.55l5.93-6.04-7.3-5.1-5.94 6.2z" fill="#440154"/><path d="M263.87 425.11l6.19-5.78-7.14-6.21-6.19 5.93z" fill="#48186a"/><path d="M646.12 442.46l5.87-6.94-7.42-5.09-5.88 7.1z" fill="#470d60"/><path d="M284.35 431.29l6.17-5.71-7.15-6.06-6.17 5.87z" fill="#481467"/><path d="M439.86 456.74l6.01-5.75-7.24-5.26-6.01 5.9z" fill="#440256"/><path d="M500.17 458.56l5.94-5.95-7.29-5.1-5.95 6.11z" fill="#440154"/><path d="M243.38 418.67l6.21-5.84-7.14-6.38-6.2 6z" fill="#481c6e"/><path d="M195.23 398.49l6.24-6.13-3.57-3.41-6.24 6.21z" fill="#482878"/><path d="M304.82 437.22l6.15-5.65-7.15-5.9-6.15 5.8z" fill="#471063"/><path d="M359.07 448.22l6.09-5.61-7.18-5.58-6.1 5.77z" fill="#46085c"/><path d="M392.83 453.02l6.05-5.64-7.2-5.41-6.06 5.78z" fill="#450559"/><path d="M222.88 411.98l6.23-5.91-7.14-6.53-6.22 6.06z" fill="#482173"/><path d="M359.88 166.65l6.02-12.87-7.25-11.2-6.01 13.06z" fill="#1e9d89"/><path d="M486.91 459.48l5.96-5.86-7.29-5.1-5.96 6.01z" fill="#440154"/><path d="M373.13 164.79l6.03-12.96-7.24-11.21-6.02 13.16z" fill="#1f9e89"/><path d="M325.29 442.89l6.14-5.58-7.17-5.74-6.13 5.74z" fill="#470d60"/><path d="M426.6 457.3l6.02-5.67-7.23-5.26-6.03 5.82z" fill="#440256"/><path d="M399.63 160.79l3.03-6.54-7.22-11.12-3.02 6.65z" fill="#1f9e89"/><path d="M659.42 440.45l2.94-3.49-7.44-5.01-2.93 3.57z" fill="#470e61"/><path d="M202.36 405.03l6.25-5.97-7.14-6.7-6.24 6.13z" fill="#482576"/><path d="M473.65 460.31l5.97-5.78-7.27-5.1-5.98 5.93z" fill="#440154"/><path d="M386.38 162.84l6.04-13.06-7.23-11.21-6.03 13.26z" fill="#1f9f88"/><path d="M379.55 453.3l6.07-5.55-7.2-5.42-6.07 5.7z" fill="#450559"/><path d="M587.09 455.93l5.89-6.34-7.38-4.94-5.89 6.5z" fill="#450457"/><path d="M573.82 457.4l5.89-6.25-7.37-4.94-5.9 6.4z" fill="#450457"/><path d="M600.37 454.38l5.88-6.43-7.39-4.94-5.88 6.58z" fill="#450559"/><path d="M560.55 458.77l5.89-6.16-7.35-4.94-5.9 6.31z" fill="#440256"/><path d="M271.01 431.01l6.19-5.62-7.14-6.06-6.19 5.78z" fill="#481668"/><path d="M250.52 424.74l6.21-5.69-7.14-6.22-6.21 5.84z" fill="#481a6c"/><path d="M345.77 448.32l6.11-5.52-7.17-5.58-6.12 5.67z" fill="#460a5d"/><path d="M613.66 452.73l5.87-6.52-7.4-4.94-5.88 6.68z" fill="#46075a"/><path d="M547.28 460.05l5.91-6.07-7.35-4.94-5.91 6.22z" fill="#440256"/><path d="M413.33 457.76l6.03-5.57-7.22-5.27-6.04 5.73z" fill="#450457"/><path d="M291.49 437.03l6.18-5.56-7.15-5.89-6.17 5.71z" fill="#471365"/><path d="M230.01 418.2l6.24-5.75-7.14-6.38-6.23 5.91z" fill="#481f70"/><path d="M460.39 461.05l5.98-5.69-7.26-5.1-5.99 5.84z" fill="#440154"/><path d="M626.95 450.99l5.87-6.61-7.41-4.93-5.88 6.76z" fill="#46085c"/><path d="M534.01 461.25l5.92-5.99-7.33-4.94-5.93 6.13z" fill="#440154"/><path d="M311.98 442.8l6.15-5.49-7.16-5.74-6.15 5.65z" fill="#470e61"/><path d="M209.5 411.42l6.25-5.82-7.14-6.54-6.25 5.97z" fill="#482374"/><path d="M640.25 449.16l5.87-6.7-7.43-4.93-5.87 6.85z" fill="#460a5d"/><path d="M520.75 462.35l5.92-5.9-7.32-4.94-5.93 6.04z" fill="#440154"/><path d="M352.64 155.64l6.01-13.06-3.63-5.68-6.01 13.16z" fill="#1fa187"/><path d="M447.12 461.7l6-5.6-7.25-5.11-6.01 5.75z" fill="#440154"/><path d="M366.26 453.49l6.09-5.46-7.19-5.42-6.09 5.61z" fill="#46075a"/><path d="M653.57 447.24l5.85-6.79-7.43-4.93-5.87 6.94z" fill="#460b5e"/><path d="M507.48 463.36l5.94-5.81-7.31-4.94-5.94 5.95z" fill="#440154"/><path d="M400.05 458.14l6.05-5.49-7.22-5.27-6.05 5.64z" fill="#450457"/><path d="M332.46 448.32l6.13-5.43-7.16-5.58-6.14 5.58z" fill="#460b5e"/><path d="M257.65 430.64l6.22-5.53-7.14-6.06-6.21 5.69z" fill="#48186a"/><path d="M188.96 404.37l6.27-5.88-3.57-3.33-6.27 5.96z" fill="#482677"/><path d="M494.21 464.28l5.96-5.72-7.3-4.94-5.96 5.86z" fill="#440154"/><path d="M237.15 424.27l6.23-5.6-7.13-6.22-6.24 5.75z" fill="#481c6e"/><path d="M278.15 436.76l6.2-5.47-7.15-5.9-6.19 5.62z" fill="#481467"/><path d="M433.85 462.25l6.01-5.51-7.24-5.11-6.02 5.67z" fill="#440256"/><path d="M365.9 153.78l6.02-13.16-7.25-11.4-6.02 13.36z" fill="#20a486"/><path d="M392.42 149.78l3.02-6.65-7.22-11.31-3.03 6.75z" fill="#21a585"/><path d="M216.63 417.64l6.25-5.66-7.13-6.38-6.25 5.82z" fill="#482071"/><path d="M666.89 445.23l2.92-3.41-7.45-4.86-2.94 3.49z" fill="#470d60"/><path d="M298.64 442.62l6.18-5.4-7.15-5.75-6.18 5.56z" fill="#471063"/><path d="M480.95 465.11l5.96-5.63-7.29-4.95-5.97 5.78z" fill="#440154"/><path d="M386.76 458.42l6.07-5.4-7.21-5.27-6.07 5.55z" fill="#450559"/><path d="M352.95 453.59l6.12-5.37-7.19-5.42-6.11 5.52z" fill="#46085c"/><path d="M379.16 151.83l6.03-13.26-7.23-11.41-6.04 13.46z" fill="#21a585"/><path d="M196.09 410.76l6.27-5.73-7.13-6.54-6.27 5.88z" fill="#482576"/><path d="M594.5 460.56l5.87-6.18-7.39-4.79-5.89 6.34z" fill="#450457"/><path d="M420.57 462.72l6.03-5.42-7.24-5.11-6.03 5.57z" fill="#440256"/><path d="M581.22 462.03l5.87-6.1-7.38-4.78-5.89 6.25z" fill="#450457"/><path d="M319.14 448.24l6.15-5.35-7.16-5.58-6.15 5.49z" fill="#470d60"/><path d="M607.8 459.01l5.86-6.28-7.41-4.78-5.88 6.43z" fill="#450559"/><path d="M567.93 463.41l5.89-6.01-7.38-4.79-5.89 6.16z" fill="#440256"/><path d="M467.67 465.85l5.98-5.54-7.28-4.95-5.98 5.69z" fill="#440154"/><path d="M621.1 457.36l5.85-6.37-7.42-4.78-5.87 6.52z" fill="#46075a"/><path d="M554.65 464.69l5.9-5.92-7.36-4.79-5.91 6.07z" fill="#440154"/><path d="M634.4 455.62l5.85-6.46-7.43-4.78-5.87 6.61z" fill="#46085c"/><path d="M541.37 465.88l5.91-5.83-7.35-4.79-5.92 5.99z" fill="#440154"/><path d="M244.28 430.18l6.24-5.44-7.14-6.07-6.23 5.6z" fill="#481a6c"/><path d="M373.46 458.61l6.09-5.31-7.2-5.27-6.09 5.46z" fill="#46075a"/><path d="M264.79 436.39l6.22-5.38-7.14-5.9-6.22 5.53z" fill="#481668"/><path d="M647.72 453.79l5.85-6.55-7.45-4.78-5.87 6.7z" fill="#460a5d"/><path d="M223.75 423.72l6.26-5.52-7.13-6.22-6.25 5.66z" fill="#481d6f"/><path d="M528.1 466.99l5.91-5.74-7.34-4.8-5.92 5.9z" fill="#440154"/><path d="M339.64 453.6l6.13-5.28-7.18-5.43-6.13 5.43z" fill="#460a5d"/><path d="M454.39 466.5l6-5.45-7.27-4.95-6 5.6z" fill="#440154"/><path d="M407.28 463.1l6.05-5.34-7.23-5.11-6.05 5.49z" fill="#450457"/><path d="M285.3 442.35l6.19-5.32-7.14-5.74-6.2 5.47z" fill="#471365"/><path d="M661.04 451.86l5.85-6.63-7.47-4.78-5.85 6.79z" fill="#460b5e"/><path d="M203.22 416.99l6.28-5.57-7.14-6.39-6.27 5.73z" fill="#482374"/><path d="M514.82 468l5.93-5.65-7.33-4.8-5.94 5.81z" fill="#440154"/><path d="M358.65 142.58l6.02-13.36-3.63-5.78-6.02 13.46z" fill="#24aa83"/><path d="M305.8 448.06l6.18-5.26-7.16-5.58-6.18 5.4z" fill="#470e61"/><path d="M501.54 468.92l5.94-5.56-7.31-4.8-5.96 5.72z" fill="#440154"/><path d="M441.11 467.06l6.01-5.36-7.26-4.96-6.01 5.51z" fill="#440154"/><path d="M360.15 458.71l6.11-5.22-7.19-5.27-6.12 5.37z" fill="#46075a"/><path d="M393.98 463.38l6.07-5.24-7.22-5.12-6.07 5.4z" fill="#450457"/><path d="M385.19 138.57l3.03-6.75-7.24-11.51-3.02 6.85z" fill="#25ac82"/><path d="M182.66 410.01l6.3-5.64-3.57-3.25-6.3 5.71z" fill="#482677"/><path d="M674.38 449.85l2.92-3.33-7.49-4.7-2.92 3.41z" fill="#470d60"/><path d="M326.31 453.52l6.15-5.2-7.17-5.43-6.15 5.35z" fill="#460b5e"/><path d="M488.26 469.76l5.95-5.48-7.3-4.8-5.96 5.63z" fill="#440154"/><path d="M251.41 435.94l6.24-5.3-7.13-5.9-6.24 5.44z" fill="#48186a"/><path d="M230.88 429.63l6.27-5.36-7.14-6.07-6.26 5.52z" fill="#481c6e"/><path d="M371.92 140.62l6.04-13.46-7.26-11.61-6.03 13.67z" fill="#26ad81"/><path d="M271.93 441.99l6.22-5.23-7.14-5.75-6.22 5.38z" fill="#481467"/><path d="M427.82 467.53l6.03-5.28-7.25-4.95-6.03 5.42z" fill="#440256"/><path d="M210.34 423.07l6.29-5.43-7.13-6.22-6.28 5.57z" fill="#482071"/><path d="M601.94 465.04l5.86-6.03-7.43-4.63-5.87 6.18z" fill="#450457"/><path d="M588.64 466.51l5.86-5.95-7.41-4.63-5.87 6.1z" fill="#450457"/><path d="M474.97 470.5l5.98-5.39-7.3-4.8-5.98 5.54z" fill="#440154"/><path d="M615.24 463.49l5.86-6.13-7.44-4.63-5.86 6.28z" fill="#450559"/><path d="M575.34 467.89l5.88-5.86-7.4-4.63-5.89 6.01z" fill="#440256"/><path d="M292.45 447.79l6.19-5.17-7.15-5.59-6.19 5.32z" fill="#471164"/><path d="M628.56 461.84l5.84-6.22-7.45-4.63-5.85 6.37z" fill="#46075a"/><path d="M189.78 416.25l6.31-5.49-7.13-6.39-6.3 5.64z" fill="#482576"/><path d="M562.05 469.18l5.88-5.77-7.38-4.64-5.9 5.92z" fill="#440256"/><path d="M380.67 463.58l6.09-5.16-7.21-5.12-6.09 5.31z" fill="#450559"/><path d="M346.82 458.72l6.13-5.13-7.18-5.27-6.13 5.28z" fill="#46085c"/><path d="M641.88 460.09l5.84-6.3-7.47-4.63-5.85 6.46z" fill="#46085c"/><path d="M548.75 470.37l5.9-5.68-7.37-4.64-5.91 5.83z" fill="#440154"/><path d="M414.52 467.9l6.05-5.18-7.24-4.96-6.05 5.34z" fill="#440256"/><path d="M461.68 471.15l5.99-5.3-7.28-4.8-6 5.45z" fill="#440154"/><path d="M655.21 458.26l5.83-6.4-7.47-4.62-5.85 6.55z" fill="#460a5d"/><path d="M312.97 453.34l6.17-5.1-7.16-5.44-6.18 5.26z" fill="#470d60"/><path d="M535.46 471.48l5.91-5.6-7.36-4.63-5.91 5.74z" fill="#440154"/><path d="M668.55 456.34l5.83-6.49-7.49-4.62-5.85 6.63z" fill="#460b5e"/><path d="M522.17 472.49l5.93-5.5-7.35-4.64-5.93 5.65z" fill="#440154"/><path d="M238.01 435.39l6.27-5.21-7.13-5.91-6.27 5.36z" fill="#481a6c"/><path d="M217.47 428.98l6.28-5.26-7.12-6.08-6.29 5.43z" fill="#481d6f"/><path d="M258.55 441.54l6.24-5.15-7.14-5.75-6.24 5.3z" fill="#481668"/><path d="M367.35 463.68l6.11-5.07-7.2-5.12-6.11 5.22z" fill="#46075a"/><path d="M448.39 471.71l6-5.21-7.27-4.8-6.01 5.36z" fill="#440154"/><path d="M333.49 458.64l6.15-5.04-7.18-5.28-6.15 5.2z" fill="#460b5e"/><path d="M196.91 422.32l6.31-5.33-7.13-6.23-6.31 5.49z" fill="#482374"/><path d="M508.88 473.42l5.94-5.42-7.34-4.64-5.94 5.56z" fill="#440154"/><path d="M401.21 468.19l6.07-5.09-7.23-4.96-6.07 5.24z" fill="#450457"/><path d="M279.08 447.43l6.22-5.08-7.15-5.59-6.22 5.23z" fill="#471365"/><path d="M364.67 129.22l6.03-13.67-3.63-5.88-6.03 13.77z" fill="#2cb17e"/><path d="M377.96 127.16l3.02-6.85-7.26-11.71-3.02 6.95z" fill="#2db27d"/><path d="M681.9 454.32l2.91-3.26-7.51-4.54-2.92 3.33z" fill="#470d60"/><path d="M495.59 474.25l5.95-5.33-7.33-4.64-5.95 5.48z" fill="#440154"/><path d="M299.6 453.08l6.2-5.02-7.16-5.44-6.19 5.17z" fill="#471063"/><path d="M435.09 472.18l6.02-5.12-7.26-4.81-6.03 5.28z" fill="#440256"/><path d="M176.33 415.41l6.33-5.4-3.57-3.18-6.32 5.48z" fill="#482677"/><path d="M354.02 463.69l6.13-4.98-7.2-5.12-6.13 5.13z" fill="#46085c"/><path d="M387.9 468.39l6.08-5.01-7.22-4.96-6.09 5.16z" fill="#450559"/><path d="M482.29 474.99l5.97-5.23-7.31-4.65-5.98 5.39z" fill="#440154"/><path d="M609.4 469.37l5.84-5.88-7.44-4.48-5.86 6.03z" fill="#450559"/><path d="M596.08 470.84l5.86-5.8-7.44-4.48-5.86 5.95z" fill="#450457"/><path d="M622.72 467.81l5.84-5.97-7.46-4.48-5.86 6.13z" fill="#450559"/><path d="M320.14 458.47l6.17-4.95-7.17-5.28-6.17 5.1z" fill="#470d60"/><path d="M582.77 472.22l5.87-5.71-7.42-4.48-5.88 5.86z" fill="#440256"/><path d="M224.59 434.74l6.29-5.11-7.13-5.91-6.28 5.26z" fill="#481c6e"/><path d="M245.14 440.99l6.27-5.05-7.13-5.76-6.27 5.21z" fill="#48186a"/><path d="M636.05 466.16l5.83-6.07-7.48-4.47-5.84 6.22z" fill="#46075a"/><path d="M569.46 473.51l5.88-5.62-7.41-4.48-5.88 5.77z" fill="#440256"/><path d="M204.03 428.24l6.31-5.17-7.12-6.08-6.31 5.33z" fill="#482071"/><path d="M421.78 472.56l6.04-5.03-7.25-4.81-6.05 5.18z" fill="#440256"/><path d="M265.69 446.98l6.24-4.99-7.14-5.6-6.24 5.15z" fill="#481467"/><path d="M649.38 464.42l5.83-6.16-7.49-4.47-5.84 6.3z" fill="#46085c"/><path d="M556.16 474.71l5.89-5.53-7.4-4.49-5.9 5.68z" fill="#440154"/><path d="M468.99 475.65l5.98-5.15-7.3-4.65-5.99 5.3z" fill="#440154"/><path d="M183.45 421.49l6.33-5.24-7.12-6.24-6.33 5.4z" fill="#482576"/><path d="M662.73 462.58l5.82-6.24-7.51-4.48-5.83 6.4z" fill="#460a5d"/><path d="M542.86 475.81l5.89-5.44-7.38-4.49-5.91 5.6z" fill="#440154"/><path d="M286.23 452.72l6.22-4.93-7.15-5.44-6.22 5.08z" fill="#471164"/><path d="M374.57 468.49l6.1-4.91-7.21-4.97-6.11 5.07z" fill="#46075a"/><path d="M340.67 463.61l6.15-4.89-7.18-5.12-6.15 5.04z" fill="#460a5d"/><path d="M676.08 460.66l5.82-6.34-7.52-4.47-5.83 6.49z" fill="#470d60"/><path d="M529.55 476.83l5.91-5.35-7.36-4.49-5.93 5.5z" fill="#440154"/><path d="M370.7 115.55l3.02-6.95-3.63-5.94-3.02 7.01z" fill="#35b779"/><path d="M455.69 476.21l5.99-5.06-7.29-4.65-6 5.21z" fill="#440154"/><path d="M408.46 472.85l6.06-4.95-7.24-4.8-6.07 5.09z" fill="#450457"/><path d="M306.77 458.21l6.2-4.87-7.17-5.28-6.2 5.02z" fill="#470e61"/><path d="M516.25 477.76l5.92-5.27-7.35-4.49-5.94 5.42z" fill="#440154"/><path d="M231.72 440.35l6.29-4.96-7.13-5.76-6.29 5.11z" fill="#481b6d"/><path d="M211.15 434.01l6.32-5.03-7.13-5.91-6.31 5.17z" fill="#481f70"/><path d="M252.28 446.43l6.27-4.89-7.14-5.6-6.27 5.05z" fill="#481769"/><path d="M190.57 427.41l6.34-5.09-7.13-6.07-6.33 5.24z" fill="#482374"/><path d="M502.94 478.59l5.94-5.17-7.34-4.5-5.95 5.33z" fill="#440154"/><path d="M689.45 458.64l2.9-3.18-7.54-4.4-2.91 3.26z" fill="#470e61"/><path d="M442.37 476.68l6.02-4.97-7.28-4.65-6.02 5.12z" fill="#440256"/><path d="M361.23 468.51l6.12-4.83-7.2-4.97-6.13 4.98z" fill="#46085c"/><path d="M327.31 463.44l6.18-4.8-7.18-5.12-6.17 4.95z" fill="#460b5e"/><path d="M395.13 473.05l6.08-4.86-7.23-4.81-6.08 5.01z" fill="#450559"/><path d="M272.83 452.27l6.25-4.84-7.15-5.44-6.24 4.99z" fill="#481467"/><path d="M489.63 479.34l5.96-5.09-7.33-4.49-5.97 5.23z" fill="#440154"/><path d="M169.97 420.56l6.36-5.15-3.56-3.1-6.36 5.23z" fill="#482677"/><path d="M616.88 473.55l5.84-5.74-7.48-4.32-5.84 5.88z" fill="#450559"/><path d="M603.55 475.02l5.85-5.65-7.46-4.33-5.86 5.8z" fill="#450457"/><path d="M293.38 457.85l6.22-4.77-7.15-5.29-6.22 4.93z" fill="#471063"/><path d="M630.22 471.99l5.83-5.83-7.49-4.32-5.84 5.97z" fill="#46075a"/><path d="M590.23 476.4l5.85-5.56-7.44-4.33-5.87 5.71z" fill="#450457"/><path d="M429.05 477.06l6.04-4.88-7.27-4.65-6.04 5.03z" fill="#440256"/><path d="M643.56 470.33l5.82-5.91-7.5-4.33-5.83 6.07z" fill="#46085c"/><path d="M576.91 477.69l5.86-5.47-7.43-4.33-5.88 5.62z" fill="#440256"/><path d="M656.91 468.59l5.82-6.01-7.52-4.32-5.83 6.16z" fill="#460a5d"/><path d="M476.32 479.99l5.97-5-7.32-4.49-5.98 5.15z" fill="#440154"/><path d="M563.59 478.89l5.87-5.38-7.41-4.33-5.89 5.53z" fill="#440256"/><path d="M347.87 468.43l6.15-4.74-7.2-4.97-6.15 4.89z" fill="#460a5d"/><path d="M381.8 473.15l6.1-4.76-7.23-4.81-6.1 4.91z" fill="#46075a"/><path d="M218.27 439.62l6.32-4.88-7.12-5.76-6.32 5.03z" fill="#481d6f"/><path d="M670.27 466.75l5.81-6.09-7.53-4.32-5.82 6.24z" fill="#460b5e"/><path d="M550.27 480l5.89-5.29-7.41-4.34-5.89 5.44z" fill="#440256"/><path d="M238.85 445.8l6.29-4.81-7.13-5.6-6.29 4.96z" fill="#481a6c"/><path d="M197.69 433.18l6.34-4.94-7.12-5.92-6.34 5.09z" fill="#482173"/><path d="M313.94 463.18l6.2-4.71-7.17-5.13-6.2 4.87z" fill="#470e61"/><path d="M415.72 477.35l6.06-4.79-7.26-4.66-6.06 4.95z" fill="#450457"/><path d="M683.64 464.82l5.81-6.18-7.55-4.32-5.82 6.34z" fill="#470d60"/><path d="M259.42 451.73l6.27-4.75-7.14-5.44-6.27 4.89z" fill="#481668"/><path d="M177.08 426.49l6.37-5-7.12-6.08-6.36 5.15z" fill="#482576"/><path d="M536.95 481.02l5.91-5.21-7.4-4.33-5.91 5.35z" fill="#440154"/><path d="M463 480.56l5.99-4.91-7.31-4.5-5.99 5.06z" fill="#440256"/><path d="M523.63 481.94l5.92-5.11-7.38-4.34-5.92 5.27z" fill="#440154"/><path d="M279.98 457.4l6.25-4.68-7.15-5.29-6.25 4.84z" fill="#471365"/><path d="M368.44 473.17l6.13-4.68-7.22-4.81-6.12 4.83z" fill="#46085c"/><path d="M334.5 468.26l6.17-4.65-7.18-4.97-6.18 4.8z" fill="#460b5e"/><path d="M449.68 481.03l6.01-4.82-7.3-4.5-6.02 4.97z" fill="#440256"/><path d="M510.31 482.78l5.94-5.02-7.37-4.34-5.94 5.17z" fill="#440154"/><path d="M402.39 477.55l6.07-4.7-7.25-4.66-6.08 4.86z" fill="#450559"/><path d="M697.02 462.81l2.9-3.11-7.57-4.24-2.9 3.18z" fill="#470e61"/><path d="M300.55 462.83l6.22-4.62-7.17-5.13-6.22 4.77z" fill="#471063"/><path d="M204.8 438.79l6.35-4.78-7.12-5.77-6.34 4.94z" fill="#482071"/><path d="M225.4 445.07l6.32-4.72-7.13-5.61-6.32 4.88z" fill="#481c6e"/><path d="M496.99 483.53l5.95-4.94-7.35-4.34-5.96 5.09z" fill="#440154"/><path d="M184.2 432.26l6.37-4.85-7.12-5.92-6.37 5z" fill="#482475"/><path d="M245.98 451.09l6.3-4.66-7.14-5.44-6.29 4.81z" fill="#48186a"/><path d="M436.34 481.41l6.03-4.73-7.28-4.5-6.04 4.88z" fill="#450457"/><path d="M355.08 473.1l6.15-4.59-7.21-4.82-6.15 4.74z" fill="#460a5d"/><path d="M624.4 477.57l5.82-5.58-7.5-4.18-5.84 5.74z" fill="#46075a"/><path d="M611.05 479.04l5.83-5.49-7.48-4.18-5.85 5.65z" fill="#450559"/><path d="M637.75 476.01l5.81-5.68-7.51-4.17-5.83 5.83z" fill="#46075a"/><path d="M597.71 480.43l5.84-5.41-7.47-4.18-5.85 5.56z" fill="#450457"/><path d="M266.56 456.86l6.27-4.59-7.14-5.29-6.27 4.75z" fill="#481668"/><path d="M321.12 468l6.19-4.56-7.17-4.97-6.2 4.71z" fill="#470d60"/><path d="M389.04 477.66l6.09-4.61-7.23-4.66-6.1 4.76z" fill="#46075a"/><path d="M651.11 474.35l5.8-5.76-7.53-4.17-5.82 5.91z" fill="#46085c"/><path d="M584.37 481.72l5.86-5.32-7.46-4.18-5.86 5.47z" fill="#450457"/><path d="M483.67 484.18l5.96-4.84-7.34-4.35-5.97 5z" fill="#440256"/><path d="M664.47 472.61l5.8-5.86-7.54-4.17-5.82 6.01z" fill="#460a5d"/><path d="M163.57 425.47l6.4-4.91-3.56-3.02-6.4 4.98z" fill="#482878"/><path d="M571.04 482.92l5.87-5.23-7.45-4.18-5.87 5.38z" fill="#440256"/><path d="M677.85 470.77l5.79-5.95-7.56-4.16-5.81 6.09z" fill="#470d60"/><path d="M557.71 484.03l5.88-5.14-7.43-4.18-5.89 5.29z" fill="#440256"/><path d="M287.14 462.38l6.24-4.53-7.15-5.13-6.25 4.68z" fill="#471164"/><path d="M423 481.71l6.05-4.65-7.27-4.5-6.06 4.79z" fill="#450457"/><path d="M470.33 484.75l5.99-4.76-7.33-4.34-5.99 4.91z" fill="#440256"/><path d="M691.24 468.84l5.78-6.03-7.57-4.17-5.81 6.18z" fill="#470e61"/><path d="M544.38 485.05l5.89-5.05-7.41-4.19-5.91 5.21z" fill="#440256"/><path d="M341.7 472.93l6.17-4.5-7.2-4.82-6.17 4.65z" fill="#460b5e"/><path d="M211.92 444.25l6.35-4.63-7.12-5.61-6.35 4.78z" fill="#481f70"/><path d="M375.68 477.68l6.12-4.53-7.23-4.66-6.13 4.68z" fill="#46085c"/><path d="M191.31 437.87l6.38-4.69-7.12-5.77-6.37 4.85z" fill="#482374"/><path d="M232.52 450.37l6.33-4.57-7.13-5.45-6.32 4.72z" fill="#481b6d"/><path d="M531.04 485.98l5.91-4.96-7.4-4.19-5.92 5.11z" fill="#440256"/><path d="M307.72 467.65l6.22-4.47-7.17-4.97-6.22 4.62z" fill="#471063"/><path d="M170.68 431.24l6.4-4.75-7.11-5.93-6.4 4.91z" fill="#482677"/><path d="M409.65 481.91l6.07-4.56-7.26-4.5-6.07 4.7z" fill="#450559"/><path d="M253.12 456.23l6.3-4.5-7.14-5.3-6.3 4.66z" fill="#481769"/><path d="M457 485.23l6-4.67-7.31-4.35-6.01 4.82z" fill="#450457"/><path d="M517.71 486.82l5.92-4.88-7.38-4.18-5.94 5.02z" fill="#440256"/><path d="M704.63 466.82l2.9-3.03-7.61-4.09-2.9 3.11z" fill="#471063"/><path d="M273.71 461.85l6.27-4.45-7.15-5.13-6.27 4.59z" fill="#481467"/><path d="M362.3 477.61l6.14-4.44-7.21-4.66-6.15 4.59z" fill="#460a5d"/><path d="M328.31 472.67l6.19-4.41-7.19-4.82-6.19 4.56z" fill="#470d60"/><path d="M504.37 487.57l5.94-4.79-7.37-4.19-5.95 4.94z" fill="#440256"/><path d="M443.65 485.61l6.03-4.58-7.31-4.35-6.03 4.73z" fill="#450457"/><path d="M396.29 482.02l6.1-4.47-7.26-4.5-6.09 4.61z" fill="#46075a"/><path d="M631.94 481.44l5.81-5.43-7.53-4.02-5.82 5.58z" fill="#46085c"/><path d="M618.58 482.92l5.82-5.35-7.52-4.02-5.83 5.49z" fill="#46075a"/><path d="M294.3 467.21l6.25-4.38-7.17-4.98-6.24 4.53z" fill="#471164"/><path d="M645.31 479.88l5.8-5.53-7.55-4.02-5.81 5.68z" fill="#46085c"/><path d="M605.22 484.3l5.83-5.26-7.5-4.02-5.84 5.41z" fill="#450559"/><path d="M198.42 443.33l6.38-4.54-7.11-5.61-6.38 4.69z" fill="#482173"/><path d="M219.04 449.55l6.36-4.48-7.13-5.45-6.35 4.63z" fill="#481d6f"/><path d="M491.03 488.23l5.96-4.7-7.36-4.19-5.96 4.84z" fill="#440256"/><path d="M658.68 478.22l5.79-5.61-7.56-4.02-5.8 5.76z" fill="#460a5d"/><path d="M177.79 436.86l6.41-4.6-7.12-5.77-6.4 4.75z" fill="#482576"/><path d="M591.87 485.59l5.84-5.16-7.48-4.03-5.86 5.32z" fill="#450559"/><path d="M672.07 476.47l5.78-5.7-7.58-4.02-5.8 5.86z" fill="#460b5e"/><path d="M239.65 455.51l6.33-4.42-7.13-5.29-6.33 4.57z" fill="#481a6c"/><path d="M578.52 486.8l5.85-5.08-7.46-4.03-5.87 5.23z" fill="#450457"/><path d="M430.3 485.91l6.04-4.5-7.29-4.35-6.05 4.65z" fill="#450559"/><path d="M685.46 474.63l5.78-5.79-7.6-4.02-5.79 5.95z" fill="#470d60"/><path d="M348.91 477.45l6.17-4.35-7.21-4.67-6.17 4.5z" fill="#460b5e"/><path d="M565.17 487.91l5.87-4.99-7.45-4.03-5.88 5.14z" fill="#450457"/><path d="M477.69 488.79l5.98-4.61-7.35-4.19-5.99 4.76z" fill="#450457"/><path d="M260.26 461.22l6.3-4.36-7.14-5.13-6.3 4.5z" fill="#481769"/><path d="M157.14 430.13l6.43-4.66-3.56-2.95-6.43 4.74z" fill="#482979"/><path d="M382.92 482.04l6.12-4.38-7.24-4.51-6.12 4.53z" fill="#46085c"/><path d="M314.9 472.33l6.22-4.33-7.18-4.82-6.22 4.47z" fill="#471063"/><path d="M698.86 472.7l5.77-5.88-7.61-4.01-5.78 6.03z" fill="#471063"/><path d="M551.82 488.93l5.89-4.9-7.44-4.03-5.89 5.05z" fill="#450457"/><path d="M538.48 489.86l5.9-4.81-7.43-4.03-5.91 4.96z" fill="#450457"/><path d="M416.94 486.11l6.06-4.4-7.28-4.36-6.07 4.56z" fill="#46075a"/><path d="M280.86 466.68l6.28-4.3-7.16-4.98-6.27 4.45z" fill="#481467"/><path d="M464.34 489.27l5.99-4.52-7.33-4.19-6 4.67z" fill="#450457"/><path d="M184.9 442.32l6.41-4.45-7.11-5.61-6.41 4.6z" fill="#482475"/><path d="M205.54 448.64l6.38-4.39-7.12-5.46-6.38 4.54z" fill="#482071"/><path d="M525.13 490.7l5.91-4.72-7.41-4.04-5.92 4.88z" fill="#450457"/><path d="M335.51 477.19l6.19-4.26-7.2-4.67-6.19 4.41z" fill="#470d60"/><path d="M712.28 470.68l2.88-2.96-7.63-3.93-2.9 3.03z" fill="#471164"/><path d="M369.54 481.97l6.14-4.29-7.24-4.51-6.14 4.44z" fill="#460a5d"/><path d="M164.24 435.75l6.44-4.51-7.11-5.77-6.43 4.66z" fill="#482878"/><path d="M226.17 454.69l6.35-4.32-7.12-5.3-6.36 4.48z" fill="#481c6e"/><path d="M301.47 471.89l6.25-4.24-7.17-4.82-6.25 4.38z" fill="#471164"/><path d="M450.98 489.66l6.02-4.43-7.32-4.2-6.03 4.58z" fill="#450559"/><path d="M403.57 486.22l6.08-4.31-7.26-4.36-6.1 4.47z" fill="#46075a"/><path d="M511.78 491.45l5.93-4.63-7.4-4.04-5.94 4.79z" fill="#450457"/><path d="M246.79 460.5l6.33-4.27-7.14-5.14-6.33 4.42z" fill="#481a6c"/><path d="M639.51 485.16l5.8-5.28-7.56-3.87-5.81 5.43z" fill="#460a5d"/><path d="M626.13 486.64l5.81-5.2-7.54-3.87-5.82 5.35z" fill="#46085c"/><path d="M267.4 466.05l6.31-4.2-7.15-4.99-6.3 4.36z" fill="#481668"/><path d="M498.42 492.11l5.95-4.54-7.38-4.04-5.96 4.7z" fill="#450457"/><path d="M652.9 483.59l5.78-5.37-7.57-3.87-5.8 5.53z" fill="#460a5d"/><path d="M612.76 488.02l5.82-5.1-7.53-3.88-5.83 5.26z" fill="#46075a"/><path d="M666.29 481.93l5.78-5.46-7.6-3.86-5.79 5.61z" fill="#460b5e"/><path d="M599.39 489.32l5.83-5.02-7.51-3.87-5.84 5.16z" fill="#46075a"/><path d="M356.14 481.81l6.16-4.2-7.22-4.51-6.17 4.35z" fill="#460b5e"/><path d="M437.62 489.96l6.03-4.35-7.31-4.2-6.04 4.5z" fill="#450559"/><path d="M322.09 476.85l6.22-4.18-7.19-4.67-6.22 4.33z" fill="#471063"/><path d="M679.69 480.18l5.77-5.55-7.61-3.86-5.78 5.7z" fill="#470d60"/><path d="M586.02 490.52l5.85-4.93-7.5-3.87-5.85 5.08z" fill="#450559"/><path d="M390.18 486.25l6.11-4.23-7.25-4.36-6.12 4.38z" fill="#46085c"/><path d="M693.1 478.34l5.76-5.64-7.62-3.86-5.78 5.79z" fill="#470e61"/><path d="M572.66 491.64l5.86-4.84-7.48-3.88-5.87 4.99z" fill="#450559"/><path d="M192.01 447.63l6.41-4.3-7.11-5.46-6.41 4.45z" fill="#482374"/><path d="M485.06 492.68l5.97-4.45-7.36-4.05-5.98 4.61z" fill="#450559"/><path d="M171.35 441.22l6.44-4.36-7.11-5.62-6.44 4.51z" fill="#482677"/><path d="M288.03 471.36l6.27-4.15-7.16-4.83-6.28 4.3z" fill="#481467"/><path d="M212.65 453.78l6.39-4.23-7.12-5.3-6.38 4.39z" fill="#481f70"/><path d="M706.52 476.41l5.76-5.73-7.65-3.86-5.77 5.88z" fill="#471164"/><path d="M559.3 492.66l5.87-4.75-7.46-3.88-5.89 4.9z" fill="#450559"/><path d="M233.29 459.69l6.36-4.18-7.13-5.14-6.35 4.32z" fill="#481c6e"/><path d="M424.24 490.16l6.06-4.25-7.3-4.2-6.06 4.4z" fill="#46075a"/><path d="M150.67 434.56l6.47-4.43-3.56-2.87-6.46 4.5z" fill="#472a7a"/><path d="M545.94 493.6l5.88-4.67-7.44-3.88-5.9 4.81z" fill="#450559"/><path d="M471.7 493.16l5.99-4.37-7.36-4.04-5.99 4.52z" fill="#450559"/><path d="M342.72 481.56l6.19-4.11-7.21-4.52-6.19 4.26z" fill="#470d60"/><path d="M253.93 465.33l6.33-4.11-7.14-4.99-6.33 4.27z" fill="#48186a"/><path d="M376.79 486.18l6.13-4.14-7.24-4.36-6.14 4.29z" fill="#460a5d"/><path d="M308.65 476.41l6.25-4.08-7.18-4.68-6.25 4.24z" fill="#471164"/><path d="M532.57 494.44l5.91-4.58-7.44-3.88-5.91 4.72z" fill="#450559"/><path d="M719.96 474.39l2.87-2.88-7.67-3.79-2.88 2.96z" fill="#471365"/><path d="M410.86 490.28l6.08-4.17-7.29-4.2-6.08 4.31z" fill="#46085c"/><path d="M458.33 493.55l6.01-4.28-7.34-4.04-6.02 4.43z" fill="#46075a"/><path d="M274.56 470.73l6.3-4.05-7.15-4.83-6.31 4.2z" fill="#481668"/><path d="M519.21 495.19l5.92-4.49-7.42-3.88-5.93 4.63z" fill="#450559"/><path d="M178.45 446.53l6.45-4.21-7.11-5.46-6.44 4.36z" fill="#482576"/><path d="M199.12 452.78l6.42-4.14-7.12-5.31-6.41 4.3z" fill="#482173"/><path d="M157.77 440.02l6.47-4.27-7.1-5.62-6.47 4.43z" fill="#482979"/><path d="M329.29 481.21l6.22-4.02-7.2-4.52-6.22 4.18z" fill="#471063"/><path d="M363.38 486.02l6.16-4.05-7.24-4.36-6.16 4.2z" fill="#470d60"/><path d="M219.78 458.78l6.39-4.09-7.13-5.14-6.39 4.23z" fill="#481f70"/><path d="M505.84 495.85l5.94-4.4-7.41-3.88-5.95 4.54z" fill="#450559"/><path d="M647.11 488.73l5.79-5.14-7.59-3.71-5.8 5.28z" fill="#460b5e"/><path d="M633.72 490.21l5.79-5.05-7.57-3.72-5.81 5.2z" fill="#460a5d"/><path d="M444.95 493.85l6.03-4.19-7.33-4.05-6.03 4.35z" fill="#46075a"/><path d="M660.52 487.16l5.77-5.23-7.61-3.71-5.78 5.37z" fill="#470d60"/><path d="M295.2 475.88l6.27-3.99-7.17-4.68-6.27 4.15z" fill="#481467"/><path d="M620.33 491.59l5.8-4.95-7.55-3.72-5.82 5.1z" fill="#46085c"/><path d="M397.46 490.3l6.11-4.08-7.28-4.2-6.11 4.23z" fill="#460a5d"/><path d="M240.42 464.52l6.37-4.02-7.14-4.99-6.36 4.18z" fill="#481b6d"/><path d="M673.93 485.5l5.76-5.32-7.62-3.71-5.78 5.46z" fill="#470d60"/><path d="M606.94 492.89l5.82-4.87-7.54-3.72-5.83 5.02z" fill="#46085c"/><path d="M687.35 483.75l5.75-5.41-7.64-3.71-5.77 5.55z" fill="#470e61"/><path d="M593.56 494.1l5.83-4.78-7.52-3.73-5.85 4.93z" fill="#46085c"/><path d="M492.46 496.42l5.96-4.31-7.39-3.88-5.97 4.45z" fill="#46075a"/><path d="M700.78 481.9l5.74-5.49-7.66-3.71-5.76 5.64z" fill="#471164"/><path d="M580.18 495.21l5.84-4.69-7.5-3.72-5.86 4.84z" fill="#46075a"/><path d="M261.07 470.02l6.33-3.97-7.14-4.83-6.33 4.11z" fill="#48186a"/><path d="M431.56 494.06l6.06-4.1-7.32-4.05-6.06 4.25z" fill="#46085c"/><path d="M714.22 479.97l5.74-5.58-7.68-3.71-5.76 5.73z" fill="#471365"/><path d="M349.95 485.77l6.19-3.96-7.23-4.36-6.19 4.11z" fill="#470e61"/><path d="M566.8 496.24l5.86-4.6-7.49-3.73-5.87 4.75z" fill="#46075a"/><path d="M315.85 480.78l6.24-3.93-7.19-4.52-6.25 4.08z" fill="#471164"/><path d="M384.05 490.23l6.13-3.98-7.26-4.21-6.13 4.14z" fill="#460b5e"/><path d="M479.08 496.91l5.98-4.23-7.37-3.89-5.99 4.37z" fill="#46075a"/><path d="M185.56 451.69l6.45-4.06-7.11-5.31-6.45 4.21z" fill="#482475"/><path d="M164.87 445.34l6.48-4.12-7.11-5.47-6.47 4.27z" fill="#482878"/><path d="M553.42 497.18l5.88-4.52-7.48-3.73-5.88 4.67z" fill="#46075a"/><path d="M206.23 457.78l6.42-4-7.11-5.14-6.42 4.14z" fill="#482173"/><path d="M281.72 475.26l6.31-3.9-7.17-4.68-6.3 4.05z" fill="#481668"/><path d="M540.04 498.02l5.9-4.42-7.46-3.74-5.91 4.58z" fill="#46075a"/><path d="M226.9 463.62l6.39-3.93-7.12-5-6.39 4.09z" fill="#481d6f"/><path d="M418.16 494.18l6.08-4.02-7.3-4.05-6.08 4.17z" fill="#460a5d"/><path d="M144.16 438.73l6.51-4.17-3.55-2.8-6.5 4.26z" fill="#472d7b"/><path d="M727.67 477.94l2.87-2.81-7.71-3.62-2.87 2.88z" fill="#481467"/><path d="M465.7 497.3l6-4.14-7.36-3.89-6.01 4.28z" fill="#46085c"/><path d="M336.51 485.43l6.21-3.87-7.21-4.37-6.22 4.02z" fill="#471063"/><path d="M526.66 498.77l5.91-4.33-7.44-3.74-5.92 4.49z" fill="#46075a"/><path d="M247.56 469.21l6.37-3.88-7.14-4.83-6.37 4.02z" fill="#481b6d"/><path d="M370.63 490.08l6.16-3.9-7.25-4.21-6.16 4.05z" fill="#470d60"/><path d="M302.38 480.25l6.27-3.84-7.18-4.52-6.27 3.99z" fill="#481467"/><path d="M452.3 497.6l6.03-4.05-7.35-3.89-6.03 4.19z" fill="#46085c"/><path d="M404.75 494.2l6.11-3.92-7.29-4.06-6.11 4.08z" fill="#460b5e"/><path d="M513.27 499.44l5.94-4.25-7.43-3.74-5.94 4.4z" fill="#46075a"/><path d="M268.23 474.54l6.33-3.81-7.16-4.68-6.33 3.97z" fill="#48186a"/><path d="M654.75 492.14l5.77-4.98-7.62-3.57-5.79 5.14z" fill="#470d60"/><path d="M641.34 493.62l5.77-4.89-7.6-3.57-5.79 5.05z" fill="#460b5e"/><path d="M668.17 490.57l5.76-5.07-7.64-3.57-5.77 5.23z" fill="#470e61"/><path d="M627.93 495.01l5.79-4.8-7.59-3.57-5.8 4.95z" fill="#460b5e"/><path d="M171.97 450.5l6.48-3.97-7.1-5.31-6.48 4.12z" fill="#482878"/><path d="M151.26 444.05l6.51-4.03-7.1-5.46-6.51 4.17z" fill="#472c7a"/><path d="M681.6 488.91l5.75-5.16-7.66-3.57-5.76 5.32z" fill="#471063"/><path d="M192.66 456.69l6.46-3.91-7.11-5.15-6.45 4.06z" fill="#482475"/><path d="M614.52 496.31l5.81-4.72-7.57-3.57-5.82 4.87z" fill="#460a5d"/><path d="M695.04 487.15l5.74-5.25-7.68-3.56-5.75 5.41z" fill="#471164"/><path d="M601.12 497.52l5.82-4.63-7.55-3.57-5.83 4.78z" fill="#460a5d"/><path d="M499.88 500.01l5.96-4.16-7.42-3.74-5.96 4.31z" fill="#46085c"/><path d="M213.35 462.62l6.43-3.84-7.13-5-6.42 4z" fill="#482071"/><path d="M323.05 484.99l6.24-3.78-7.2-4.36-6.24 3.93z" fill="#471365"/><path d="M357.19 489.83l6.19-3.81-7.24-4.21-6.19 3.96z" fill="#471063"/><path d="M708.49 485.31l5.73-5.34-7.7-3.56-5.74 5.49z" fill="#471365"/><path d="M587.72 498.64l5.84-4.54-7.54-3.58-5.84 4.69z" fill="#460a5d"/><path d="M438.9 497.81l6.05-3.96-7.33-3.89-6.06 4.1z" fill="#460a5d"/><path d="M288.89 479.63l6.31-3.75-7.17-4.52-6.31 3.9z" fill="#481769"/><path d="M391.33 494.14l6.13-3.84-7.28-4.05-6.13 3.98z" fill="#470d60"/><path d="M721.95 483.37l5.72-5.43-7.71-3.55-5.74 5.58z" fill="#481467"/><path d="M234.03 468.31l6.39-3.79-7.13-4.83-6.39 3.93z" fill="#481d6f"/><path d="M574.33 499.67l5.85-4.46-7.52-3.57-5.86 4.6z" fill="#46085c"/><path d="M486.49 500.5l5.97-4.08-7.4-3.74-5.98 4.23z" fill="#46085c"/><path d="M560.93 500.6l5.87-4.36-7.5-3.58-5.88 4.52z" fill="#46085c"/><path d="M254.71 473.74l6.36-3.72-7.14-4.69-6.37 3.88z" fill="#481b6d"/><path d="M425.49 497.93l6.07-3.87-7.32-3.9-6.08 4.02z" fill="#460b5e"/><path d="M343.74 489.49l6.21-3.72-7.23-4.21-6.21 3.87z" fill="#471164"/><path d="M547.54 501.45l5.88-4.27-7.48-3.58-5.9 4.42z" fill="#46085c"/><path d="M309.57 484.47l6.28-3.69-7.2-4.37-6.27 3.84z" fill="#481467"/><path d="M473.09 500.89l5.99-3.98-7.38-3.75-6 4.14z" fill="#460a5d"/><path d="M158.35 449.21l6.52-3.87-7.1-5.32-6.51 4.03z" fill="#472a7a"/><path d="M179.07 455.5l6.49-3.81-7.11-5.16-6.48 3.97z" fill="#482677"/><path d="M377.9 493.98l6.15-3.75-7.26-4.05-6.16 3.9z" fill="#470e61"/><path d="M199.78 461.53l6.45-3.75-7.11-5-6.46 3.91z" fill="#482475"/><path d="M534.14 502.21l5.9-4.19-7.47-3.58-5.91 4.33z" fill="#460a5d"/><path d="M275.39 478.92l6.33-3.66-7.16-4.53-6.33 3.81z" fill="#481a6c"/><path d="M137.62 442.67l6.54-3.94-3.54-2.71-6.55 4.01z" fill="#472e7c"/><path d="M220.47 467.31l6.43-3.69-7.12-4.84-6.43 3.84z" fill="#482071"/><path d="M412.07 497.95l6.09-3.77-7.3-3.9-6.11 3.92z" fill="#470d60"/><path d="M459.68 501.19l6.02-3.89-7.37-3.75-6.03 4.05z" fill="#460a5d"/><path d="M520.74 502.87l5.92-4.1-7.45-3.58-5.94 4.25z" fill="#460a5d"/><path d="M330.27 489.06l6.24-3.63-7.22-4.22-6.24 3.78z" fill="#471365"/><path d="M662.42 495.4l5.75-4.83-7.65-3.41-5.77 4.98z" fill="#471063"/><path d="M648.99 496.89l5.76-4.75-7.64-3.41-5.77 4.89z" fill="#470e61"/><path d="M241.17 472.84l6.39-3.63-7.14-4.69-6.39 3.79z" fill="#481d6f"/><path d="M675.86 493.83l5.74-4.92-7.67-3.41-5.76 5.07z" fill="#471164"/><path d="M364.45 493.74l6.18-3.66-7.25-4.06-6.19 3.81z" fill="#471063"/><path d="M635.56 498.28l5.78-4.66-7.62-3.41-5.79 4.8z" fill="#470d60"/><path d="M296.08 483.85l6.3-3.6-7.18-4.37-6.31 3.75z" fill="#481769"/><path d="M689.31 492.17l5.73-5.02-7.69-3.4-5.75 5.16z" fill="#471164"/><path d="M622.14 499.58l5.79-4.57-7.6-3.42-5.81 4.72z" fill="#470d60"/><path d="M507.33 503.45l5.94-4.01-7.43-3.59-5.96 4.16z" fill="#460a5d"/><path d="M702.77 490.41l5.72-5.1-7.71-3.41-5.74 5.25z" fill="#471365"/><path d="M608.72 500.79l5.8-4.48-7.58-3.42-5.82 4.63z" fill="#470d60"/><path d="M446.26 501.4l6.04-3.8-7.35-3.75-6.05 3.96z" fill="#460b5e"/><path d="M398.63 497.89l6.12-3.69-7.29-3.9-6.13 3.84z" fill="#470e61"/><path d="M716.23 488.56l5.72-5.19-7.73-3.4-5.73 5.34z" fill="#481668"/><path d="M595.3 501.91l5.82-4.39-7.56-3.42-5.84 4.54z" fill="#460b5e"/><path d="M165.45 454.22l6.52-3.72-7.1-5.16-6.52 3.87z" fill="#472a7a"/><path d="M261.86 478.12l6.37-3.58-7.16-4.52-6.36 3.72z" fill="#481b6d"/><path d="M144.7 447.84l6.56-3.79-7.1-5.32-6.54 3.94z" fill="#472e7c"/><path d="M186.17 460.35l6.49-3.66-7.1-5-6.49 3.81z" fill="#482677"/><path d="M581.89 502.94l5.83-4.3-7.54-3.43-5.85 4.46z" fill="#460b5e"/><path d="M493.92 503.93l5.96-3.92-7.42-3.59-5.97 4.08z" fill="#460b5e"/><path d="M206.89 466.22l6.46-3.6-7.12-4.84-6.45 3.75z" fill="#482475"/><path d="M316.78 488.53l6.27-3.54-7.2-4.21-6.28 3.69z" fill="#481668"/><path d="M350.98 493.4l6.21-3.57-7.24-4.06-6.21 3.72z" fill="#471365"/><path d="M568.47 503.88l5.86-4.21-7.53-3.43-5.87 4.36z" fill="#460b5e"/><path d="M432.84 501.52l6.06-3.71-7.34-3.75-6.07 3.87z" fill="#470d60"/><path d="M282.56 483.14l6.33-3.51-7.17-4.37-6.33 3.66z" fill="#481a6c"/><path d="M385.18 497.74l6.15-3.6-7.28-3.91-6.15 3.75z" fill="#471063"/><path d="M227.6 471.85l6.43-3.54-7.13-4.69-6.43 3.69z" fill="#482071"/><path d="M555.06 504.73l5.87-4.13-7.51-3.42-5.88 4.27z" fill="#460b5e"/><path d="M480.5 504.33l5.99-3.83-7.41-3.59-5.99 3.98z" fill="#460b5e"/><path d="M541.64 505.49l5.9-4.04-7.5-3.43-5.9 4.19z" fill="#460b5e"/><path d="M248.31 477.22l6.4-3.48-7.15-4.53-6.39 3.63z" fill="#481f70"/><path d="M419.4 501.55l6.09-3.62-7.33-3.75-6.09 3.77z" fill="#470e61"/><path d="M467.08 504.63l6.01-3.74-7.39-3.59-6.02 3.89z" fill="#470d60"/><path d="M337.5 492.97l6.24-3.48-7.23-4.06-6.24 3.63z" fill="#481467"/><path d="M151.79 452.84l6.56-3.63-7.09-5.16-6.56 3.79z" fill="#472d7b"/><path d="M303.27 487.92l6.3-3.45-7.19-4.22-6.3 3.6z" fill="#48186a"/><path d="M172.54 459.07l6.53-3.57-7.1-5-6.52 3.72z" fill="#482979"/><path d="M528.23 506.15l5.91-3.94-7.48-3.44-5.92 4.1z" fill="#460b5e"/><path d="M371.72 497.49l6.18-3.51-7.27-3.9-6.18 3.66z" fill="#471164"/><path d="M193.28 465.04l6.5-3.51-7.12-4.84-6.49 3.66z" fill="#482677"/><path d="M131.03 446.36l6.59-3.69-3.55-2.64-6.58 3.77z" fill="#46307e"/><path d="M269.02 482.34l6.37-3.42-7.16-4.38-6.37 3.58z" fill="#481c6e"/><path d="M670.12 498.51l5.74-4.68-7.69-3.26-5.75 4.83z" fill="#471164"/><path d="M656.67 500l5.75-4.6-7.67-3.26-5.76 4.75z" fill="#471164"/><path d="M683.58 496.94l5.73-4.77-7.71-3.26-5.74 4.92z" fill="#471365"/><path d="M643.22 501.39l5.77-4.5-7.65-3.27-5.78 4.66z" fill="#471063"/><path d="M697.05 495.27l5.72-4.86-7.73-3.26-5.73 5.02z" fill="#481467"/><path d="M629.78 502.7l5.78-4.42-7.63-3.27-5.79 4.57z" fill="#471063"/><path d="M405.95 501.49l6.12-3.54-7.32-3.75-6.12 3.69z" fill="#471063"/><path d="M214.01 470.76l6.46-3.45-7.12-4.69-6.46 3.6z" fill="#482475"/><path d="M514.8 506.73l5.94-3.86-7.47-3.43-5.94 4.01z" fill="#470d60"/><path d="M453.65 504.84l6.03-3.65-7.38-3.59-6.04 3.8z" fill="#470e61"/><path d="M710.53 493.51l5.7-4.95-7.74-3.25-5.72 5.1z" fill="#481668"/><path d="M616.35 503.91l5.79-4.33-7.62-3.27-5.8 4.48z" fill="#470e61"/><path d="M602.91 505.03l5.81-4.24-7.6-3.27-5.82 4.39z" fill="#470e61"/><path d="M324 492.45l6.27-3.39-7.22-4.07-6.27 3.54z" fill="#481769"/><path d="M234.73 476.23l6.44-3.39-7.14-4.53-6.43 3.54z" fill="#482173"/><path d="M358.24 497.15l6.21-3.41-7.26-3.91-6.21 3.57z" fill="#481467"/><path d="M501.38 507.22l5.95-3.77-7.45-3.44-5.96 3.92z" fill="#470d60"/><path d="M589.48 506.06l5.82-4.15-7.58-3.27-5.83 4.3z" fill="#470e61"/><path d="M289.74 487.21l6.34-3.36-7.19-4.22-6.33 3.51z" fill="#481b6d"/><path d="M440.2 504.97l6.06-3.57-7.36-3.59-6.06 3.71z" fill="#470e61"/><path d="M576.05 507l5.84-4.06-7.56-3.27-5.86 4.21z" fill="#470e61"/><path d="M392.49 501.34l6.14-3.45-7.3-3.75-6.15 3.6z" fill="#471164"/><path d="M138.11 451.37l6.59-3.53-7.08-5.17-6.59 3.69z" fill="#46307e"/><path d="M158.88 457.7l6.57-3.48-7.1-5.01-6.56 3.63z" fill="#472d7b"/><path d="M255.46 481.45l6.4-3.33-7.15-4.38-6.4 3.48z" fill="#481f70"/><path d="M179.64 463.77l6.53-3.42-7.1-4.85-6.53 3.57z" fill="#482979"/><path d="M487.94 507.61l5.98-3.68-7.43-3.43-5.99 3.83z" fill="#470e61"/><path d="M562.61 507.85l5.86-3.97-7.54-3.28-5.87 4.13z" fill="#470e61"/><path d="M200.39 469.58l6.5-3.36-7.11-4.69-6.5 3.51z" fill="#482677"/><path d="M426.75 505l6.09-3.48-7.35-3.59-6.09 3.62z" fill="#471063"/><path d="M344.75 496.73l6.23-3.33-7.24-3.91-6.24 3.48z" fill="#481668"/><path d="M310.48 491.83l6.3-3.3-7.21-4.06-6.3 3.45z" fill="#481a6c"/><path d="M549.18 508.61l5.88-3.88-7.52-3.28-5.9 4.04z" fill="#470e61"/><path d="M474.5 507.92l6-3.59-7.41-3.44-6.01 3.74z" fill="#470e61"/><path d="M379.01 501.09l6.17-3.35-7.28-3.76-6.18 3.51z" fill="#481467"/><path d="M276.19 486.41l6.37-3.27-7.17-4.22-6.37 3.42z" fill="#481d6f"/><path d="M221.13 475.15l6.47-3.3-7.13-4.54-6.46 3.45z" fill="#482475"/><path d="M535.74 509.28l5.9-3.79-7.5-3.28-5.91 3.94z" fill="#470e61"/><path d="M413.29 504.94l6.11-3.39-7.33-3.6-6.12 3.54z" fill="#471365"/><path d="M241.88 480.46l6.43-3.24-7.14-4.38-6.44 3.39z" fill="#482173"/><path d="M677.86 501.47l5.72-4.53-7.72-3.11-5.74 4.68z" fill="#481467"/><path d="M664.39 502.96l5.73-4.45-7.7-3.11-5.75 4.6z" fill="#481467"/><path d="M461.05 508.13l6.03-3.5-7.4-3.44-6.03 3.65z" fill="#471063"/><path d="M691.35 499.89l5.7-4.62-7.74-3.1-5.73 4.77z" fill="#481668"/><path d="M650.92 504.35l5.75-4.35-7.68-3.11-5.77 4.5z" fill="#471365"/><path d="M145.19 456.23l6.6-3.39-7.09-5-6.59 3.53z" fill="#46307e"/><path d="M522.3 509.86l5.93-3.71-7.49-3.28-5.94 3.86z" fill="#470e61"/><path d="M704.84 498.22l5.69-4.71-7.76-3.1-5.72 4.86z" fill="#481769"/><path d="M637.46 505.66l5.76-4.27-7.66-3.11-5.78 4.42z" fill="#471365"/><path d="M331.23 496.21l6.27-3.24-7.23-3.91-6.27 3.39z" fill="#48186a"/><path d="M165.97 462.4l6.57-3.33-7.09-4.85-6.57 3.48z" fill="#472d7b"/><path d="M296.94 491.13l6.33-3.21-7.19-4.07-6.34 3.36z" fill="#481b6d"/><path d="M624.01 506.88l5.77-4.18-7.64-3.12-5.79 4.33z" fill="#471164"/><path d="M365.52 500.76l6.2-3.27-7.27-3.75-6.21 3.41z" fill="#481668"/><path d="M186.74 468.31l6.54-3.27-7.11-4.69-6.53 3.42z" fill="#482979"/><path d="M124.39 449.81l6.64-3.45-3.54-2.56-6.63 3.52z" fill="#463480"/><path d="M610.55 508l5.8-4.09-7.63-3.12-5.81 4.24z" fill="#471164"/><path d="M508.86 510.35l5.94-3.62-7.47-3.28-5.95 3.77z" fill="#471063"/><path d="M262.62 485.52l6.4-3.18-7.16-4.22-6.4 3.33z" fill="#482071"/><path d="M447.6 508.26l6.05-3.42-7.39-3.44-6.06 3.57z" fill="#471164"/><path d="M597.1 509.03l5.81-4-7.61-3.12-5.82 4.15z" fill="#471164"/><path d="M399.81 504.79l6.14-3.3-7.32-3.6-6.14 3.45z" fill="#481467"/><path d="M207.51 473.97l6.5-3.21-7.12-4.54-6.5 3.36z" fill="#482677"/><path d="M583.65 509.98l5.83-3.92-7.59-3.12-5.84 4.06z" fill="#471164"/><path d="M495.41 510.75l5.97-3.53-7.46-3.29-5.98 3.68z" fill="#471164"/><path d="M317.7 495.59l6.3-3.14-7.22-3.92-6.3 3.3z" fill="#481b6d"/><path d="M228.27 479.38l6.46-3.15-7.13-4.38-6.47 3.3z" fill="#482475"/><path d="M352.01 500.33l6.23-3.18-7.26-3.75-6.23 3.33z" fill="#48186a"/><path d="M570.2 510.83l5.85-3.83-7.58-3.12-5.86 3.97z" fill="#471164"/><path d="M283.38 490.33l6.36-3.12-7.18-4.07-6.37 3.27z" fill="#481d6f"/><path d="M434.13 508.29l6.07-3.32-7.36-3.45-6.09 3.48z" fill="#471365"/><path d="M131.47 454.67l6.64-3.3-7.08-5.01-6.64 3.45z" fill="#46337f"/><path d="M386.32 504.54l6.17-3.2-7.31-3.6-6.17 3.35z" fill="#481668"/><path d="M152.28 460.93l6.6-3.23-7.09-4.86-6.6 3.39z" fill="#46307e"/><path d="M556.75 511.59l5.86-3.74-7.55-3.12-5.88 3.88z" fill="#471164"/><path d="M481.95 511.06l5.99-3.45-7.44-3.28-6 3.59z" fill="#471164"/><path d="M173.07 466.94l6.57-3.17-7.1-4.7-6.57 3.33z" fill="#472d7b"/><path d="M249.03 484.53l6.43-3.08-7.15-4.23-6.43 3.24z" fill="#482374"/><path d="M543.29 512.26l5.89-3.65-7.54-3.12-5.9 3.79z" fill="#471164"/><path d="M193.85 472.7l6.54-3.12-7.11-4.54-6.54 3.27z" fill="#472a7a"/><path d="M420.65 508.23l6.1-3.23-7.35-3.45-6.11 3.39z" fill="#481467"/><path d="M338.48 499.81l6.27-3.08-7.25-3.76-6.27 3.24z" fill="#481a6c"/><path d="M304.15 494.89l6.33-3.06-7.21-3.91-6.33 3.21z" fill="#481c6e"/><path d="M468.49 511.27l6.01-3.35-7.42-3.29-6.03 3.5z" fill="#471365"/><path d="M372.81 504.21l6.2-3.12-7.29-3.6-6.2 3.27z" fill="#481769"/><path d="M685.64 504.27l5.71-4.38-7.77-2.95-5.72 4.53z" fill="#48186a"/><path d="M672.15 505.76l5.71-4.29-7.74-2.96-5.73 4.45z" fill="#481769"/><path d="M529.83 512.84l5.91-3.56-7.51-3.13-5.93 3.71z" fill="#471164"/><path d="M214.63 478.2l6.5-3.05-7.12-4.39-6.5 3.21z" fill="#482878"/><path d="M699.15 502.69l5.69-4.47-7.79-2.95-5.7 4.62z" fill="#48186a"/><path d="M269.8 489.44l6.39-3.03-7.17-4.07-6.4 3.18z" fill="#482071"/><path d="M658.66 507.16l5.73-4.2-7.72-2.96-5.75 4.35z" fill="#481668"/><path d="M645.18 508.47l5.74-4.12-7.7-2.96-5.76 4.27z" fill="#481668"/><path d="M631.7 509.69l5.76-4.03-7.68-2.96-5.77 4.18z" fill="#481467"/><path d="M618.23 510.81l5.78-3.93-7.66-2.97-5.8 4.09z" fill="#481467"/><path d="M407.15 508.08l6.14-3.14-7.34-3.45-6.14 3.3z" fill="#481668"/><path d="M516.37 513.33l5.93-3.47-7.5-3.13-5.94 3.62z" fill="#471365"/><path d="M455.01 511.4l6.04-3.27-7.4-3.29-6.05 3.42z" fill="#481467"/><path d="M235.41 483.45l6.47-2.99-7.15-4.23-6.46 3.15z" fill="#482576"/><path d="M138.55 459.38l6.64-3.15-7.08-4.86-6.64 3.3z" fill="#46337f"/><path d="M604.76 511.85l5.79-3.85-7.64-2.97-5.81 4z" fill="#481467"/><path d="M159.36 465.48l6.61-3.08-7.09-4.7-6.6 3.23z" fill="#46307e"/><path d="M324.94 499.2l6.29-2.99-7.23-3.76-6.3 3.14z" fill="#481c6e"/><path d="M290.57 494.09l6.37-2.96-7.2-3.92-6.36 3.12z" fill="#481f70"/><path d="M359.29 503.79l6.23-3.03-7.28-3.61-6.23 3.18z" fill="#481a6c"/><path d="M117.72 453.01l6.67-3.2-3.53-2.49-6.68 3.28z" fill="#453781"/><path d="M591.28 512.79l5.82-3.76-7.62-2.97-5.83 3.92z" fill="#481467"/><path d="M180.17 471.34l6.57-3.03-7.1-4.54-6.57 3.17z" fill="#472d7b"/><path d="M502.9 513.73l5.96-3.38-7.48-3.13-5.97 3.53z" fill="#471365"/><path d="M441.53 511.43l6.07-3.17-7.4-3.29-6.07 3.32z" fill="#481668"/><path d="M256.19 488.45l6.43-2.93-7.16-4.07-6.43 3.08z" fill="#482475"/><path d="M577.81 513.65l5.84-3.67-7.6-2.98-5.85 3.83z" fill="#481467"/><path d="M393.65 507.84l6.16-3.05-7.32-3.45-6.17 3.2z" fill="#48186a"/><path d="M200.96 476.93l6.55-2.96-7.12-4.39-6.54 3.12z" fill="#472a7a"/><path d="M489.43 514.04l5.98-3.29-7.47-3.14-5.99 3.45z" fill="#481467"/><path d="M564.34 514.41l5.86-3.58-7.59-2.98-5.86 3.74z" fill="#481467"/><path d="M311.37 498.5l6.33-2.91-7.22-3.76-6.33 3.06z" fill="#481f70"/><path d="M221.76 482.28l6.51-2.9-7.14-4.23-6.5 3.05z" fill="#482878"/><path d="M345.75 503.27l6.26-2.94-7.26-3.6-6.27 3.08z" fill="#481c6e"/><path d="M428.03 511.37l6.1-3.08-7.38-3.29-6.1 3.23z" fill="#481769"/><path d="M550.87 515.09l5.88-3.5-7.57-2.98-5.89 3.65z" fill="#481467"/><path d="M276.98 493.2l6.4-2.87-7.19-3.92-6.39 3.03z" fill="#482173"/><path d="M124.79 457.72l6.68-3.05-7.08-4.86-6.67 3.2z" fill="#453781"/><path d="M145.63 463.93l6.65-3-7.09-4.7-6.64 3.15z" fill="#46337f"/><path d="M380.12 507.51l6.2-2.97-7.31-3.45-6.2 3.12z" fill="#481a6c"/><path d="M475.94 514.26l6.01-3.2-7.45-3.14-6.01 3.35z" fill="#481668"/><path d="M166.45 469.88l6.62-2.94-7.1-4.54-6.61 3.08z" fill="#46307e"/><path d="M537.39 515.67l5.9-3.41-7.55-2.98-5.91 3.56z" fill="#481668"/><path d="M242.56 487.38l6.47-2.85-7.15-4.07-6.47 2.99z" fill="#482677"/><path d="M693.46 506.92l5.69-4.23-7.8-2.8-5.71 4.38z" fill="#481b6d"/><path d="M679.94 508.42l5.7-4.15-7.78-2.8-5.71 4.29z" fill="#481a6c"/><path d="M666.44 509.82l5.71-4.06-7.76-2.8-5.73 4.2z" fill="#481a6c"/><path d="M652.93 511.13l5.73-3.97-7.74-2.81-5.74 4.12z" fill="#48186a"/><path d="M187.27 475.57l6.58-2.87-7.11-4.39-6.57 3.03z" fill="#472e7c"/><path d="M414.52 511.23l6.13-3-7.36-3.29-6.14 3.14z" fill="#48186a"/><path d="M639.43 512.35l5.75-3.88-7.72-2.81-5.76 4.03z" fill="#48186a"/><path d="M462.45 514.38l6.04-3.11-7.44-3.14-6.04 3.27z" fill="#481769"/><path d="M332.19 502.66l6.29-2.85-7.25-3.6-6.29 2.99z" fill="#481d6f"/><path d="M297.78 497.71l6.37-2.82-7.21-3.76-6.37 2.96z" fill="#482173"/><path d="M523.91 516.16l5.92-3.32-7.53-2.98-5.93 3.47z" fill="#481668"/><path d="M625.94 513.48l5.76-3.79-7.69-2.81-5.78 3.93z" fill="#481769"/><path d="M366.59 507.09l6.22-2.88-7.29-3.45-6.23 3.03z" fill="#481c6e"/><path d="M208.08 481.02l6.55-2.82-7.12-4.23-6.55 2.96z" fill="#472c7a"/><path d="M612.45 514.51l5.78-3.7-7.68-2.81-5.79 3.85z" fill="#481769"/><path d="M263.36 492.22l6.44-2.78-7.18-3.92-6.43 2.93z" fill="#482576"/><path d="M598.95 515.46l5.81-3.61-7.66-2.82-5.82 3.76z" fill="#481769"/><path d="M510.42 516.56l5.95-3.23-7.51-2.98-5.96 3.38z" fill="#481769"/><path d="M448.95 514.42l6.06-3.02-7.41-3.14-6.07 3.17z" fill="#48186a"/><path d="M401 510.99l6.15-2.91-7.34-3.29-6.16 3.05z" fill="#481a6c"/><path d="M131.86 462.27l6.69-2.89-7.08-4.71-6.68 3.05z" fill="#453781"/><path d="M228.9 486.21l6.51-2.76-7.14-4.07-6.51 2.9z" fill="#482979"/><path d="M585.46 516.32l5.82-3.53-7.63-2.81-5.84 3.67z" fill="#481769"/><path d="M152.71 468.32l6.65-2.84-7.08-4.55-6.65 3z" fill="#463480"/><path d="M318.61 501.96l6.33-2.76-7.24-3.61-6.33 2.91z" fill="#482071"/><path d="M110.99 455.97l6.73-2.96-3.54-2.41-6.72 3.03z" fill="#443a83"/><path d="M496.93 516.87l5.97-3.14-7.49-2.98-5.98 3.29z" fill="#481769"/><path d="M284.18 496.82l6.39-2.73-7.19-3.76-6.4 2.87z" fill="#482475"/><path d="M353.03 506.57l6.26-2.78-7.28-3.46-6.26 2.94z" fill="#481d6f"/><path d="M173.55 474.11l6.62-2.77-7.1-4.4-6.62 2.94z" fill="#46307e"/><path d="M571.97 517.08l5.84-3.43-7.61-2.82-5.86 3.58z" fill="#481769"/><path d="M435.43 514.36l6.1-2.93-7.4-3.14-6.1 3.08z" fill="#481a6c"/><path d="M249.72 491.15l6.47-2.7-7.16-3.92-6.47 2.85z" fill="#482878"/><path d="M387.46 510.66l6.19-2.82-7.33-3.3-6.2 2.97z" fill="#481c6e"/><path d="M558.48 517.76l5.86-3.35-7.59-2.82-5.88 3.5z" fill="#48186a"/><path d="M194.38 479.65l6.58-2.72-7.11-4.23-6.58 2.87z" fill="#472e7c"/><path d="M483.43 517.09l6-3.05-7.48-2.98-6.01 3.2z" fill="#48186a"/><path d="M544.98 518.34l5.89-3.25-7.58-2.83-5.9 3.41z" fill="#48186a"/><path d="M305.01 501.17l6.36-2.67-7.22-3.61-6.37 2.82z" fill="#482374"/><path d="M215.21 484.94l6.55-2.66-7.13-4.08-6.55 2.82z" fill="#472d7b"/><path d="M339.46 505.96l6.29-2.69-7.27-3.46-6.29 2.85z" fill="#482071"/><path d="M687.78 510.92l5.68-4-7.82-2.65-5.7 4.15z" fill="#481d6f"/><path d="M421.91 514.22l6.12-2.85-7.38-3.14-6.13 3z" fill="#481b6d"/><path d="M674.25 512.32l5.69-3.9-7.79-2.66-5.71 4.06z" fill="#481c6e"/><path d="M118.05 460.53l6.74-2.81-7.07-4.71-6.73 2.96z" fill="#443a83"/><path d="M270.54 495.84l6.44-2.64-7.18-3.76-6.44 2.78z" fill="#482677"/><path d="M660.72 513.63l5.72-3.81-7.78-2.66-5.73 3.97z" fill="#481c6e"/><path d="M469.92 517.22l6.02-2.96-7.45-2.99-6.04 3.11z" fill="#481a6c"/><path d="M138.93 466.67l6.7-2.74-7.08-4.55-6.69 2.89z" fill="#453882"/><path d="M647.2 514.85l5.73-3.72-7.75-2.66-5.75 3.88z" fill="#481b6d"/><path d="M373.9 510.23l6.22-2.72-7.31-3.3-6.22 2.88z" fill="#481d6f"/><path d="M531.48 518.83l5.91-3.16-7.56-2.83-5.92 3.32z" fill="#48186a"/><path d="M159.79 472.56l6.66-2.68-7.09-4.4-6.65 2.84z" fill="#463480"/><path d="M633.68 515.98l5.75-3.63-7.73-2.66-5.76 3.79z" fill="#481b6d"/><path d="M236.05 489.98l6.51-2.6-7.15-3.93-6.51 2.76z" fill="#472a7a"/><path d="M620.17 517.02l5.77-3.54-7.71-2.67-5.78 3.7z" fill="#481b6d"/><path d="M180.65 478.2l6.62-2.63-7.1-4.23-6.62 2.77z" fill="#46327e"/><path d="M408.37 513.98l6.15-2.75-7.37-3.15-6.15 2.91z" fill="#481c6e"/><path d="M517.97 519.24l5.94-3.08-7.54-2.83-5.95 3.23z" fill="#481a6c"/><path d="M456.4 517.25l6.05-2.87-7.44-2.98-6.06 3.02z" fill="#481b6d"/><path d="M606.66 517.97l5.79-3.46-7.69-2.66-5.81 3.61z" fill="#481b6d"/><path d="M325.86 505.26l6.33-2.6-7.25-3.46-6.33 2.76z" fill="#482374"/><path d="M291.39 500.28l6.39-2.57-7.21-3.62-6.39 2.73z" fill="#482576"/><path d="M593.15 518.83l5.8-3.37-7.67-2.67-5.82 3.53z" fill="#481b6d"/><path d="M360.33 509.72l6.26-2.63-7.3-3.3-6.26 2.78z" fill="#482071"/><path d="M201.5 483.58l6.58-2.56-7.12-4.09-6.58 2.72z" fill="#472f7d"/><path d="M256.89 494.76l6.47-2.54-7.17-3.77-6.47 2.7z" fill="#482979"/><path d="M504.46 519.55l5.96-2.99-7.52-2.83-5.97 3.14z" fill="#481b6d"/><path d="M579.63 519.6l5.83-3.28-7.65-2.67-5.84 3.43z" fill="#481b6d"/><path d="M442.86 517.2l6.09-2.78-7.42-2.99-6.1 2.93z" fill="#481c6e"/><path d="M394.81 513.65l6.19-2.66-7.35-3.15-6.19 2.82z" fill="#481f70"/><path d="M125.12 464.93l6.74-2.66-7.07-4.55-6.74 2.81z" fill="#443b84"/><path d="M222.35 488.71l6.55-2.5-7.14-3.93-6.55 2.66z" fill="#472e7c"/><path d="M146.01 470.92l6.7-2.6-7.08-4.39-6.7 2.74z" fill="#453882"/><path d="M566.12 520.28l5.85-3.2-7.63-2.67-5.86 3.35z" fill="#481b6d"/><path d="M490.94 519.77l5.99-2.9-7.5-2.83-6 3.05z" fill="#481b6d"/><path d="M104.22 458.68l6.77-2.71-3.53-2.34-6.77 2.79z" fill="#433e85"/><path d="M312.25 504.47l6.36-2.51-7.24-3.46-6.36 2.67z" fill="#482576"/><path d="M277.74 499.3l6.44-2.48-7.2-3.62-6.44 2.64z" fill="#482878"/><path d="M346.74 509.11l6.29-2.54-7.28-3.3-6.29 2.69z" fill="#482374"/><path d="M166.88 476.65l6.67-2.54-7.1-4.23-6.66 2.68z" fill="#453581"/><path d="M552.6 520.86l5.88-3.1-7.61-2.67-5.89 3.25z" fill="#481b6d"/><path d="M429.32 517.06l6.11-2.7-7.4-2.99-6.12 2.85z" fill="#481d6f"/><path d="M243.21 493.6l6.51-2.45-7.16-3.77-6.51 2.6z" fill="#472c7a"/><path d="M381.24 513.23l6.22-2.57-7.34-3.15-6.22 2.72z" fill="#482071"/><path d="M187.76 482.13l6.62-2.48-7.11-4.08-6.62 2.63z" fill="#46337f"/><path d="M477.41 519.9l6.02-2.81-7.49-2.83-6.02 2.96z" fill="#481c6e"/><path d="M682.1 514.67l5.68-3.75-7.84-2.5-5.69 3.9z" fill="#482071"/><path d="M668.55 515.98l5.7-3.66-7.81-2.5-5.72 3.81z" fill="#481f70"/><path d="M539.08 521.36l5.9-3.02-7.59-2.67-5.91 3.16z" fill="#481c6e"/><path d="M655.01 517.21l5.71-3.58-7.79-2.5-5.73 3.72z" fill="#481f70"/><path d="M641.47 518.34l5.73-3.49-7.77-2.5-5.75 3.63z" fill="#481f70"/><path d="M208.62 487.36l6.59-2.42-7.13-3.92-6.58 2.56z" fill="#46307e"/><path d="M298.61 503.59l6.4-2.42-7.23-3.46-6.39 2.57z" fill="#482878"/><path d="M415.76 516.82l6.15-2.6-7.39-2.99-6.15 2.75z" fill="#481f70"/><path d="M333.14 508.41l6.32-2.45-7.27-3.3-6.33 2.6z" fill="#482475"/><path d="M111.27 463.09l6.78-2.56-7.06-4.56-6.77 2.71z" fill="#423f85"/><path d="M627.93 519.38l5.75-3.4-7.74-2.5-5.77 3.54z" fill="#481d6f"/><path d="M463.87 519.94l6.05-2.72-7.47-2.84-6.05 2.87z" fill="#481d6f"/><path d="M525.55 521.76l5.93-2.93-7.57-2.67-5.94 3.08z" fill="#481c6e"/><path d="M132.19 469.17l6.74-2.5-7.07-4.4-6.74 2.66z" fill="#443b84"/><path d="M264.07 498.23l6.47-2.39-7.18-3.62-6.47 2.54z" fill="#472a7a"/><path d="M614.4 520.33l5.77-3.31-7.72-2.51-5.79 3.46z" fill="#481d6f"/><path d="M367.66 512.72l6.24-2.49-7.31-3.14-6.26 2.63z" fill="#482374"/><path d="M153.09 475l6.7-2.44-7.08-4.24-6.7 2.6z" fill="#443983"/><path d="M600.87 521.19l5.79-3.22-7.71-2.51-5.8 3.37z" fill="#481d6f"/><path d="M229.5 492.33l6.55-2.35-7.15-3.77-6.55 2.5z" fill="#472f7d"/><path d="M512.02 522.07l5.95-2.83-7.55-2.68-5.96 2.99z" fill="#481d6f"/><path d="M173.98 480.58l6.67-2.38-7.1-4.09-6.67 2.54z" fill="#453781"/><path d="M402.19 516.49l6.18-2.51-7.37-2.99-6.19 2.66z" fill="#482173"/><path d="M450.32 519.88l6.08-2.63-7.45-2.83-6.09 2.78z" fill="#481f70"/><path d="M587.33 521.96l5.82-3.13-7.69-2.51-5.83 3.28z" fill="#481f70"/><path d="M319.51 507.62l6.35-2.36-7.25-3.3-6.36 2.51z" fill="#482677"/><path d="M284.95 502.61l6.44-2.33-7.21-3.46-6.44 2.48z" fill="#472a7a"/><path d="M354.05 512.11l6.28-2.39-7.3-3.15-6.29 2.54z" fill="#482576"/><path d="M498.48 522.29l5.98-2.74-7.53-2.68-5.99 2.9z" fill="#481f70"/><path d="M573.8 522.64l5.83-3.04-7.66-2.52-5.85 3.2z" fill="#481f70"/><path d="M194.87 485.91l6.63-2.33-7.12-3.93-6.62 2.48z" fill="#463480"/><path d="M250.38 497.06l6.51-2.3-7.17-3.61-6.51 2.45z" fill="#472e7c"/><path d="M436.76 519.74l6.1-2.54-7.43-2.84-6.11 2.7z" fill="#482071"/><path d="M118.33 467.33l6.79-2.4-7.07-4.4-6.78 2.56z" fill="#423f85"/><path d="M388.6 516.07l6.21-2.42-7.35-2.99-6.22 2.57z" fill="#482374"/><path d="M560.26 523.23l5.86-2.95-7.64-2.52-5.88 3.1z" fill="#481f70"/><path d="M139.26 473.26l6.75-2.34-7.08-4.25-6.74 2.5z" fill="#433d84"/><path d="M484.93 522.43l6.01-2.66-7.51-2.68-6.02 2.81z" fill="#482071"/><path d="M215.76 490.98l6.59-2.27-7.14-3.77-6.59 2.42z" fill="#46327e"/><path d="M97.39 461.15l6.83-2.47-3.53-2.26-6.82 2.54z" fill="#414287"/><path d="M676.42 518.18l5.68-3.51-7.85-2.35-5.7 3.66z" fill="#482374"/><path d="M305.86 506.74l6.39-2.27-7.24-3.3-6.4 2.42z" fill="#482979"/><path d="M546.71 523.72l5.89-2.86-7.62-2.52-5.9 3.02z" fill="#482071"/><path d="M160.17 478.94l6.71-2.29-7.09-4.09-6.7 2.44z" fill="#443a83"/><path d="M340.43 511.41l6.31-2.3-7.28-3.15-6.32 2.45z" fill="#482677"/><path d="M662.86 519.4l5.69-3.42-7.83-2.35-5.71 3.58z" fill="#482374"/><path d="M271.27 501.53l6.47-2.23-7.2-3.46-6.47 2.39z" fill="#472d7b"/><path d="M423.18 519.5l6.14-2.44-7.41-2.84-6.15 2.6z" fill="#482374"/><path d="M649.29 520.54l5.72-3.33-7.81-2.36-5.73 3.49z" fill="#482374"/><path d="M471.37 522.47l6.04-2.57-7.49-2.68-6.05 2.72z" fill="#482173"/><path d="M375 515.56l6.24-2.33-7.34-3-6.24 2.49z" fill="#482576"/><path d="M236.65 495.8l6.56-2.2-7.16-3.62-6.55 2.35z" fill="#46307e"/><path d="M635.74 521.58l5.73-3.24-7.79-2.36-5.75 3.4z" fill="#482173"/><path d="M181.08 484.36l6.68-2.23-7.11-3.93-6.67 2.38z" fill="#453882"/><path d="M533.17 524.13l5.91-2.77-7.6-2.53-5.93 2.93z" fill="#482071"/><path d="M622.18 522.54l5.75-3.16-7.76-2.36-5.77 3.31z" fill="#482173"/><path d="M608.62 523.4l5.78-3.07-7.74-2.36-5.79 3.22z" fill="#482173"/><path d="M409.59 519.18l6.17-2.36-7.39-2.84-6.18 2.51z" fill="#482475"/><path d="M104.44 465.4l6.83-2.31-7.05-4.41-6.83 2.47z" fill="#414287"/><path d="M519.61 524.44l5.94-2.68-7.58-2.52-5.95 2.83z" fill="#482173"/><path d="M201.99 489.53l6.63-2.17-7.12-3.78-6.63 2.33z" fill="#453581"/><path d="M292.18 505.76l6.43-2.17-7.22-3.31-6.44 2.33z" fill="#472d7b"/><path d="M457.81 522.41l6.06-2.47-7.47-2.69-6.08 2.63z" fill="#482374"/><path d="M326.78 510.62l6.36-2.21-7.28-3.15-6.35 2.36z" fill="#482979"/><path d="M125.39 471.42l6.8-2.25-7.07-4.24-6.79 2.4z" fill="#424086"/><path d="M257.56 500.37l6.51-2.14-7.18-3.47-6.51 2.3z" fill="#472f7d"/><path d="M595.07 524.17l5.8-2.98-7.72-2.36-5.82 3.13z" fill="#482173"/><path d="M361.38 514.95l6.28-2.23-7.33-3-6.28 2.39z" fill="#482878"/><path d="M146.33 477.2l6.76-2.2-7.08-4.08-6.75 2.34z" fill="#433d84"/><path d="M506.05 524.67l5.97-2.6-7.56-2.52-5.98 2.74z" fill="#482374"/><path d="M581.51 524.85l5.82-2.89-7.7-2.36-5.83 3.04z" fill="#482374"/><path d="M222.9 494.44l6.6-2.11-7.15-3.62-6.59 2.27z" fill="#463480"/><path d="M444.22 522.27l6.1-2.39-7.46-2.68-6.1 2.54z" fill="#482475"/><path d="M395.99 518.76l6.2-2.27-7.38-2.84-6.21 2.42z" fill="#482677"/><path d="M167.27 482.72l6.71-2.14-7.1-3.93-6.71 2.29z" fill="#443b84"/><path d="M567.95 525.44l5.85-2.8-7.68-2.36-5.86 2.95z" fill="#482374"/><path d="M313.11 509.74l6.4-2.12-7.26-3.15-6.39 2.27z" fill="#472c7a"/><path d="M278.48 504.69l6.47-2.08-7.21-3.31-6.47 2.23z" fill="#472f7d"/><path d="M492.48 524.8l6-2.51-7.54-2.52-6.01 2.66z" fill="#482374"/><path d="M347.74 514.26l6.31-2.15-7.31-3-6.31 2.3z" fill="#472a7a"/><path d="M188.19 487.98l6.68-2.07-7.11-3.78-6.68 2.23z" fill="#443983"/><path d="M243.82 499.11l6.56-2.05-7.17-3.46-6.56 2.2z" fill="#46337f"/><path d="M554.38 525.94l5.88-2.71-7.66-2.37-5.89 2.86z" fill="#482374"/><path d="M430.63 522.04l6.13-2.3-7.44-2.68-6.14 2.44z" fill="#482576"/><path d="M111.49 469.49l6.84-2.16-7.06-4.24-6.83 2.31z" fill="#414487"/><path d="M670.75 521.45l5.67-3.27-7.87-2.2-5.69 3.42z" fill="#482677"/><path d="M382.37 518.25l6.23-2.18-7.36-2.84-6.24 2.33z" fill="#482878"/><path d="M478.91 524.84l6.02-2.41-7.52-2.53-6.04 2.57z" fill="#482475"/><path d="M657.16 522.58l5.7-3.18-7.85-2.19-5.72 3.33z" fill="#482677"/><path d="M132.46 475.36l6.8-2.1-7.07-4.09-6.8 2.25z" fill="#424186"/><path d="M90.51 463.36l6.88-2.21-3.52-2.19-6.88 2.3z" fill="#3f4788"/><path d="M209.12 492.99l6.64-2.01-7.14-3.62-6.63 2.17z" fill="#453781"/><path d="M540.81 526.34l5.9-2.62-7.63-2.36-5.91 2.77z" fill="#482475"/><path d="M643.58 523.63l5.71-3.09-7.82-2.2-5.73 3.24z" fill="#482576"/><path d="M299.42 508.76l6.44-2.02-7.25-3.15-6.43 2.17z" fill="#472e7c"/><path d="M153.42 480.98l6.75-2.04-7.08-3.94-6.76 2.2z" fill="#423f85"/><path d="M630 524.59l5.74-3.01-7.81-2.2-5.75 3.16z" fill="#482576"/><path d="M334.08 513.47l6.35-2.06-7.29-3-6.36 2.21z" fill="#472c7a"/><path d="M264.76 503.53l6.51-2-7.2-3.3-6.51 2.14z" fill="#46327e"/><path d="M417.02 521.71l6.16-2.21-7.42-2.68-6.17 2.36z" fill="#482878"/><path d="M465.32 524.79l6.05-2.32-7.5-2.53-6.06 2.47z" fill="#482677"/><path d="M527.24 526.66l5.93-2.53-7.62-2.37-5.94 2.68z" fill="#482576"/><path d="M616.42 525.45l5.76-2.91-7.78-2.21-5.78 3.07z" fill="#482576"/><path d="M368.73 517.64l6.27-2.08-7.34-2.84-6.28 2.23z" fill="#472a7a"/><path d="M230.06 497.76l6.59-1.96-7.15-3.47-6.6 2.11z" fill="#453581"/><path d="M174.37 486.34l6.71-1.98-7.1-3.78-6.71 2.14z" fill="#433d84"/><path d="M602.84 526.22l5.78-2.82-7.75-2.21-5.8 2.98z" fill="#482677"/><path d="M513.66 526.88l5.95-2.44-7.59-2.37-5.97 2.6z" fill="#482576"/><path d="M97.56 467.46l6.88-2.06-7.05-4.25-6.88 2.21z" fill="#3f4788"/><path d="M403.4 521.29l6.19-2.11-7.4-2.69-6.2 2.27z" fill="#482979"/><path d="M451.72 524.65l6.09-2.24-7.49-2.53-6.1 2.39z" fill="#482878"/><path d="M589.26 526.91l5.81-2.74-7.74-2.21-5.82 2.89z" fill="#482677"/><path d="M195.31 491.45l6.68-1.92-7.12-3.62-6.68 2.07z" fill="#443a83"/><path d="M285.71 507.69l6.47-1.93-7.23-3.15-6.47 2.08z" fill="#46327e"/><path d="M320.39 512.58l6.39-1.96-7.27-3-6.4 2.12z" fill="#472e7c"/><path d="M118.55 473.43l6.84-2.01-7.06-4.09-6.84 2.16z" fill="#404588"/><path d="M251.01 502.27l6.55-1.9-7.18-3.31-6.56 2.05z" fill="#453581"/><path d="M355.07 516.95l6.31-2-7.33-2.84-6.31 2.15z" fill="#472d7b"/><path d="M575.67 527.5l5.84-2.65-7.71-2.21-5.85 2.8z" fill="#482677"/><path d="M500.07 527.02l5.98-2.35-7.57-2.38-6 2.51z" fill="#482677"/><path d="M139.53 479.14l6.8-1.94-7.07-3.94-6.8 2.1z" fill="#414287"/><path d="M216.27 496.31l6.63-1.87-7.14-3.46-6.64 2.01z" fill="#443983"/><path d="M438.1 524.41l6.12-2.14-7.46-2.53-6.13 2.3z" fill="#482979"/><path d="M389.76 520.78l6.23-2.02-7.39-2.69-6.23 2.18z" fill="#472c7a"/><path d="M562.09 528l5.86-2.56-7.69-2.21-5.88 2.71z" fill="#482878"/><path d="M160.5 484.6l6.77-1.88-7.1-3.78-6.75 2.04z" fill="#424086"/><path d="M486.47 527.06l6.01-2.26-7.55-2.37-6.02 2.41z" fill="#482878"/><path d="M306.69 511.61l6.42-1.87-7.25-3-6.44 2.02z" fill="#46327e"/><path d="M665.07 524.47l5.68-3.02-7.89-2.05-5.7 3.18z" fill="#472a7a"/><path d="M271.97 506.53l6.51-1.84-7.21-3.16-6.51 2z" fill="#463480"/><path d="M548.5 528.4l5.88-2.46-7.67-2.22-5.9 2.62z" fill="#482878"/><path d="M341.39 516.16l6.35-1.9-7.31-2.85-6.35 2.06z" fill="#472f7d"/><path d="M181.47 489.81l6.72-1.83-7.11-3.62-6.71 1.98z" fill="#433e85"/><path d="M651.46 525.52l5.7-2.94-7.87-2.04-5.71 3.09z" fill="#472a7a"/><path d="M237.23 500.91l6.59-1.8-7.17-3.31-6.59 1.96z" fill="#453882"/><path d="M424.48 524.09l6.15-2.05-7.45-2.54-6.16 2.21z" fill="#472a7a"/><path d="M104.6 471.4l6.89-1.91-7.05-4.09-6.88 2.06z" fill="#3f4889"/><path d="M637.85 526.48l5.73-2.85-7.84-2.05-5.74 3.01z" fill="#472a7a"/><path d="M376.1 520.18l6.27-1.93-7.37-2.69-6.27 2.08z" fill="#472e7c"/><path d="M472.86 527.01l6.05-2.17-7.54-2.37-6.05 2.32z" fill="#482979"/><path d="M534.9 528.72l5.91-2.38-7.64-2.21-5.93 2.53z" fill="#482979"/><path d="M83.58 465.33l6.93-1.97-3.52-2.1-6.93 2.04z" fill="#3e4c8a"/><path d="M125.61 477.21l6.85-1.85-7.07-3.94-6.84 2.01z" fill="#404688"/><path d="M624.25 527.35l5.75-2.76-7.82-2.05-5.76 2.91z" fill="#472a7a"/><path d="M202.44 494.76l6.68-1.77-7.13-3.46-6.68 1.92z" fill="#433d84"/><path d="M610.65 528.12l5.77-2.67-7.8-2.05-5.78 2.82z" fill="#472a7a"/><path d="M292.96 510.54l6.46-1.78-7.24-3-6.47 1.93z" fill="#463480"/><path d="M146.61 482.77l6.81-1.79-7.09-3.78-6.8 1.94z" fill="#414487"/><path d="M410.83 523.67l6.19-1.96-7.43-2.53-6.19 2.11z" fill="#472d7b"/><path d="M327.69 515.27l6.39-1.8-7.3-2.85-6.39 1.96z" fill="#46327e"/><path d="M521.3 528.95l5.94-2.29-7.63-2.22-5.95 2.44z" fill="#472a7a"/><path d="M258.21 505.27l6.55-1.74-7.2-3.16-6.55 1.9z" fill="#453882"/><path d="M459.24 526.87l6.08-2.08-7.51-2.38-6.09 2.24z" fill="#472c7a"/><path d="M597.04 528.81l5.8-2.59-7.77-2.05-5.81 2.74z" fill="#472a7a"/><path d="M362.42 519.48l6.31-1.84-7.35-2.69-6.31 2z" fill="#472f7d"/><path d="M167.6 488.07l6.77-1.73-7.1-3.62-6.77 1.88z" fill="#424186"/><path d="M223.42 499.47l6.64-1.71-7.16-3.32-6.63 1.87z" fill="#443b84"/><path d="M507.68 529.08l5.98-2.2-7.61-2.21-5.98 2.35z" fill="#472a7a"/><path d="M583.44 529.4l5.82-2.49-7.75-2.06-5.84 2.65z" fill="#472a7a"/><path d="M90.62 469.27l6.94-1.81-7.05-4.1-6.93 1.97z" fill="#3e4c8a"/><path d="M445.6 526.64l6.12-1.99-7.5-2.38-6.12 2.14z" fill="#472d7b"/><path d="M397.17 523.16l6.23-1.87-7.41-2.53-6.23 2.02z" fill="#472f7d"/><path d="M188.59 493.12l6.72-1.67-7.12-3.47-6.72 1.83z" fill="#424086"/><path d="M111.65 475.18l6.9-1.75-7.06-3.94-6.89 1.91z" fill="#3e4989"/><path d="M279.2 509.37l6.51-1.68-7.23-3-6.51 1.84z" fill="#453781"/><path d="M313.97 514.3l6.42-1.72-7.28-2.84-6.42 1.87z" fill="#463480"/><path d="M569.83 529.9l5.84-2.4-7.72-2.06-5.86 2.56z" fill="#472c7a"/><path d="M494.06 529.12l6.01-2.1-7.59-2.22-6.01 2.26z" fill="#472c7a"/><path d="M244.41 503.92l6.6-1.65-7.19-3.16-6.59 1.8z" fill="#443a83"/><path d="M348.73 518.69l6.34-1.74-7.33-2.69-6.35 1.9z" fill="#46327e"/><path d="M132.67 480.84l6.86-1.7-7.07-3.78-6.85 1.85z" fill="#3f4788"/><path d="M556.21 530.31l5.88-2.31-7.71-2.06-5.88 2.46z" fill="#472c7a"/><path d="M431.96 526.31l6.14-1.9-7.47-2.37-6.15 2.05z" fill="#472e7c"/><path d="M209.59 497.92l6.68-1.61-7.15-3.32-6.68 1.77z" fill="#423f85"/><path d="M659.38 527.26l5.69-2.79-7.91-1.89-5.7 2.94z" fill="#472e7c"/><path d="M383.5 522.56l6.26-1.78-7.39-2.53-6.27 1.93z" fill="#46307e"/><path d="M153.69 486.24l6.81-1.64-7.08-3.62-6.81 1.79z" fill="#404588"/><path d="M480.43 529.08l6.04-2.02-7.56-2.22-6.05 2.17z" fill="#472d7b"/><path d="M645.75 528.22l5.71-2.7-7.88-1.89-5.73 2.85z" fill="#472e7c"/><path d="M542.59 530.63l5.91-2.23-7.69-2.06-5.91 2.38z" fill="#472d7b"/><path d="M300.22 513.23l6.47-1.62-7.27-2.85-6.46 1.78z" fill="#453781"/><path d="M265.42 508.12l6.55-1.59-7.21-3-6.55 1.74z" fill="#443a83"/><path d="M632.13 529.09l5.72-2.61-7.85-1.89-5.75 2.76z" fill="#472e7c"/><path d="M335.01 517.81l6.38-1.65-7.31-2.69-6.39 1.8z" fill="#463480"/><path d="M174.7 491.39l6.77-1.58-7.1-3.47-6.77 1.73z" fill="#414487"/><path d="M418.29 525.89l6.19-1.8-7.46-2.38-6.19 1.96z" fill="#46307e"/><path d="M230.59 502.47l6.64-1.56-7.17-3.15-6.64 1.71z" fill="#433e85"/><path d="M618.5 529.86l5.75-2.51-7.83-1.9-5.77 2.67z" fill="#472e7c"/><path d="M97.66 473.06l6.94-1.66-7.04-3.94-6.94 1.81z" fill="#3d4d8a"/><path d="M528.97 530.85l5.93-2.13-7.66-2.06-5.94 2.29z" fill="#472e7c"/><path d="M466.79 528.94l6.07-1.93-7.54-2.22-6.08 2.08z" fill="#472f7d"/><path d="M369.8 521.86l6.3-1.68-7.37-2.54-6.31 1.84z" fill="#46337f"/><path d="M76.59 467.05l6.99-1.72-3.52-2.03-6.98 1.79z" fill="#3c508b"/><path d="M118.7 478.81l6.91-1.6-7.06-3.78-6.9 1.75z" fill="#3e4a89"/><path d="M604.87 530.55l5.78-2.43-7.81-1.9-5.8 2.59z" fill="#472e7c"/><path d="M195.72 496.28l6.72-1.52-7.13-3.31-6.72 1.67z" fill="#424186"/><path d="M515.33 530.99l5.97-2.04-7.64-2.07-5.98 2.2z" fill="#472f7d"/><path d="M139.74 484.31l6.87-1.54-7.08-3.63-6.86 1.7z" fill="#3f4889"/><path d="M286.45 512.07l6.51-1.53-7.25-2.85-6.51 1.68z" fill="#443a83"/><path d="M591.24 531.14l5.8-2.33-7.78-1.9-5.82 2.49z" fill="#472f7d"/><path d="M404.61 525.38l6.22-1.71-7.43-2.38-6.23 1.87z" fill="#46327e"/><path d="M453.14 528.7l6.1-1.83-7.52-2.22-6.12 1.99z" fill="#46307e"/><path d="M321.27 516.83l6.42-1.56-7.3-2.69-6.42 1.72z" fill="#453781"/><path d="M251.61 506.76l6.6-1.49-7.2-3-6.6 1.65z" fill="#433d84"/><path d="M356.09 521.07l6.33-1.59-7.35-2.53-6.34 1.74z" fill="#453581"/><path d="M577.61 531.65l5.83-2.25-7.77-1.9-5.84 2.4z" fill="#472f7d"/><path d="M160.78 489.56l6.82-1.49-7.1-3.47-6.81 1.64z" fill="#3f4788"/><path d="M216.74 500.93l6.68-1.46-7.15-3.16-6.68 1.61z" fill="#424186"/><path d="M501.69 531.03l5.99-1.95-7.61-2.06-6.01 2.1z" fill="#46307e"/><path d="M83.62 470.83l7-1.56-7.04-3.94-6.99 1.72z" fill="#3b518b"/><path d="M439.47 528.38l6.13-1.74-7.5-2.23-6.14 1.9z" fill="#46327e"/><path d="M390.92 524.78l6.25-1.62-7.41-2.38-6.26 1.78z" fill="#463480"/><path d="M563.97 532.06l5.86-2.16-7.74-1.9-5.88 2.31z" fill="#46307e"/><path d="M104.7 476.69l6.95-1.51-7.05-3.78-6.94 1.66z" fill="#3c4f8a"/><path d="M181.82 494.55l6.77-1.43-7.12-3.31-6.77 1.58z" fill="#404588"/><path d="M272.65 510.81l6.55-1.44-7.23-2.84-6.55 1.59z" fill="#433d84"/><path d="M307.5 515.77l6.47-1.47-7.28-2.69-6.47 1.62z" fill="#443a83"/><path d="M488.04 530.99l6.02-1.87-7.59-2.06-6.04 2.02z" fill="#46327e"/><path d="M237.77 505.32l6.64-1.4-7.18-3.01-6.64 1.56z" fill="#424086"/><path d="M653.7 529.8l5.68-2.54-7.92-1.74-5.71 2.7z" fill="#46337f"/><path d="M342.35 520.19l6.38-1.5-7.34-2.53-6.38 1.65z" fill="#453882"/><path d="M550.32 532.38l5.89-2.07-7.71-1.91-5.91 2.23z" fill="#46307e"/><path d="M125.76 482.29l6.91-1.45-7.06-3.63-6.91 1.6z" fill="#3d4d8a"/><path d="M425.78 527.96l6.18-1.65-7.48-2.22-6.19 1.8z" fill="#463480"/><path d="M640.04 530.67l5.71-2.45-7.9-1.74-5.72 2.61z" fill="#46337f"/><path d="M202.86 499.29l6.73-1.37-7.15-3.16-6.72 1.52z" fill="#414487"/><path d="M377.2 524.09l6.3-1.53-7.4-2.38-6.3 1.68z" fill="#453781"/><path d="M474.37 530.85l6.06-1.77-7.57-2.07-6.07 1.93z" fill="#46337f"/><path d="M146.82 487.63l6.87-1.39-7.08-3.47-6.87 1.54z" fill="#3e4a89"/><path d="M536.68 532.61l5.91-1.98-7.69-1.91-5.93 2.13z" fill="#46327e"/><path d="M626.39 531.45l5.74-2.36-7.88-1.74-5.75 2.51z" fill="#46337f"/><path d="M293.71 514.6l6.51-1.37-7.26-2.69-6.51 1.53z" fill="#433d84"/><path d="M612.74 532.14l5.76-2.28-7.85-1.74-5.78 2.43z" fill="#46337f"/><path d="M258.83 509.46l6.59-1.34-7.21-2.85-6.6 1.49z" fill="#424086"/><path d="M328.59 519.22l6.42-1.41-7.32-2.54-6.42 1.56z" fill="#443a83"/><path d="M167.88 492.72l6.82-1.33-7.1-3.32-6.82 1.49z" fill="#3e4989"/><path d="M412.08 527.45l6.21-1.56-7.46-2.22-6.22 1.71z" fill="#453581"/><path d="M523.02 532.74l5.95-1.89-7.67-1.9-5.97 2.04z" fill="#46337f"/><path d="M460.7 530.61l6.09-1.67-7.55-2.07-6.1 1.83z" fill="#463480"/><path d="M90.65 474.47l7.01-1.41-7.04-3.79-7 1.56z" fill="#3b528b"/><path d="M223.91 503.77l6.68-1.3-7.17-3-6.68 1.46z" fill="#414487"/><path d="M599.08 532.73l5.79-2.18-7.83-1.74-5.8 2.33z" fill="#46337f"/><path d="M363.47 523.3l6.33-1.44-7.38-2.38-6.33 1.59z" fill="#443983"/><path d="M69.54 468.51l7.05-1.46-3.51-1.96-7.05 1.55z" fill="#39558c"/><path d="M111.74 480.16l6.96-1.35-7.05-3.63-6.95 1.51z" fill="#3c508b"/><path d="M585.42 533.24l5.82-2.1-7.8-1.74-5.83 2.25z" fill="#463480"/><path d="M509.35 532.79l5.98-1.8-7.65-1.91-5.99 1.95z" fill="#463480"/><path d="M188.94 497.55l6.78-1.27-7.13-3.16-6.77 1.43z" fill="#3f4788"/><path d="M132.83 485.6l6.91-1.29-7.07-3.47-6.91 1.45z" fill="#3d4e8a"/><path d="M398.37 526.85l6.24-1.47-7.44-2.22-6.25 1.62z" fill="#453882"/><path d="M447.01 530.29l6.13-1.59-7.54-2.06-6.13 1.74z" fill="#453781"/><path d="M279.9 513.34l6.55-1.27-7.25-2.7-6.55 1.44z" fill="#424086"/><path d="M314.81 518.15l6.46-1.32-7.3-2.53-6.47 1.47z" fill="#433d84"/><path d="M244.97 508.01l6.64-1.25-7.2-2.84-6.64 1.4z" fill="#414287"/><path d="M571.76 533.65l5.85-2-7.78-1.75-5.86 2.16z" fill="#463480"/><path d="M349.71 522.42l6.38-1.35-7.36-2.38-6.38 1.5z" fill="#443b84"/><path d="M495.68 532.74l6.01-1.71-7.63-1.91-6.02 1.87z" fill="#453581"/><path d="M153.91 490.79l6.87-1.23-7.09-3.32-6.87 1.39z" fill="#3d4d8a"/><path d="M210.01 502.14l6.73-1.21-7.15-3.01-6.73 1.37z" fill="#3f4788"/><path d="M558.09 533.97l5.88-1.91-7.76-1.75-5.89 2.07z" fill="#453581"/><path d="M433.3 529.87l6.17-1.49-7.51-2.07-6.18 1.65z" fill="#453882"/><path d="M76.56 472.14l7.06-1.31-7.03-3.78-7.05 1.46z" fill="#39568c"/><path d="M384.63 526.15l6.29-1.37-7.42-2.22-6.3 1.53z" fill="#443a83"/><path d="M648.01 532.1l5.69-2.3-7.95-1.58-5.71 2.45z" fill="#453882"/><path d="M97.69 477.94l7.01-1.25-7.04-3.63-7.01 1.41z" fill="#3a548c"/><path d="M481.99 532.6l6.05-1.61-7.61-1.91-6.06 1.77z" fill="#453781"/><path d="M174.99 495.72l6.83-1.17-7.12-3.16-6.82 1.33z" fill="#3e4a89"/><path d="M301 516.98l6.5-1.21-7.28-2.54-6.51 1.37z" fill="#424086"/><path d="M266.06 511.99l6.59-1.18-7.23-2.69-6.59 1.34z" fill="#414287"/><path d="M544.42 534.2l5.9-1.82-7.73-1.75-5.91 1.98z" fill="#453781"/><path d="M634.33 532.88l5.71-2.21-7.91-1.58-5.74 2.36z" fill="#453882"/><path d="M335.93 521.44l6.42-1.25-7.34-2.38-6.42 1.41z" fill="#433e85"/><path d="M231.09 506.47l6.68-1.15-7.18-2.85-6.68 1.3z" fill="#404688"/><path d="M118.8 483.48l6.96-1.19-7.06-3.48-6.96 1.35z" fill="#3b528b"/><path d="M419.58 529.36l6.2-1.4-7.49-2.07-6.21 1.56z" fill="#443a83"/><path d="M620.65 533.57l5.74-2.12-7.89-1.59-5.76 2.28z" fill="#453882"/><path d="M530.74 534.34l5.94-1.73-7.71-1.76-5.95 1.89z" fill="#453882"/><path d="M468.29 532.37l6.08-1.52-7.58-1.91-6.09 1.67z" fill="#443983"/><path d="M370.88 525.37l6.32-1.28-7.4-2.23-6.33 1.44z" fill="#433d84"/><path d="M196.08 500.4l6.78-1.11-7.14-3.01-6.78 1.27z" fill="#3e4a89"/><path d="M139.9 488.76l6.92-1.13-7.08-3.32-6.91 1.29z" fill="#3c508b"/><path d="M606.97 534.17l5.77-2.03-7.87-1.59-5.79 2.18z" fill="#453882"/><path d="M287.17 515.73l6.54-1.13-7.26-2.53-6.55 1.27z" fill="#414287"/><path d="M517.05 534.38l5.97-1.64-7.69-1.75-5.98 1.8z" fill="#443983"/><path d="M252.19 510.55l6.64-1.09-7.22-2.7-6.64 1.25z" fill="#404688"/><path d="M593.28 534.67l5.8-1.94-7.84-1.59-5.82 2.1z" fill="#443983"/><path d="M322.13 520.37l6.46-1.15-7.32-2.39-6.46 1.32z" fill="#424086"/><path d="M405.84 528.76l6.24-1.31-7.47-2.07-6.24 1.47z" fill="#443b84"/><path d="M161.01 493.79l6.87-1.07-7.1-3.16-6.87 1.23z" fill="#3c4f8a"/><path d="M454.58 532.05l6.12-1.44-7.56-1.91-6.13 1.59z" fill="#443a83"/><path d="M83.59 475.62l7.06-1.15-7.03-3.64-7.06 1.31z" fill="#38588c"/><path d="M217.17 504.83l6.74-1.06-7.17-2.84-6.73 1.21z" fill="#3e4989"/><path d="M62.43 469.72l7.11-1.21-3.51-1.87-7.1 1.29z" fill="#375b8d"/><path d="M357.1 524.48l6.37-1.18-7.38-2.23-6.38 1.35z" fill="#423f85"/><path d="M579.6 535.09l5.82-1.85-7.81-1.59-5.85 2z" fill="#443983"/><path d="M104.73 481.26l7.01-1.1-7.04-3.47-7.01 1.25z" fill="#39558c"/><path d="M503.35 534.34l6-1.55-7.66-1.76-6.01 1.71z" fill="#443a83"/><path d="M182.11 498.57l6.83-1.02-7.12-3-6.83 1.17z" fill="#3d4e8a"/><path d="M440.85 531.63l6.16-1.34-7.54-1.91-6.17 1.49z" fill="#433d84"/><path d="M565.9 535.41l5.86-1.76-7.79-1.59-5.88 1.91z" fill="#443a83"/><path d="M392.09 528.07l6.28-1.22-7.45-2.07-6.29 1.37z" fill="#433e85"/><path d="M125.86 486.64l6.97-1.04-7.07-3.31-6.96 1.19z" fill="#3a538b"/><path d="M273.31 514.37l6.59-1.03-7.25-2.53-6.59 1.18z" fill="#404688"/><path d="M308.31 519.21l6.5-1.06-7.31-2.38-6.5 1.21z" fill="#414487"/><path d="M238.29 509l6.68-.99-7.2-2.69-6.68 1.15z" fill="#3e4989"/><path d="M489.64 534.2l6.04-1.46-7.64-1.75-6.05 1.61z" fill="#443b84"/><path d="M343.3 523.51l6.41-1.09-7.36-2.23-6.42 1.25z" fill="#424186"/><path d="M552.2 535.64l5.89-1.67-7.77-1.59-5.9 1.82z" fill="#443b84"/><path d="M146.98 491.77l6.93-.98-7.09-3.16-6.92 1.13z" fill="#3b528b"/><path d="M203.23 503.09l6.78-.95-7.15-2.85-6.78 1.11z" fill="#3d4d8a"/><path d="M642.31 534.15l5.7-2.05-7.97-1.43-5.71 2.21z" fill="#433d84"/><path d="M427.11 531.12l6.19-1.25-7.52-1.91-6.2 1.4z" fill="#433e85"/><path d="M69.45 473.2l7.11-1.06-7.02-3.63-7.11 1.21z" fill="#365c8d"/><path d="M378.31 527.28l6.32-1.13-7.43-2.06-6.32 1.28z" fill="#424086"/><path d="M628.6 534.84l5.73-1.96-7.94-1.43-5.74 2.12z" fill="#433d84"/><path d="M475.92 533.97l6.07-1.37-7.62-1.75-6.08 1.52z" fill="#433d84"/><path d="M538.5 535.78l5.92-1.58-7.74-1.59-5.94 1.73z" fill="#433d84"/><path d="M90.62 478.94l7.07-1-7.04-3.47-7.06 1.15z" fill="#375a8c"/><path d="M168.11 496.64l6.88-.92-7.11-3-6.87 1.07z" fill="#3b518b"/><path d="M294.46 517.95l6.54-.97-7.29-2.38-6.54 1.13z" fill="#404688"/><path d="M259.42 512.93l6.64-.94-7.23-2.53-6.64 1.09z" fill="#3f4889"/><path d="M614.89 535.44l5.76-1.87-7.91-1.43-5.77 2.03z" fill="#433d84"/><path d="M329.48 522.44l6.45-1-7.34-2.22-6.46 1.15z" fill="#414487"/><path d="M111.77 484.42l7.03-.94-7.06-3.32-7.01 1.1z" fill="#38588c"/><path d="M224.36 507.36l6.73-.89-7.18-2.7-6.74 1.06z" fill="#3e4c8a"/><path d="M413.35 530.52l6.23-1.16-7.5-1.91-6.24 1.31z" fill="#424086"/><path d="M524.78 535.82l5.96-1.48-7.72-1.6-5.97 1.64z" fill="#433e85"/><path d="M462.18 533.64l6.11-1.27-7.59-1.76-6.12 1.44z" fill="#423f85"/><path d="M601.18 535.95l5.79-1.78-7.89-1.44-5.8 1.94z" fill="#433e85"/><path d="M364.51 526.4l6.37-1.03-7.41-2.07-6.37 1.18z" fill="#414287"/><path d="M189.25 501.26l6.83-.86-7.14-2.85-6.83 1.02z" fill="#3c508b"/><path d="M132.93 489.65l6.97-.89-7.07-3.16-6.97 1.04z" fill="#39558c"/><path d="M587.47 536.36l5.81-1.69-7.86-1.43-5.82 1.85z" fill="#433e85"/><path d="M511.06 535.78l5.99-1.4-7.7-1.59-6 1.55z" fill="#423f85"/><path d="M280.58 516.6l6.59-.87-7.27-2.39-6.59 1.03z" fill="#3e4989"/><path d="M399.57 529.82l6.27-1.06-7.47-1.91-6.28 1.22z" fill="#414287"/><path d="M245.5 511.38l6.69-.83-7.22-2.54-6.68 .99z" fill="#3e4c8a"/><path d="M448.43 533.23l6.15-1.18-7.57-1.76-6.16 1.34z" fill="#424086"/><path d="M315.64 521.28l6.49-.91-7.32-2.22-6.5 1.06z" fill="#3f4788"/><path d="M154.08 494.62l6.93-.83-7.1-3-6.93 .98z" fill="#3a548c"/><path d="M76.46 476.52l7.13-.9-7.03-3.48-7.11 1.06z" fill="#355e8d"/><path d="M573.75 536.69l5.85-1.6-7.84-1.44-5.86 1.76z" fill="#423f85"/><path d="M210.39 505.63l6.78-.8-7.16-2.69-6.78 .95z" fill="#3c4f8a"/><path d="M350.7 525.42l6.4-.94-7.39-2.06-6.41 1.09z" fill="#404588"/><path d="M497.33 535.64l6.02-1.3-7.67-1.6-6.04 1.46z" fill="#424086"/><path d="M97.65 482.1l7.08-.84-7.04-3.32-7.07 1z" fill="#365c8d"/><path d="M560.03 536.92l5.87-1.51-7.81-1.44-5.89 1.67z" fill="#424086"/><path d="M175.23 499.33l6.88-.76-7.12-2.85-6.88 .92z" fill="#3a538b"/><path d="M434.67 532.72l6.18-1.09-7.55-1.76-6.19 1.25z" fill="#414287"/><path d="M385.77 529.03l6.32-.96-7.46-1.92-6.32 1.13z" fill="#404588"/><path d="M118.83 487.43l7.03-.79-7.06-3.16-7.03 .94z" fill="#375a8c"/><path d="M266.67 515.15l6.64-.78-7.25-2.38-6.64 .94z" fill="#3e4c8a"/><path d="M301.77 520.02l6.54-.81-7.31-2.23-6.54 .97z" fill="#3e4989"/><path d="M483.58 535.41l6.06-1.21-7.65-1.6-6.07 1.37z" fill="#424186"/><path d="M636.6 535.95l5.71-1.8-7.98-1.27-5.73 1.96z" fill="#424186"/><path d="M231.55 509.74l6.74-.74-7.2-2.53-6.73 .89z" fill="#3c4f8a"/><path d="M546.3 537.06l5.9-1.42-7.78-1.44-5.92 1.58z" fill="#424186"/><path d="M336.85 524.35l6.45-.84-7.37-2.07-6.45 1z" fill="#3f4889"/><path d="M140 492.49l6.98-.72-7.08-3.01-6.97 .89z" fill="#38598c"/><path d="M622.87 536.56l5.73-1.72-7.95-1.27-5.76 1.87z" fill="#414287"/><path d="M196.39 503.8l6.84-.71-7.15-2.69-6.83 .86z" fill="#3b528b"/><path d="M420.88 532.12l6.23-1-7.53-1.76-6.23 1.16z" fill="#404588"/><path d="M532.56 537.1l5.94-1.32-7.76-1.44-5.96 1.48z" fill="#414287"/><path d="M371.95 528.15l6.36-.87-7.43-1.91-6.37 1.03z" fill="#3f4788"/><path d="M469.82 535.08l6.1-1.11-7.63-1.6-6.11 1.27z" fill="#414487"/><path d="M609.13 537.06l5.76-1.62-7.92-1.27-5.79 1.78z" fill="#414287"/><path d="M83.48 479.68l7.14-.74-7.03-3.32-7.13 .9z" fill="#355f8d"/><path d="M161.18 497.31l6.93-.67-7.1-2.85-6.93 .83z" fill="#39568c"/><path d="M287.87 518.66l6.59-.71-7.29-2.22-6.59 .87z" fill="#3d4d8a"/><path d="M252.73 513.6l6.69-.67-7.23-2.38-6.69 .83z" fill="#3c4f8a"/><path d="M595.39 537.48l5.79-1.53-7.9-1.28-5.81 1.69z" fill="#414487"/><path d="M322.99 523.19l6.49-.75-7.35-2.07-6.49 .91z" fill="#3e4a89"/><path d="M518.81 537.06l5.97-1.24-7.73-1.44-5.99 1.4z" fill="#414487"/><path d="M104.69 485.11l7.08-.69-7.04-3.16-7.08 .84z" fill="#355e8d"/><path d="M217.57 508.01l6.79-.65-7.19-2.53-6.78 .8z" fill="#3b528b"/><path d="M407.08 531.42l6.27-.9-7.51-1.76-6.27 1.06z" fill="#404688"/><path d="M456.05 534.67l6.13-1.03-7.6-1.59-6.15 1.18z" fill="#404588"/><path d="M358.12 527.18l6.39-.78-7.41-1.92-6.4 .94z" fill="#3e4989"/><path d="M581.64 537.81l5.83-1.45-7.87-1.27-5.85 1.6z" fill="#414487"/><path d="M182.36 501.87l6.89-.61-7.14-2.69-6.88 .76z" fill="#39568c"/><path d="M125.89 490.27l7.04-.62-7.07-3.01-7.03 .79z" fill="#365c8d"/><path d="M505.05 536.92l6.01-1.14-7.71-1.44-6.02 1.3z" fill="#404588"/><path d="M273.94 517.21l6.64-.61-7.27-2.23-6.64 .78z" fill="#3c4f8a"/><path d="M567.89 538.04l5.86-1.35-7.85-1.28-5.87 1.51z" fill="#404588"/><path d="M442.26 534.16l6.17-.93-7.58-1.6-6.18 1.09z" fill="#3f4788"/><path d="M393.26 530.63l6.31-.81-7.48-1.75-6.32 .96z" fill="#3f4889"/><path d="M238.77 511.96l6.73-.58-7.21-2.38-6.74 .74z" fill="#3b528b"/><path d="M309.1 521.93l6.54-.65-7.33-2.07-6.54 .81z" fill="#3d4d8a"/><path d="M147.09 495.18l6.99-.56-7.1-2.85-6.98 .72z" fill="#375b8d"/><path d="M491.28 536.69l6.05-1.05-7.69-1.44-6.06 1.21z" fill="#404688"/><path d="M203.56 506.17l6.83-.54-7.16-2.54-6.84 .71z" fill="#39558c"/><path d="M344.25 526.11l6.45-.69-7.4-1.91-6.45 .84z" fill="#3e4c8a"/><path d="M554.14 538.18l5.89-1.26-7.83-1.28-5.9 1.42z" fill="#404688"/><path d="M90.51 482.69l7.14-.59-7.03-3.16-7.14 .74z" fill="#34618d"/><path d="M428.45 533.56l6.22-.84-7.56-1.6-6.23 1z" fill="#3f4889"/><path d="M168.29 499.84l6.94-.51-7.12-2.69-6.93 .67z" fill="#375a8c"/><path d="M630.88 537.51l5.72-1.56-8-1.11-5.73 1.72z" fill="#3f4788"/><path d="M379.42 529.75l6.35-.72-7.46-1.75-6.36 .87z" fill="#3e4a89"/><path d="M111.74 487.95l7.09-.52-7.06-3.01-7.08 .69z" fill="#34608d"/><path d="M477.49 536.37l6.09-.96-7.66-1.44-6.1 1.11z" fill="#3f4889"/><path d="M540.37 538.23l5.93-1.17-7.8-1.28-5.94 1.32z" fill="#3f4788"/><path d="M259.99 515.67l6.68-.52-7.25-2.22-6.69 .67z" fill="#3b528b"/><path d="M295.18 520.57l6.59-.55-7.31-2.07-6.59 .71z" fill="#3c508b"/><path d="M224.77 510.23l6.78-.49-7.19-2.38-6.79 .65z" fill="#39558c"/><path d="M617.12 538.02l5.75-1.46-7.98-1.12-5.76 1.62z" fill="#3f4788"/><path d="M330.37 524.94l6.48-.59-7.37-1.91-6.49 .75z" fill="#3d4e8a"/><path d="M132.96 492.96l7.04-.47-7.07-2.84-7.04 .62z" fill="#355e8d"/><path d="M414.63 532.86l6.25-.74-7.53-1.6-6.27 .9z" fill="#3e4a89"/><path d="M189.51 504.25l6.88-.45-7.14-2.54-6.89 .61z" fill="#38598c"/><path d="M526.6 538.18l5.96-1.08-7.78-1.28-5.97 1.24z" fill="#3f4889"/><path d="M603.35 538.44l5.78-1.38-7.95-1.11-5.79 1.53z" fill="#3f4889"/><path d="M463.7 535.95l6.12-.87-7.64-1.44-6.13 1.03z" fill="#3e4989"/><path d="M365.56 528.77l6.39-.62-7.44-1.75-6.39 .78z" fill="#3d4d8a"/><path d="M589.58 538.76l5.81-1.28-7.92-1.12-5.83 1.45z" fill="#3e4989"/><path d="M154.19 497.72l6.99-.41-7.1-2.69-6.99 .56z" fill="#365d8d"/><path d="M281.23 519.12l6.64-.46-7.29-2.06-6.64 .61z" fill="#3a538b"/><path d="M512.81 538.04l6-.98-7.75-1.28-6.01 1.14z" fill="#3e4989"/><path d="M246 514.03l6.73-.43-7.23-2.22-6.73 .58z" fill="#39558c"/><path d="M97.54 485.53l7.15-.42-7.04-3.01-7.14 .59z" fill="#33638d"/><path d="M316.45 523.68l6.54-.49-7.35-1.91-6.54 .65z" fill="#3b518b"/><path d="M400.79 532.07l6.29-.65-7.51-1.6-6.31 .81z" fill="#3d4d8a"/><path d="M449.88 535.44l6.17-.77-7.62-1.44-6.17 .93z" fill="#3e4c8a"/><path d="M210.74 508.39l6.83-.38-7.18-2.38-6.83 .54z" fill="#38598c"/><path d="M575.8 539l5.84-1.19-7.89-1.12-5.86 1.35z" fill="#3e4989"/><path d="M351.68 527.7l6.44-.52-7.42-1.76-6.45 .69z" fill="#3c508b"/><path d="M499.01 537.81l6.04-.89-7.72-1.28-6.05 1.05z" fill="#3e4a89"/><path d="M175.42 502.22l6.94-.35-7.13-2.54-6.94 .51z" fill="#365d8d"/><path d="M118.79 490.64l7.1-.37-7.06-2.84-7.09 .52z" fill="#33628d"/><path d="M562.02 539.14l5.87-1.1-7.86-1.12-5.89 1.26z" fill="#3e4a89"/><path d="M436.05 534.84l6.21-.68-7.59-1.44-6.22 .84z" fill="#3d4d8a"/><path d="M386.92 531.19l6.34-.56-7.49-1.6-6.35 .72z" fill="#3c4f8a"/><path d="M267.26 517.58l6.68-.37-7.27-2.06-6.68 .52z" fill="#39558c"/><path d="M231.98 512.29l6.79-.33-7.22-2.22-6.78 .49z" fill="#38598c"/><path d="M302.51 522.32l6.59-.39-7.33-1.91-6.59 .55z" fill="#3a538b"/><path d="M140.04 495.49l7.05-.31-7.09-2.69-7.04 .47z" fill="#34618d"/><path d="M485.2 537.49l6.08-.8-7.7-1.28-6.09 .96z" fill="#3d4d8a"/><path d="M548.23 539.19l5.91-1.01-7.84-1.12-5.93 1.17z" fill="#3e4c8a"/><path d="M196.67 506.46l6.89-.29-7.17-2.37-6.88 .45z" fill="#365c8d"/><path d="M337.77 526.53l6.48-.42-7.4-1.76-6.48 .59z" fill="#3b528b"/><path d="M625.16 538.82l5.72-1.31-8.01-.95-5.75 1.46z" fill="#3d4d8a"/><path d="M422.2 534.14l6.25-.58-7.57-1.44-6.25 .74z" fill="#3c4f8a"/><path d="M534.42 539.14l5.95-.91-7.81-1.13-5.96 1.08z" fill="#3d4d8a"/><path d="M161.3 500.09l6.99-.25-7.11-2.53-6.99 .41z" fill="#34608d"/><path d="M373.04 530.21l6.38-.46-7.47-1.6-6.39 .62z" fill="#3b518b"/><path d="M471.38 537.07l6.11-.7-7.67-1.29-6.12 .87z" fill="#3d4e8a"/><path d="M104.58 488.22l7.16-.27-7.05-2.84-7.15 .42z" fill="#31668e"/><path d="M611.36 539.24l5.76-1.22-7.99-.96-5.78 1.38z" fill="#3d4d8a"/><path d="M253.25 515.93l6.74-.26-7.26-2.07-6.73 .43z" fill="#38598c"/><path d="M288.55 520.87l6.63-.3-7.31-1.91-6.64 .46z" fill="#39568c"/><path d="M217.93 510.46l6.84-.23-7.2-2.22-6.83 .38z" fill="#365c8d"/><path d="M323.84 525.27l6.53-.33-7.38-1.75-6.54 .49z" fill="#39558c"/><path d="M597.56 539.56l5.79-1.12-7.96-.96-5.81 1.28z" fill="#3d4e8a"/><path d="M520.61 539.01l5.99-.83-7.79-1.12-6 .98z" fill="#3d4e8a"/><path d="M125.86 493.17l7.1-.21-7.07-2.69-7.1 .37z" fill="#32648e"/><path d="M408.34 533.35l6.29-.49-7.55-1.44-6.29 .65z" fill="#3b518b"/><path d="M457.54 536.56l6.16-.61-7.65-1.28-6.17 .77z" fill="#3c508b"/><path d="M182.57 504.44l6.94-.19-7.15-2.38-6.94 .35z" fill="#34608d"/><path d="M359.13 529.14l6.43-.37-7.44-1.59-6.44 .52z" fill="#3a548c"/><path d="M583.75 539.8l5.83-1.04-7.94-.95-5.84 1.19z" fill="#3c4f8a"/><path d="M506.79 538.78l6.02-.74-7.76-1.12-6.04 .89z" fill="#3c508b"/><path d="M147.14 497.87l7.05-.15-7.1-2.54-7.05 .31z" fill="#32648e"/><path d="M274.55 519.32l6.68-.2-7.29-1.91-6.68 .37z" fill="#375a8c"/><path d="M239.21 514.2l6.79-.17-7.23-2.07-6.79 .33z" fill="#365c8d"/><path d="M569.94 539.94l5.86-.94-7.91-.96-5.87 1.1z" fill="#3c508b"/><path d="M443.69 535.96l6.19-.52-7.62-1.28-6.21 .68z" fill="#3b528b"/><path d="M394.45 532.47l6.34-.4-7.53-1.44-6.34 .56z" fill="#3a538b"/><path d="M309.87 523.92l6.58-.24-7.35-1.75-6.59 .39z" fill="#38588c"/><path d="M203.84 508.52l6.9-.13-7.18-2.22-6.89 .29z" fill="#355f8d"/><path d="M492.95 538.45l6.06-.64-7.73-1.12-6.08 .8z" fill="#3b518b"/><path d="M345.2 527.97l6.48-.27-7.43-1.59-6.48 .42z" fill="#39568c"/><path d="M556.12 539.99l5.9-.85-7.88-.96-5.91 1.01z" fill="#3b518b"/><path d="M111.64 490.75l7.15-.11-7.05-2.69-7.16 .27z" fill="#31688e"/><path d="M168.43 502.31l6.99-.09-7.13-2.38-6.99 .25z" fill="#33638d"/><path d="M429.82 535.26l6.23-.42-7.6-1.28-6.25 .58z" fill="#3a538b"/><path d="M380.54 531.49l6.38-.3-7.5-1.44-6.38 .46z" fill="#39558c"/><path d="M260.53 517.68l6.73-.1-7.27-1.91-6.74 .26z" fill="#365d8d"/><path d="M479.1 538.03l6.1-.54-7.71-1.12-6.11 .7z" fill="#3a538b"/><path d="M542.29 539.94l5.94-.75-7.86-.96-5.95 .91z" fill="#3b528b"/><path d="M295.89 522.46l6.62-.14-7.33-1.75-6.63 .3z" fill="#375b8d"/><path d="M225.14 512.36l6.84-.07-7.21-2.06-6.84 .23z" fill="#355f8d"/><path d="M132.94 495.54l7.1-.05-7.08-2.53-7.1 .21z" fill="#31678e"/><path d="M619.42 539.87l5.74-1.05-8.04-.8-5.76 1.22z" fill="#3b528b"/><path d="M331.24 526.71l6.53-.18-7.4-1.59-6.53 .33z" fill="#38598c"/><path d="M189.72 506.49l6.95-.03-7.16-2.21-6.94 .19z" fill="#33638d"/><path d="M415.92 534.47l6.28-.33-7.57-1.28-6.29 .49z" fill="#39558c"/><path d="M528.45 539.81l5.97-.67-7.82-.96-5.99 .83z" fill="#3a538b"/><path d="M605.59 540.2l5.77-.96-8.01-.8-5.79 1.12z" fill="#3a538b"/><path d="M465.24 537.52l6.14-.45-7.68-1.12-6.16 .61z" fill="#3a548c"/><path d="M366.61 530.41l6.43-.2-7.48-1.44-6.43 .37z" fill="#38598c"/><path d="M154.25 500.08l7.05 .01-7.11-2.37-7.05 .15z" fill="#31668e"/><path d="M591.75 540.44l5.81-.88-7.98-.8-5.83 1.04z" fill="#3a548c"/><path d="M246.47 515.94l6.78-.01-7.25-1.9-6.79 .17z" fill="#34608d"/><path d="M281.87 520.91l6.68-.04-7.32-1.75-6.68 .2z" fill="#355e8d"/><path d="M514.6 539.58l6.01-.57-7.8-.97-6.02 .74z" fill="#3a548c"/><path d="M211.04 510.43l6.89 .03-7.19-2.07-6.9 .13z" fill="#33638d"/><path d="M317.26 525.35l6.58-.08-7.39-1.59-6.58 .24z" fill="#365c8d"/><path d="M402.01 533.59l6.33-.24-7.55-1.28-6.34 .4z" fill="#38588c"/><path d="M118.7 493.12l7.16 .05-7.07-2.53-7.15 .11z" fill="#2f6b8e"/><path d="M451.36 536.92l6.18-.36-7.66-1.12-6.19 .52z" fill="#39568c"/><path d="M577.91 540.58l5.84-.78-7.95-.8-5.86 .94z" fill="#39558c"/><path d="M175.56 504.37l7.01 .07-7.15-2.22-6.99 .09z" fill="#31668e"/><path d="M352.66 529.24l6.47-.1-7.45-1.44-6.48 .27z" fill="#375b8d"/><path d="M500.74 539.25l6.05-.47-7.78-.97-6.06 .64z" fill="#39568c"/><path d="M564.06 540.63l5.88-.69-7.92-.8-5.9 .85z" fill="#39568c"/><path d="M140.03 497.76l7.11 .11-7.1-2.38-7.1 .05z" fill="#306a8e"/><path d="M267.82 519.27l6.73 .05-7.29-1.74-6.73 .1z" fill="#34608d"/><path d="M232.38 514.1l6.83 .1-7.23-1.91-6.84 .07z" fill="#33638d"/><path d="M437.46 536.22l6.23-.26-7.64-1.12-6.23 .42z" fill="#38598c"/><path d="M388.08 532.6l6.37-.13-7.53-1.28-6.38 .3z" fill="#375b8d"/><path d="M303.25 523.89l6.62 .03-7.36-1.6-6.62 .14z" fill="#355f8d"/><path d="M196.9 508.39l6.94 .13-7.17-2.06-6.95 .03z" fill="#31668e"/><path d="M486.87 538.84l6.08-.39-7.75-.96-6.1 .54z" fill="#38588c"/><path d="M550.21 540.58l5.91-.59-7.89-.8-5.94 .75z" fill="#38588c"/><path d="M338.68 527.98l6.52-.01-7.43-1.44-6.53 .18z" fill="#365d8d"/><path d="M161.37 502.14l7.06 .17-7.13-2.22-7.05-.01z" fill="#306a8e"/><path d="M423.54 535.43l6.28-.17-7.62-1.12-6.28 .33z" fill="#375b8d"/><path d="M374.13 531.53l6.41-.04-7.5-1.28-6.43 .2z" fill="#365d8d"/><path d="M536.34 540.45l5.95-.51-7.87-.8-5.97 .67z" fill="#38598c"/><path d="M472.97 538.32l6.13-.29-7.72-.96-6.14 .45z" fill="#375a8c"/><path d="M613.66 540.68l5.76-.81-8.06-.63-5.77 .96z" fill="#38598c"/><path d="M253.74 517.53l6.79 .15-7.28-1.75-6.78 .01z" fill="#33638d"/><path d="M289.21 522.34l6.68 .12-7.34-1.59-6.68 .04z" fill="#34618d"/><path d="M218.25 512.17l6.89 .19-7.21-1.9-6.89-.03z" fill="#31668e"/><path d="M125.77 495.33l7.17 .21-7.08-2.37-7.16-.05z" fill="#2e6e8e"/><path d="M324.67 526.62l6.57 .09-7.4-1.44-6.58 .08z" fill="#34608d"/><path d="M599.8 540.91l5.79-.71-8.03-.64-5.81 .88z" fill="#375a8c"/><path d="M182.72 506.26l7 .23-7.15-2.05-7.01-.07z" fill="#30698e"/><path d="M522.46 540.22l5.99-.41-7.84-.8-6.01 .57z" fill="#375a8c"/><path d="M409.61 534.54l6.31-.07-7.58-1.12-6.33 .24z" fill="#365d8d"/><path d="M459.07 537.72l6.17-.2-7.7-.96-6.18 .36z" fill="#365c8d"/><path d="M360.15 530.36l6.46 .05-7.48-1.27-6.47 .1z" fill="#355f8d"/><path d="M585.93 541.05l5.82-.61-8-.64-5.84 .78z" fill="#375b8d"/><path d="M147.13 499.81l7.12 .27-7.11-2.21-7.11-.11z" fill="#2e6d8e"/><path d="M508.57 539.89l6.03-.31-7.81-.8-6.05 .47z" fill="#365c8d"/><path d="M239.63 515.69l6.84 .25-7.26-1.74-6.83-.1z" fill="#31668e"/><path d="M275.14 520.69l6.73 .22-7.32-1.59-6.73-.05z" fill="#32648e"/><path d="M204.09 510.13l6.95 .3-7.2-1.91-6.94-.13z" fill="#30698e"/><path d="M310.64 525.16l6.62 .19-7.39-1.43-6.62-.03z" fill="#33638d"/><path d="M572.05 541.1l5.86-.52-7.97-.64-5.88 .69z" fill="#375b8d"/><path d="M395.65 533.56l6.36 .03-7.56-1.12-6.37 .13z" fill="#355f8d"/><path d="M445.14 537.02l6.22-.1-7.67-.96-6.23 .26z" fill="#365d8d"/><path d="M168.5 504.03l7.06 .34-7.13-2.06-7.06-.17z" fill="#2e6d8e"/><path d="M346.14 529.09l6.52 .15-7.46-1.27-6.52 .01z" fill="#33628d"/><path d="M494.67 539.47l6.07-.22-7.79-.8-6.08 .39z" fill="#365d8d"/><path d="M558.16 541.06l5.9-.43-7.94-.64-5.91 .59z" fill="#365d8d"/><path d="M132.85 497.38l7.18 .38-7.09-2.22-7.17-.21z" fill="#2d718e"/><path d="M431.2 536.23l6.26-.01-7.64-.96-6.28 .17z" fill="#355f8d"/><path d="M261.04 518.95l6.78 .32-7.29-1.59-6.79-.15z" fill="#31678e"/><path d="M381.67 532.48l6.41 .12-7.54-1.11-6.41 .04z" fill="#34618d"/><path d="M225.48 513.75l6.9 .35-7.24-1.74-6.89-.19z" fill="#306a8e"/><path d="M296.58 523.61l6.67 .28-7.36-1.43-6.68-.12z" fill="#32658e"/><path d="M544.27 540.92l5.94-.34-7.92-.64-5.95 .51z" fill="#355e8d"/><path d="M480.75 538.96l6.12-.12-7.77-.81-6.13 .29z" fill="#355f8d"/><path d="M189.89 508l7.01 .39-7.18-1.9-7-.23z" fill="#2e6d8e"/><path d="M332.11 527.73l6.57 .25-7.44-1.27-6.57-.09z" fill="#32648e"/><path d="M154.25 501.7l7.12 .44-7.12-2.06-7.12-.27z" fill="#2d708e"/><path d="M607.89 541.22l5.77-.54-8.07-.48-5.79 .71z" fill="#355f8d"/><path d="M417.24 535.34l6.3 .09-7.62-.96-6.31 .07z" fill="#34618d"/><path d="M530.36 540.69l5.98-.24-7.89-.64-5.99 .41z" fill="#355f8d"/><path d="M466.81 538.36l6.16-.04-7.73-.8-6.17 .2z" fill="#34608d"/><path d="M367.67 531.31l6.46 .22-7.52-1.12-6.46-.05z" fill="#32648e"/><path d="M246.91 517.11l6.83 .42-7.27-1.59-6.84-.25z" fill="#306a8e"/><path d="M282.48 521.96l6.73 .38-7.34-1.43-6.73-.22z" fill="#31688e"/><path d="M211.3 511.71l6.95 .46-7.21-1.74-6.95-.3z" fill="#2e6d8e"/><path d="M593.99 541.37l5.81-.46-8.05-.47-5.82 .61z" fill="#34608d"/><path d="M519.46 540.32l3-.1-7.86-.64-6.03 .31z" fill="#34608d"/><path d="M318.06 526.27l6.61 .35-7.41-1.27-6.62-.19z" fill="#31678e"/><path d="M175.66 505.77l7.06 .49-7.16-1.89-7.06-.34z" fill="#2d708e"/><path d="M409.61 534.54l-7.6-.95-6.36-.03 3.8 .42z" fill="#32648e"/><path d="M459.07 537.72l-7.71-.8-6.22 .1 3.86 .34z" fill="#33628d"/><path d="M580.09 541.42l5.84-.37-8.02-.47-5.86 .52z" fill="#34618d"/><path d="M360.15 530.36l-7.49-1.12-6.52-.15 3.75 .5z" fill="#31668e"/><path d="M139.95 499.27l7.18 .54-7.1-2.05-7.18-.38z" fill="#2c738e"/><path d="M508.57 539.89l-7.83-.64-6.07 .22 3.91 .26z" fill="#33628d"/><path d="M569.11 541.27l2.94-.17-7.99-.47-5.9 .43z" fill="#33628d"/><path d="M232.74 515.17l6.89 .52-7.25-1.59-6.9-.35z" fill="#2e6e8e"/><path d="M268.36 520.21l6.78 .48-7.32-1.42-6.78-.32z" fill="#2f6b8e"/><path d="M197.08 509.58l7.01 .55-7.19-1.74-7.01-.39z" fill="#2d708e"/><path d="M445.14 537.02l-7.68-.8-6.26 .01 3.84 .33z" fill="#32648e"/><path d="M307.31 524.97l3.33 .19-7.39-1.27-6.67-.28z" fill="#306a8e"/><path d="M395.65 533.56l-7.57-.96-6.41-.12 3.78 .42z" fill="#31668e"/><path d="M494.67 539.47l-7.8-.63-6.12 .12 3.9 .26z" fill="#32648e"/><path d="M161.38 503.43l7.12 .6-7.13-1.89-7.12-.44z" fill="#2c738e"/><path d="M558.16 541.06l-7.95-.48-5.94 .34 3.98 .18z" fill="#33638d"/><path d="M346.14 529.09l-7.46-1.11-6.57-.25 3.73 .49z" fill="#30698e"/><path d="M431.2 536.23l-7.66-.8-6.3-.09 3.83 .33z" fill="#31668e"/><path d="M381.67 532.48l-7.54-.95-6.46-.22 3.77 .42z" fill="#31688e"/><path d="M254.2 518.37l6.84 .58-7.3-1.42-6.83-.42z" fill="#2e6e8e"/><path d="M544.27 540.92l-7.93-.47-5.98 .24 3.97 .18z" fill="#32648e"/><path d="M218.53 513.13l6.95 .62-7.23-1.58-6.95-.46z" fill="#2d718e"/><path d="M480.75 538.96l-7.78-.64-6.16 .04 3.89 .25z" fill="#32658e"/><path d="M296.58 523.61l-7.37-1.27-6.73-.38 3.69 .57z" fill="#2f6c8e"/><path d="M182.83 507.34l7.06 .66-7.17-1.74-7.06-.49z" fill="#2c738e"/><path d="M332.11 527.73l-7.44-1.11-6.61-.35 3.72 .5z" fill="#2f6b8e"/><path d="M607.89 541.22l-8.09-.31-5.81 .46 4.05 .09z" fill="#32658e"/><path d="M530.36 540.69l-7.9-.47-6.02 .15 3.96 .17z" fill="#31668e"/><path d="M147.06 501l7.19 .7-7.12-1.89-7.18-.54z" fill="#2a778e"/><path d="M417.24 535.34l-7.63-.8-6.36-.19 3.82 .34z" fill="#31688e"/><path d="M466.81 538.36l-7.74-.64-6.21-.06 3.88 .25z" fill="#31678e"/><path d="M367.67 531.31l-7.52-.95-6.51-.32 3.76 .42z" fill="#2f6b8e"/><path d="M593.99 541.37l-8.06-.32-5.84 .37 4.03 .09z" fill="#31668e"/><path d="M246.91 517.11l-7.28-1.42-6.89-.52 3.63 .65z" fill="#2c718e"/><path d="M282.48 521.96l-7.34-1.27-6.78-.48 3.67 .57z" fill="#2e6f8e"/><path d="M204.29 510.99l7.01 .72-7.21-1.58-7.01-.55z" fill="#2c738e"/><path d="M516.44 540.37l-7.87-.48-6.06 .06 3.94 .17z" fill="#31678e"/><path d="M318.06 526.27l-7.42-1.11-6.67-.44 3.71 .49z" fill="#2e6e8e"/><path d="M580.09 541.42l-8.04-.32-5.88 .27 4.02 .1z" fill="#31678e"/><path d="M168.53 505.01l7.13 .76-7.16-1.74-7.12-.6z" fill="#2a778e"/><path d="M403.25 534.35l-7.6-.79-6.4-.28 3.8 .33z" fill="#2f6b8e"/><path d="M452.86 537.66l-7.72-.64-6.25-.16 3.86 .26z" fill="#30698e"/><path d="M353.64 530.04l-7.5-.95-6.56-.41 3.75 .41z" fill="#2e6d8e"/><path d="M502.51 539.95l-7.84-.48-6.11-.03 3.93 .17z" fill="#30698e"/><path d="M566.17 541.37l-8.01-.31-5.92 .17 4.01 .1z" fill="#31688e"/><path d="M232.74 515.17l-7.26-1.42-6.95-.62 3.63 .65z" fill="#2b748e"/><path d="M268.36 520.21l-7.32-1.26-6.84-.58 3.66 .57z" fill="#2c728e"/><path d="M435.04 536.56l-6.98-.43-3.16-.16 3.85 .26z" fill="#2f6b8e"/><path d="M385.45 532.9l-7-.57-3.23-.23 3.79 .33z" fill="#2e6d8e"/><path d="M197.08 509.58l-7.19-1.58-7.06-.66 3.59 .73z" fill="#2a778e"/><path d="M303.97 524.72l-7.39-1.11-6.73-.55 3.7 .49z" fill="#2d718e"/><path d="M552.24 541.23l-7.97-.31-5.96 .08 3.99 .1z" fill="#306a8e"/><path d="M484.65 539.22l-6.97-.29-3.08-.1 3.91 .17z" fill="#306a8e"/><path d="M154.19 502.57l7.19 .86-7.13-1.73-7.19-.7z" fill="#297a8e"/><path d="M335.84 528.22l-7.03-.71-3.31-.29 3.74 .41z" fill="#2d708e"/><path d="M421.07 535.67l-7-.48-3.18-.2 3.84 .25z" fill="#2e6d8e"/><path d="M534.33 540.87l-6.97-.15-3-.04 3.97 .09z" fill="#2f6b8e"/><path d="M371.44 531.73l-7.02-.63-3.26-.27 3.78 .33z" fill="#2e6f8e"/><path d="M470.7 538.61l-6.98-.34-3.1-.14 3.9 .17z" fill="#2f6c8e"/><path d="M254.2 518.37l-7.29-1.26-6.9-.69 3.65 .57z" fill="#2b758e"/><path d="M218.53 513.13l-7.23-1.42-7.01-.72 3.62 .65z" fill="#2a778e"/><path d="M289.85 523.06l-7.37-1.1-6.77-.65 3.68 .49z" fill="#2c738e"/><path d="M602.11 541.51l-8.12-.14-5.82 .19 4.06 .01z" fill="#2f6b8e"/><path d="M182.83 507.34l-7.17-1.57-7.13-.76 3.58 .72z" fill="#297a8e"/><path d="M321.78 526.77l-7.05-.77-3.34-.34 3.72 .41z" fill="#2c728e"/><path d="M520.4 540.54l-6.98-.19-3.02-.09 3.96 .09z" fill="#2f6c8e"/><path d="M403.25 534.35l-3.19-.19-3.2-.26 3.82 .26z" fill="#2e6f8e"/><path d="M452.86 537.66l-3.11-.13-3.13-.2 3.89 .17z" fill="#2e6e8e"/><path d="M584.12 541.51l-6.96-.01-2.94 .02 4.05 .01z" fill="#2e6d8e"/><path d="M353.64 530.04l-3.27-.25-3.29-.33 3.77 .34z" fill="#2c718e"/><path d="M502.51 539.95l-3.04-.07-3.05-.13 3.95 .09z" fill="#2e6e8e"/><path d="M240.01 516.42l-7.27-1.25-6.95-.79 3.63 .57z" fill="#2a788e"/><path d="M272.03 520.78l-7.08-.91-3.42-.4 3.67 .48z" fill="#2a768e"/><path d="M204.29 510.99l-7.21-1.41-7.06-.83 3.6 .65z" fill="#297b8e"/><path d="M570.19 541.47l-6.97-.06-2.95-.03 4.03 .01z" fill="#2e6e8e"/><path d="M303.97 524.72l-3.35-.33-3.37-.39 3.71 .41z" fill="#2b748e"/><path d="M440.35 536.74l6.27 .59-14.01-.89 3.86 .17z" fill="#2d708e"/><path d="M389.25 533.28l-3.22-.25-3.23-.3 3.81 .25z" fill="#2c718e"/><path d="M168.53 505.01l-7.15-1.58-7.19-.86 3.57 .72z" fill="#277e8e"/><path d="M490.3 539.28l6.12 .47-13.99-.61 3.93 .09z" fill="#2d708e"/><path d="M339.58 528.68l-3.29-.31-3.31-.37 3.75 .33z" fill="#2b748e"/><path d="M552.24 541.23l-2.97-.01-2.97-.07 4.01 .01z" fill="#2e6f8e"/><path d="M426.28 535.75l6.33 .69-14.04-.99 3.85 .17z" fill="#2c718e"/><path d="M257.86 518.94l-7.09-.96-3.46-.46 3.66 .49z" fill="#29798e"/><path d="M222.16 513.78l-7.12-1.06-3.51-.48 3.62 .57z" fill="#297b8e"/><path d="M376.32 531.91l6.48 .82-14.08-1.28 3.8 .25z" fill="#2c738e"/><path d="M540.33 540.8l5.97 .35-13.98-.33 4 .01z" fill="#2d708e"/><path d="M289.85 523.06l-3.38-.37-3.39-.44 3.7 .41z" fill="#2a778e"/><path d="M190.02 508.75l-7.19-1.41-7.13-.93 3.59 .65z" fill="#277e8e"/><path d="M476.26 538.57l6.17 .57-14.01-.71 3.92 .09z" fill="#2c718e"/><path d="M326.32 527.05l6.66 .95-14.14-1.56 3.74 .33z" fill="#2a768e"/><path d="M526.31 540.38l6.01 .44-13.99-.42 3.98 .01z" fill="#2c718e"/><path d="M412.2 534.67l6.37 .78-14.06-1.08 3.84 .17z" fill="#2b748e"/><path d="M462.21 537.77l6.21 .66-14.02-.79 3.9 .09z" fill="#2c738e"/><path d="M362.19 530.54l6.53 .91-14.1-1.36 3.78 .24z" fill="#2a768e"/><path d="M590.48 541.31l5.82 .23-13.98-.04 4.07-.07z" fill="#2c718e"/><path d="M240.01 516.42l-3.46-.44-3.49-.51 3.65 .49z" fill="#287c8e"/><path d="M207.91 511.64l-7.14-1.11-3.55-.53 3.62 .56z" fill="#277f8e"/><path d="M276.25 521.17l6.83 1.08-14.2-1.85 3.68 .41z" fill="#297b8e"/><path d="M512.27 539.87l6.06 .53-14.01-.51 3.97 .01z" fill="#2c738e"/><path d="M175.7 506.41l-7.17-1.4-7.19-1.04 3.58 .64z" fill="#26828e"/><path d="M312.13 525.39l6.71 1.05-14.16-1.66 3.72 .33z" fill="#29798e"/><path d="M576.46 541.17l5.86 .33-13.98-.14 4.05-.07z" fill="#2c728e"/><path d="M398.08 533.48l6.43 .89-10.86-.79-3.22-.39z" fill="#2a768e"/><path d="M448.13 536.88l6.27 .76-10.91-.57-3.14-.33z" fill="#2b758e"/><path d="M348.03 529.07l6.59 1.02-14.13-1.47 3.76 .25z" fill="#29798e"/><path d="M498.22 539.25l6.1 .64-10.95-.34-3.07-.27z" fill="#2b748e"/><path d="M562.43 540.94l5.91 .42-14-.23 4.04-.07z" fill="#2b748e"/><path d="M225.79 514.38l-3.5-.49-3.51-.56 3.63 .48z" fill="#27808e"/><path d="M261.99 519.22l6.89 1.18-14.24-1.95 3.67 .4z" fill="#277e8e"/><path d="M190.02 508.75l-3.56-.51-3.58-.58 3.61 .56z" fill="#26828e"/><path d="M434.04 535.89l6.31 .85-7.74-.3-6.33-.69z" fill="#2a778e"/><path d="M297.91 523.63l6.77 1.15-14.2-1.75 3.71 .32z" fill="#287c8e"/><path d="M383.95 532.21l6.48 .98-7.63-.46-6.48-.82z" fill="#2a788e"/><path d="M548.39 540.61l5.95 .52-11.02-.12-2.99-.21z" fill="#2b758e"/><path d="M484.15 538.55l6.15 .73-7.87-.14-6.17-.57z" fill="#2a768e"/><path d="M333.84 527.5l6.65 1.12-10.83-1.06-3.34-.51z" fill="#297b8e"/><path d="M419.92 534.8l6.36 .95-7.71-.3-6.37-.78z" fill="#29798e"/><path d="M534.33 540.19l6 .61-8.01 .02-6.01-.44z" fill="#2a778e"/><path d="M247.69 517.16l6.95 1.29-14.28-2.05 3.66 .4z" fill="#26818e"/><path d="M211.71 512l7.07 1.33-14.33-2.25 3.63 .48z" fill="#26828e"/><path d="M369.79 530.83l6.53 1.08-7.6-.46-6.53-.91z" fill="#297b8e"/><path d="M470.06 537.74l6.2 .83-7.84-.14-6.21-.66z" fill="#2a788e"/><path d="M283.65 521.77l6.83 1.26-10.81-1.29-3.42-.57z" fill="#277f8e"/><path d="M175.7 506.41l-3.59-.56-3.61-.64 3.59 .56z" fill="#25858e"/><path d="M319.62 525.84l6.7 1.21-7.48-.61-6.71-1.05z" fill="#277e8e"/><path d="M520.26 539.67l6.05 .71-7.98 .02-6.06-.53z" fill="#2a788e"/><path d="M405.78 533.61l6.42 1.06-7.69-.3-6.43-.89z" fill="#297b8e"/><path d="M584.63 540.82l5.85 .49-8.16 .19-5.86-.33z" fill="#2a788e"/><path d="M455.96 536.85l6.25 .92-7.81-.13-6.27-.76z" fill="#297a8e"/><path d="M355.6 529.36l6.59 1.18-7.57-.45-6.59-1.02z" fill="#277e8e"/><path d="M233.35 515.01l7.01 1.39-14.31-2.15 3.65 .4z" fill="#25838e"/><path d="M197.32 509.65l7.13 1.43-14.36-2.34 3.61 .48z" fill="#24868e"/><path d="M269.37 519.82l6.88 1.35-7.37-.77-6.89-1.18z" fill="#26828e"/><path d="M506.18 539.06l6.09 .81-7.95 .02-6.1-.64z" fill="#297a8e"/><path d="M570.57 540.58l5.89 .59-8.12 .19-5.91-.42z" fill="#297a8e"/><path d="M305.37 524.08l6.76 1.31-7.45-.61-6.77-1.15z" fill="#26818e"/><path d="M391.62 532.33l6.46 1.15-7.65-.29-6.48-.98z" fill="#277e8e"/><path d="M441.83 535.85l6.3 1.03-7.78-.14-6.31-.85z" fill="#287c8e"/><path d="M341.38 527.79l6.65 1.28-7.54-.45-6.65-1.12z" fill="#27808e"/><path d="M492.08 538.35l6.14 .9-7.92 .03-6.15-.73z" fill="#287c8e"/><path d="M556.49 540.26l5.94 .68-8.09 .19-5.95-.52z" fill="#297b8e"/><path d="M218.98 512.76l7.07 1.49-7.27-.92-7.07-1.33z" fill="#24878e"/><path d="M255.04 517.76l6.95 1.46-7.35-.77-6.95-1.29z" fill="#25858e"/><path d="M182.89 507.2l7.2 1.54-14.4-2.45 3.6 .48z" fill="#238a8d"/><path d="M427.69 534.76l6.35 1.13-7.76-.14-6.36-.95z" fill="#277e8e"/><path d="M377.43 530.95l6.52 1.26-7.63-.3-6.53-1.08z" fill="#27808e"/><path d="M291.09 522.21l6.82 1.42-7.43-.6-6.83-1.26z" fill="#25838e"/><path d="M542.41 539.83l5.98 .78-8.06 .19-6-.61z" fill="#287d8e"/><path d="M477.96 537.55l6.19 1-7.89 .02-6.2-.83z" fill="#277e8e"/><path d="M327.14 526.12l6.7 1.38-7.52-.45-6.7-1.21z" fill="#26828e"/><path d="M528.31 539.31l6.02 .88-8.02 .19-6.05-.71z" fill="#277e8e"/><path d="M413.52 533.57l6.4 1.23-7.72-.13-6.42-1.06z" fill="#26818e"/><path d="M463.83 536.65l6.23 1.09-7.85 .03-6.25-.92z" fill="#27808e"/><path d="M363.21 529.48l6.58 1.35-7.6-.29-6.59-1.18z" fill="#26828e"/><path d="M240.68 515.6l7.01 1.56-7.33-.76-7.01-1.39z" fill="#23888e"/><path d="M204.57 510.4l7.14 1.6-7.26-.92-7.13-1.43z" fill="#228b8d"/><path d="M276.77 520.25l6.88 1.52-7.4-.6-6.88-1.35z" fill="#24868e"/><path d="M514.19 538.7l6.07 .97-7.99 .2-6.09-.81z" fill="#27808e"/><path d="M312.86 524.35l6.76 1.49-7.49-.45-6.76-1.31z" fill="#25858e"/><path d="M578.76 540.06l5.87 .76-8.17 .35-5.89-.59z" fill="#27808e"/><path d="M399.32 532.29l6.46 1.32-7.7-.13-6.46-1.15z" fill="#26828e"/><path d="M449.67 535.65l6.29 1.2-7.83 .03-6.3-1.03z" fill="#26828e"/><path d="M348.96 527.9l6.64 1.46-7.57-.29-6.65-1.28z" fill="#25858e"/><path d="M500.06 537.99l6.12 1.07-7.96 .19-6.14-.9z" fill="#26828e"/><path d="M226.28 513.34l7.07 1.67-7.3-.76-7.07-1.49z" fill="#228c8d"/><path d="M564.65 539.73l5.92 .85-8.14 .36-5.94-.68z" fill="#26818e"/><path d="M190.12 507.95l7.2 1.7-7.23-.91-7.2-1.54z" fill="#218e8d"/><path d="M262.42 518.19l6.95 1.63-7.38-.6-6.95-1.46z" fill="#238a8d"/><path d="M298.55 522.48l6.82 1.6-7.46-.45-6.82-1.42z" fill="#23888e"/><path d="M435.49 534.56l6.34 1.29-7.79 .04-6.35-1.13z" fill="#25838e"/><path d="M385.1 530.91l6.52 1.42-7.67-.12-6.52-1.26z" fill="#25858e"/><path d="M550.53 539.3l5.96 .96-8.1 .35-5.98-.78z" fill="#26828e"/><path d="M485.91 537.18l6.17 1.17-7.93 .2-6.19-1z" fill="#25838e"/><path d="M334.69 526.23l6.69 1.56-7.54-.29-6.7-1.38z" fill="#23888e"/><path d="M211.85 510.99l7.13 1.77-7.27-.76-7.14-1.6z" fill="#218f8d"/><path d="M248.03 516.03l7.01 1.73-7.35-.6-7.01-1.56z" fill="#228d8d"/><path d="M421.29 533.36l6.4 1.4-7.77 .04-6.4-1.23z" fill="#24868e"/><path d="M536.4 538.78l6.01 1.05-8.08 .36-6.02-.88z" fill="#25838e"/><path d="M370.86 529.43l6.57 1.52-7.64-.12-6.58-1.35z" fill="#24878e"/><path d="M284.21 520.52l6.88 1.69-7.44-.44-6.88-1.52z" fill="#228c8d"/><path d="M471.74 536.28l6.22 1.27-7.9 .19-6.23-1.09z" fill="#25858e"/><path d="M320.38 524.46l6.76 1.66-7.52-.28-6.76-1.49z" fill="#228b8d"/><path d="M522.25 538.16l6.06 1.15-8.05 .36-6.07-.97z" fill="#25858e"/><path d="M407.07 532.08l6.45 1.49-7.74 .04-6.46-1.32z" fill="#23888e"/><path d="M457.55 535.28l6.28 1.37-7.87 .2-6.29-1.2z" fill="#24878e"/><path d="M356.58 527.85l6.63 1.63-7.61-.12-6.64-1.46z" fill="#238a8d"/><path d="M233.61 513.76l7.07 1.84-7.33-.59-7.07-1.67z" fill="#21918c"/><path d="M197.37 508.52l7.2 1.88-7.25-.75-7.2-1.7z" fill="#20928c"/><path d="M269.83 518.45l6.94 1.8-7.4-.43-6.95-1.63z" fill="#218f8d"/><path d="M508.09 537.45l6.1 1.25-8.01 .36-6.12-1.07z" fill="#24878e"/><path d="M572.87 539.02l5.89 1.04-8.19 .52-5.92-.85z" fill="#24868e"/><path d="M306.05 522.59l6.81 1.76-7.49-.27-6.82-1.6z" fill="#218e8d"/><path d="M392.82 530.69l6.5 1.6-7.7 .04-6.52-1.42z" fill="#228b8d"/><path d="M443.35 534.18l6.32 1.47-7.84 .2-6.34-1.29z" fill="#23898e"/><path d="M342.28 526.17l6.68 1.73-7.58-.11-6.69-1.56z" fill="#228d8d"/><path d="M493.91 536.64l6.15 1.35-7.98 .36-6.17-1.17z" fill="#23898e"/><path d="M558.71 538.6l5.94 1.13-8.16 .53-5.96-.96z" fill="#23888e"/><path d="M219.15 511.4l7.13 1.94-7.3-.58-7.13-1.77z" fill="#20938c"/><path d="M255.42 516.28l7 1.91-7.38-.43-7.01-1.73z" fill="#20928c"/><path d="M429.11 532.98l6.38 1.58-7.8 .2-6.4-1.4z" fill="#228b8d"/><path d="M291.68 520.61l6.87 1.87-7.46-.27-6.88-1.69z" fill="#21918c"/><path d="M378.54 529.2l6.56 1.71-7.67 .04-6.57-1.52z" fill="#228d8d"/><path d="M544.55 538.07l5.98 1.23-8.12 .53-6.01-1.05z" fill="#23898e"/><path d="M479.7 535.73l6.21 1.45-7.95 .37-6.22-1.27z" fill="#228b8d"/><path d="M327.94 524.39l6.75 1.84-7.55-.11-6.76-1.66z" fill="#21908d"/><path d="M530.36 537.46l6.04 1.32-8.09 .53-6.06-1.15z" fill="#228b8d"/><path d="M414.86 531.69l6.43 1.67-7.77 .21-6.45-1.49z" fill="#218e8d"/><path d="M204.64 508.93l7.21 2.06-7.28-.59-7.2-1.88z" fill="#1f978b"/><path d="M240.97 514.01l7.06 2.02-7.35-.43-7.07-1.84z" fill="#1f958b"/><path d="M364.24 527.62l6.62 1.81-7.65 .05-6.63-1.63z" fill="#21908d"/><path d="M465.48 534.73l6.26 1.55-7.91 .37-6.28-1.37z" fill="#228d8d"/><path d="M277.27 518.54l6.94 1.98-7.44-.27-6.94-1.8z" fill="#20938c"/><path d="M313.58 522.52l6.8 1.94-7.52-.11-6.81-1.76z" fill="#20928c"/><path d="M516.16 536.74l6.09 1.42-8.06 .54-6.1-1.25z" fill="#228d8d"/><path d="M400.58 530.3l6.49 1.78-7.75 .21-6.5-1.6z" fill="#21908d"/><path d="M451.24 533.63l6.31 1.65-7.88 .37-6.32-1.47z" fill="#218f8d"/><path d="M349.9 525.94l6.68 1.91-7.62 .05-6.68-1.73z" fill="#20928c"/><path d="M226.47 511.64l7.14 2.12-7.33-.42-7.13-1.94z" fill="#1f988b"/><path d="M501.95 535.93l6.14 1.52-8.03 .54-6.15-1.35z" fill="#218f8d"/><path d="M262.83 516.37l7 2.08-7.41-.26-7-1.91z" fill="#1f978b"/><path d="M566.95 537.72l5.92 1.3-8.22 .71-5.94-1.13z" fill="#218e8d"/><path d="M299.18 520.54l6.87 2.05-7.5-.11-6.87-1.87z" fill="#1f958b"/><path d="M436.98 532.43l6.37 1.75-7.86 .38-6.38-1.58z" fill="#21918c"/><path d="M386.27 528.81l6.55 1.88-7.72 .22-6.56-1.71z" fill="#20928c"/><path d="M552.74 537.2l5.97 1.4-8.18 .7-5.98-1.23z" fill="#21908d"/><path d="M487.71 535.02l6.2 1.62-8 .54-6.21-1.45z" fill="#21918c"/><path d="M335.54 524.16l6.74 2.01-7.59 .06-6.75-1.84z" fill="#1f958b"/><path d="M211.94 509.17l7.21 2.23-7.3-.41-7.21-2.06z" fill="#1e9c89"/><path d="M248.35 514.1l7.07 2.18-7.39-.25-7.06-2.02z" fill="#1f9a8a"/><path d="M422.69 531.13l6.42 1.85-7.82 .38-6.43-1.67z" fill="#20938c"/><path d="M538.53 536.57l6.02 1.5-8.15 .71-6.04-1.32z" fill="#20928c"/><path d="M284.74 518.46l6.94 2.15-7.47-.09-6.94-1.98z" fill="#1f998a"/><path d="M371.93 527.22l6.61 1.98-7.68 .23-6.62-1.81z" fill="#1f958b"/><path d="M473.46 534.01l6.24 1.72-7.96 .55-6.26-1.55z" fill="#20928c"/><path d="M321.14 522.28l6.8 2.11-7.56 .07-6.8-1.94z" fill="#1f988b"/><path d="M524.29 535.86l6.07 1.6-8.11 .7-6.09-1.42z" fill="#20928c"/><path d="M408.37 529.74l6.49 1.95-7.79 .39-6.49-1.78z" fill="#1f958b"/><path d="M459.18 532.91l6.3 1.82-7.93 .55-6.31-1.65z" fill="#1f948c"/><path d="M233.83 511.72l7.14 2.29-7.36-.25-7.14-2.12z" fill="#1f9e89"/><path d="M357.57 525.54l6.67 2.08-7.66 .23-6.68-1.91z" fill="#1f988b"/><path d="M270.27 516.28l7 2.26-7.44-.09-7-2.08z" fill="#1e9c89"/><path d="M510.04 535.04l6.12 1.7-8.07 .71-6.14-1.52z" fill="#1f948c"/><path d="M306.71 520.29l6.87 2.23-7.53 .07-6.87-2.05z" fill="#1e9b8a"/><path d="M394.03 528.25l6.55 2.05-7.76 .39-6.55-1.88z" fill="#1f988b"/><path d="M444.89 531.7l6.35 1.93-7.89 .55-6.37-1.75z" fill="#1f978b"/><path d="M343.17 523.75l6.73 2.19-7.62 .23-6.74-2.01z" fill="#1e9b8a"/><path d="M561 536.14l5.95 1.58-8.24 .88-5.97-1.4z" fill="#1f968b"/><path d="M495.77 534.13l6.18 1.8-8.04 .71-6.2-1.62z" fill="#1f968b"/><path d="M219.27 509.24l7.2 2.4-7.32-.24-7.21-2.23z" fill="#1fa188"/><path d="M255.76 514l7.07 2.37-7.41-.09-7.07-2.18z" fill="#1fa088"/><path d="M292.25 518.21l6.93 2.33-7.5 .07-6.94-2.15z" fill="#1f9e89"/><path d="M430.56 530.4l6.42 2.03-7.87 .55-6.42-1.85z" fill="#1f998a"/><path d="M379.67 526.65l6.6 2.16-7.73 .39-6.61-1.98z" fill="#1e9b8a"/><path d="M546.74 535.52l6 1.68-8.19 .87-6.02-1.5z" fill="#1f978b"/><path d="M481.48 533.12l6.23 1.9-8.01 .71-6.24-1.72z" fill="#1f998a"/><path d="M328.74 521.86l6.8 2.3-7.6 .23-6.8-2.11z" fill="#1f9e89"/><path d="M241.22 511.62l7.13 2.48-7.38-.09-7.14-2.29z" fill="#1fa287"/><path d="M532.48 534.8l6.05 1.77-8.17 .89-6.07-1.6z" fill="#1f998a"/><path d="M416.22 529l6.47 2.13-7.83 .56-6.49-1.95z" fill="#1e9c89"/><path d="M365.27 524.96l6.66 2.26-7.69 .4-6.67-2.08z" fill="#1f9e89"/><path d="M277.75 516.03l6.99 2.43-7.47 .08-7-2.26z" fill="#1fa187"/><path d="M467.18 532.01l6.28 2-7.98 .72-6.3-1.82z" fill="#1e9b8a"/><path d="M314.28 519.88l6.86 2.4-7.56 .24-6.87-2.23z" fill="#1fa188"/><path d="M518.19 533.98l6.1 1.88-8.13 .88-6.12-1.7z" fill="#1e9b8a"/><path d="M401.85 527.51l6.52 2.23-7.79 .56-6.55-2.05z" fill="#1f9e89"/><path d="M452.84 530.8l6.34 2.11-7.94 .72-6.35-1.93z" fill="#1e9d89"/><path d="M226.63 509.14l7.2 2.58-7.36-.08-7.2-2.4z" fill="#21a685"/><path d="M350.84 523.17l6.73 2.37-7.67 .4-6.73-2.19z" fill="#1fa188"/><path d="M263.21 513.74l7.06 2.54-7.44 .09-7.07-2.37z" fill="#20a486"/><path d="M503.89 533.06l6.15 1.98-8.09 .89-6.18-1.8z" fill="#1e9d89"/><path d="M299.79 517.79l6.92 2.5-7.53 .25-6.93-2.33z" fill="#20a386"/><path d="M387.44 525.91l6.59 2.34-7.76 .56-6.6-2.16z" fill="#1fa188"/><path d="M438.49 529.5l6.4 2.2-7.91 .73-6.42-2.03z" fill="#1fa088"/><path d="M555.02 534.28l5.98 1.86-8.26 1.06-6-1.68z" fill="#1f9e89"/><path d="M336.38 521.28l6.79 2.47-7.63 .41-6.8-2.3z" fill="#20a386"/><path d="M489.56 532.05l6.21 2.08-8.06 .89-6.23-1.9z" fill="#1f9f88"/><path d="M248.63 511.35l7.13 2.65-7.41 .1-7.13-2.48z" fill="#22a884"/><path d="M424.11 528.09l6.45 2.31-7.87 .73-6.47-2.13z" fill="#1fa187"/><path d="M285.26 515.6l6.99 2.61-7.51 .25-6.99-2.43z" fill="#22a785"/><path d="M540.71 533.56l6.03 1.96-8.21 1.05-6.05-1.77z" fill="#1fa088"/><path d="M373.01 524.21l6.66 2.44-7.74 .57-6.66-2.26z" fill="#20a386"/><path d="M475.22 530.93l6.26 2.19-8.02 .89-6.28-2z" fill="#1fa188"/><path d="M321.89 519.28l6.85 2.58-7.6 .42-6.86-2.4z" fill="#21a685"/><path d="M526.39 532.74l6.09 2.06-8.19 1.06-6.1-1.88z" fill="#1fa187"/><path d="M409.7 526.59l6.52 2.41-7.85 .74-6.52-2.23z" fill="#20a486"/><path d="M234.01 508.86l7.21 2.76-7.39 .1-7.2-2.58z" fill="#25ac82"/><path d="M460.85 529.72l6.33 2.29-8 .9-6.34-2.11z" fill="#20a386"/><path d="M358.55 522.41l6.72 2.55-7.7 .58-6.73-2.37z" fill="#21a685"/><path d="M270.69 513.3l7.06 2.73-7.48 .25-7.06-2.54z" fill="#24aa83"/><path d="M512.05 531.82l6.14 2.16-8.15 1.06-6.15-1.98z" fill="#20a386"/><path d="M307.36 517.19l6.92 2.69-7.57 .41-6.92-2.5z" fill="#23a983"/><path d="M395.27 524.99l6.58 2.52-7.82 .74-6.59-2.34z" fill="#22a785"/><path d="M446.46 528.41l6.38 2.39-7.95 .9-6.4-2.2z" fill="#21a585"/><path d="M344.06 520.51l6.78 2.66-7.67 .58-6.79-2.47z" fill="#23a983"/><path d="M497.69 530.8l6.2 2.26-8.12 1.07-6.21-2.08z" fill="#21a585"/><path d="M256.08 510.91l7.13 2.83-7.45 .26-7.13-2.65z" fill="#27ad81"/><path d="M292.8 514.99l6.99 2.8-7.54 .42-6.99-2.61z" fill="#26ad81"/><path d="M432.04 527l6.45 2.5-7.93 .9-6.45-2.31z" fill="#22a884"/><path d="M380.8 523.28l6.64 2.63-7.77 .74-6.66-2.44z" fill="#24aa83"/><path d="M549.01 532.14l6.01 2.14-8.28 1.24-6.03-1.96z" fill="#21a685"/><path d="M483.31 529.68l6.25 2.37-8.08 1.07-6.26-2.19z" fill="#22a785"/><path d="M329.54 518.51l6.84 2.77-7.64 .58-6.85-2.58z" fill="#25ac82"/><path d="M241.43 508.41l7.2 2.94-7.41 .27-7.21-2.76z" fill="#2cb17e"/><path d="M534.65 531.31l6.06 2.25-8.23 1.24-6.09-2.06z" fill="#22a884"/><path d="M417.6 525.49l6.51 2.6-7.89 .91-6.52-2.41z" fill="#25ab82"/><path d="M278.2 512.69l7.06 2.91-7.51 .43-7.06-2.73z" fill="#29af7f"/><path d="M366.31 521.48l6.7 2.73-7.74 .75-6.72-2.55z" fill="#26ad81"/><path d="M468.91 528.46l6.31 2.47-8.04 1.08-6.33-2.29z" fill="#24aa83"/><path d="M314.98 516.41l6.91 2.87-7.61 .6-6.92-2.69z" fill="#29af7f"/><path d="M520.27 530.39l6.12 2.35-8.2 1.24-6.14-2.16z" fill="#24aa83"/><path d="M403.13 523.89l6.57 2.7-7.85 .92-6.58-2.52z" fill="#26ad81"/><path d="M454.48 527.15l6.37 2.57-8.01 1.08-6.38-2.39z" fill="#25ac82"/><path d="M351.78 519.57l6.77 2.84-7.71 .76-6.78-2.66z" fill="#29af7f"/><path d="M263.56 510.29l7.13 3.01-7.48 .44-7.13-2.83z" fill="#2eb37c"/><path d="M505.87 529.37l6.18 2.45-8.16 1.24-6.2-2.26z" fill="#25ac82"/><path d="M300.38 514.21l6.98 2.98-7.57 .6-6.99-2.8z" fill="#2db27d"/><path d="M388.63 522.18l6.64 2.81-7.83 .92-6.64-2.63z" fill="#29af7f"/><path d="M440.03 525.73l6.43 2.68-7.97 1.09-6.45-2.5z" fill="#28ae80"/><path d="M337.22 517.56l6.84 2.95-7.68 .77-6.84-2.77z" fill="#2db27d"/><path d="M491.46 528.25l6.23 2.55-8.13 1.25-6.25-2.37z" fill="#27ad81"/><path d="M248.88 507.78l7.2 3.13-7.45 .44-7.2-2.94z" fill="#34b679"/><path d="M285.75 511.9l7.05 3.09-7.54 .61-7.06-2.91z" fill="#32b67a"/><path d="M425.55 524.22l6.49 2.78-7.93 1.09-6.51-2.6z" fill="#2ab07f"/><path d="M542.96 529.71l6.05 2.43-8.3 1.42-6.06-2.25z" fill="#28ae80"/><path d="M374.11 520.36l6.69 2.92-7.79 .93-6.7-2.73z" fill="#2db27d"/><path d="M477.02 527.03l6.29 2.65-8.09 1.25-6.31-2.47z" fill="#2ab07f"/><path d="M322.63 515.46l6.91 3.05-7.65 .77-6.91-2.87z" fill="#31b57b"/><path d="M528.55 528.78l6.1 2.53-8.26 1.43-6.12-2.35z" fill="#2ab07f"/><path d="M411.05 522.6l6.55 2.89-7.9 1.1-6.57-2.7z" fill="#2eb37c"/><path d="M359.55 518.45l6.76 3.03-7.76 .93-6.77-2.84z" fill="#31b57b"/><path d="M462.55 525.71l6.36 2.75-8.06 1.26-6.37-2.57z" fill="#2db27d"/><path d="M271.08 509.49l7.12 3.2-7.51 .61-7.13-3.01z" fill="#37b878"/><path d="M308 513.24l6.98 3.17-7.62 .78-6.98-2.98z" fill="#35b779"/><path d="M514.11 527.76l6.16 2.63-8.22 1.43-6.18-2.45z" fill="#2db27d"/><path d="M396.51 520.89l6.62 3-7.86 1.1-6.64-2.81z" fill="#32b67a"/><path d="M448.06 524.28l6.42 2.87-8.02 1.26-6.43-2.68z" fill="#31b57b"/><path d="M344.95 516.44l6.83 3.13-7.72 .94-6.84-2.95z" fill="#35b779"/><path d="M256.37 506.97l7.19 3.32-7.48 .62-7.2-3.13z" fill="#3dbc74"/><path d="M499.66 526.63l6.21 2.74-8.18 1.43-6.23-2.55z" fill="#31b57b"/><path d="M293.34 510.93l7.04 3.28-7.58 .78-7.05-3.09z" fill="#3bbb75"/><path d="M433.55 522.76l6.48 2.97-7.99 1.27-6.49-2.78z" fill="#34b679"/><path d="M381.95 519.07l6.68 3.11-7.83 1.1-6.69-2.92z" fill="#37b878"/><path d="M485.18 525.4l6.28 2.85-8.15 1.43-6.29-2.65z" fill="#34b679"/><path d="M330.33 514.32l6.89 3.24-7.68 .95-6.91-3.05z" fill="#3bbb75"/><path d="M536.88 526.99l6.08 2.72-8.31 1.6-6.1-2.53z" fill="#35b779"/><path d="M419.01 521.14l6.54 3.08-7.95 1.27-6.55-2.89z" fill="#38b977"/><path d="M278.63 508.51l7.12 3.39-7.55 .79-7.12-3.2z" fill="#42be71"/><path d="M367.35 517.15l6.76 3.21-7.8 1.12-6.76-3.03z" fill="#3bbb75"/><path d="M470.68 524.08l6.34 2.95-8.11 1.43-6.36-2.75z" fill="#37b878"/><path d="M315.66 512.1l6.97 3.36-7.65 .95-6.98-3.17z" fill="#40bd72"/><path d="M522.41 525.96l6.14 2.82-8.28 1.61-6.16-2.63z" fill="#38b977"/><path d="M404.44 519.42l6.61 3.18-7.92 1.29-6.62-3z" fill="#3dbc74"/><path d="M456.15 522.65l6.4 3.06-8.07 1.44-6.42-2.87z" fill="#3bbb75"/><path d="M352.73 515.13l6.82 3.32-7.77 1.12-6.83-3.13z" fill="#40bd72"/><path d="M263.89 505.98l7.19 3.51-7.52 .8-7.19-3.32z" fill="#48c16e"/><path d="M507.91 524.83l6.2 2.93-8.24 1.61-6.21-2.74z" fill="#3bbb75"/><path d="M300.96 509.78l7.04 3.46-7.62 .97-7.04-3.28z" fill="#48c16e"/><path d="M389.84 517.59l6.67 3.3-7.88 1.29-6.68-3.11z" fill="#42be71"/><path d="M441.6 521.12l6.46 3.16-8.03 1.45-6.48-2.97z" fill="#40bd72"/><path d="M338.06 513l6.89 3.44-7.73 1.12-6.89-3.24z" fill="#48c16e"/><path d="M493.4 523.6l6.26 3.03-8.2 1.62-6.28-2.85z" fill="#3fbc73"/><path d="M286.22 507.35l7.12 3.58-7.59 .97-7.12-3.39z" fill="#4ec36b"/><path d="M427.02 519.5l6.53 3.26-8 1.46-6.54-3.08z" fill="#44bf70"/><path d="M375.21 515.67l6.74 3.4-7.84 1.29-6.76-3.21z" fill="#48c16e"/><path d="M478.86 522.27l6.32 3.13-8.16 1.63-6.34-2.95z" fill="#44bf70"/><path d="M323.36 510.78l6.97 3.54-7.7 1.14-6.97-3.36z" fill="#4ec36b"/><path d="M530.77 523.98l6.11 3.01-8.33 1.79-6.14-2.82z" fill="#44bf70"/><path d="M412.41 517.77l6.6 3.37-7.96 1.46-6.61-3.18z" fill="#4ac16d"/><path d="M271.44 504.82l7.19 3.69-7.55 .98-7.19-3.51z" fill="#56c667"/><path d="M360.54 513.64l6.81 3.51-7.8 1.3-6.82-3.32z" fill="#4ec36b"/><path d="M464.29 520.83l6.39 3.25-8.13 1.63-6.4-3.06z" fill="#48c16e"/><path d="M308.63 508.44l7.03 3.66-7.66 1.14-7.04-3.46z" fill="#54c568"/><path d="M516.23 522.84l6.18 3.12-8.3 1.8-6.2-2.93z" fill="#48c16e"/><path d="M397.78 515.93l6.66 3.49-7.93 1.47-6.67-3.3z" fill="#50c46a"/><path d="M449.7 519.3l6.45 3.35-8.09 1.63-6.46-3.16z" fill="#4ec36b"/><path d="M345.84 511.5l6.89 3.63-7.78 1.31-6.89-3.44z" fill="#56c667"/><path d="M501.68 521.61l6.23 3.22-8.25 1.8-6.26-3.03z" fill="#4ec36b"/><path d="M293.85 506.01l7.11 3.77-7.62 1.15-7.12-3.58z" fill="#5cc863"/><path d="M383.11 514l6.73 3.59-7.89 1.48-6.74-3.4z" fill="#56c667"/><path d="M435.09 517.66l6.51 3.46-8.05 1.64-6.53-3.26z" fill="#54c568"/><path d="M331.11 509.27l6.95 3.73-7.73 1.32-6.97-3.54z" fill="#5cc863"/><path d="M487.1 520.27l6.3 3.33-8.22 1.8-6.32-3.13z" fill="#52c569"/><path d="M279.04 503.46l7.18 3.89-7.59 1.16-7.19-3.69z" fill="#65cb5e"/><path d="M420.44 515.93l6.58 3.57-8.01 1.64-6.6-3.37z" fill="#5ac864"/><path d="M368.41 511.96l6.8 3.71-7.86 1.48-6.81-3.51z" fill="#5cc863"/><path d="M472.49 518.83l6.37 3.44-8.18 1.81-6.39-3.25z" fill="#58c765"/><path d="M316.34 506.93l7.02 3.85-7.7 1.32-7.03-3.66z" fill="#63cb5f"/><path d="M524.61 520.67l6.16 3.31-8.36 1.98-6.18-3.12z" fill="#58c765"/><path d="M405.77 514.09l6.64 3.68-7.97 1.65-6.66-3.49z" fill="#60ca60"/><path d="M457.86 517.29l6.43 3.54-8.14 1.82-6.45-3.35z" fill="#5ec962"/><path d="M353.67 509.82l6.87 3.82-7.81 1.49-6.89-3.63z" fill="#65cb5e"/><path d="M510.01 519.42l6.22 3.42-8.32 1.99-6.23-3.22z" fill="#5ec962"/><path d="M301.53 504.48l7.1 3.96-7.67 1.34-7.11-3.77z" fill="#6ccd5a"/><path d="M391.06 512.14l6.72 3.79-7.94 1.66-6.73-3.59z" fill="#67cc5c"/><path d="M443.21 515.64l6.49 3.66-8.1 1.82-6.51-3.46z" fill="#63cb5f"/><path d="M338.9 507.57l6.94 3.93-7.78 1.5-6.95-3.73z" fill="#6ccd5a"/><path d="M495.39 518.08l6.29 3.53-8.28 1.99-6.3-3.33z" fill="#63cb5f"/><path d="M286.68 501.93l7.17 4.08-7.63 1.34-7.18-3.89z" fill="#75d054"/><path d="M428.52 513.9l6.57 3.76-8.07 1.84-6.58-3.57z" fill="#69cd5b"/><path d="M376.32 510.1l6.79 3.9-7.9 1.67-6.8-3.71z" fill="#6ece58"/><path d="M480.75 516.63l6.35 3.64-8.24 2-6.37-3.44z" fill="#69cd5b"/><path d="M324.09 505.22l7.02 4.05-7.75 1.51-7.02-3.85z" fill="#75d054"/><path d="M413.81 512.05l6.63 3.88-8.03 1.84-6.64-3.68z" fill="#70cf57"/><path d="M361.54 507.95l6.87 4.01-7.87 1.68-6.87-3.82z" fill="#75d054"/><path d="M466.08 515.09l6.41 3.74-8.2 2-6.43-3.54z" fill="#6ece58"/><path d="M309.24 502.77l7.1 4.16-7.71 1.51-7.1-3.96z" fill="#7cd250"/><path d="M518.41 517.05l6.2 3.62-8.38 2.17-6.22-3.42z" fill="#70cf57"/><path d="M399.06 510.1l6.71 3.99-7.99 1.84-6.72-3.79z" fill="#77d153"/><path d="M451.38 513.43l6.48 3.86-8.16 2.01-6.49-3.66z" fill="#75d054"/><path d="M346.73 505.69l6.94 4.13-7.83 1.68-6.94-3.93z" fill="#7fd34e"/><path d="M503.75 515.7l6.26 3.72-8.33 2.19-6.29-3.53z" fill="#75d054"/><path d="M294.35 500.2l7.18 4.28-7.68 1.53-7.17-4.08z" fill="#86d549"/><path d="M384.28 508.04l6.78 4.1-7.95 1.86-6.79-3.9z" fill="#7fd34e"/><path d="M436.66 511.68l6.55 3.96-8.12 2.02-6.57-3.76z" fill="#7cd250"/><path d="M331.89 503.33l7.01 4.24-7.79 1.7-7.02-4.05z" fill="#86d549"/><path d="M489.06 514.25l6.33 3.83-8.29 2.19-6.35-3.64z" fill="#7cd250"/><path d="M421.9 509.82l6.62 4.08-8.08 2.03-6.63-3.88z" fill="#84d44b"/><path d="M369.47 505.88l6.85 4.22-7.91 1.86-6.87-4.01z" fill="#89d548"/><path d="M474.35 512.69l6.4 3.94-8.26 2.2-6.41-3.74z" fill="#81d34d"/><path d="M317 500.86l7.09 4.36-7.75 1.71-7.1-4.16z" fill="#90d743"/><path d="M407.11 507.86l6.7 4.19-8.04 2.04-6.71-3.99z" fill="#8bd646"/><path d="M354.62 503.62l6.92 4.33-7.87 1.87-6.94-4.13z" fill="#90d743"/><path d="M459.61 511.03l6.47 4.06-8.22 2.2-6.48-3.86z" fill="#89d548"/><path d="M302.08 498.29l7.16 4.48-7.71 1.71-7.18-4.28z" fill="#98d83e"/><path d="M512.17 513.13l6.24 3.92-8.4 2.37-6.26-3.72z" fill="#89d548"/><path d="M392.3 505.8l6.76 4.3-8 2.04-6.78-4.1z" fill="#93d741"/><path d="M444.85 509.27l6.53 4.16-8.17 2.21-6.55-3.96z" fill="#90d743"/><path d="M339.73 501.25l7 4.44-7.83 1.88-7.01-4.24z" fill="#9bd93c"/><path d="M497.44 511.67l6.31 4.03-8.36 2.38-6.33-3.83z" fill="#90d743"/><path d="M430.05 507.41l6.61 4.27-8.14 2.22-6.62-4.08z" fill="#98d83e"/><path d="M377.44 503.63l6.84 4.41-7.96 2.06-6.85-4.22z" fill="#9bd93c"/><path d="M482.69 510.1l6.37 4.15-8.31 2.38-6.4-3.94z" fill="#95d840"/><path d="M324.81 498.77l7.08 4.56-7.8 1.89-7.09-4.36z" fill="#a2da37"/><path d="M415.22 505.44l6.68 4.38-8.09 2.23-6.7-4.19z" fill="#a0da39"/><path d="M362.55 501.35l6.92 4.53-7.93 2.07-6.92-4.33z" fill="#a5db36"/><path d="M467.91 508.44l6.44 4.25-8.27 2.4-6.47-4.06z" fill="#9dd93b"/><path d="M309.84 496.18l7.16 4.68-7.76 1.91-7.16-4.48z" fill="#addc30"/><path d="M400.36 503.36l6.75 4.5-8.05 2.24-6.76-4.3z" fill="#a8db34"/><path d="M453.1 506.67l6.51 4.36-8.23 2.4-6.53-4.16z" fill="#a5db36"/><path d="M347.63 498.97l6.99 4.65-7.89 2.07-7-4.44z" fill="#addc30"/><path d="M505.88 508.89l6.29 4.24-8.42 2.57-6.31-4.03z" fill="#a5db36"/><path d="M385.47 501.18l6.83 4.62-8.02 2.24-6.84-4.41z" fill="#b0dd2f"/><path d="M438.26 504.79l6.59 4.48-8.19 2.41-6.61-4.27z" fill="#addc30"/><path d="M332.66 496.48l7.07 4.77-7.84 2.08-7.08-4.56z" fill="#b8de29"/><path d="M491.08 507.32l6.36 4.35-8.38 2.58-6.37-4.15z" fill="#addc30"/><path d="M423.39 502.81l6.66 4.6-8.15 2.41-6.68-4.38z" fill="#b5de2b"/><path d="M370.54 498.89l6.9 4.74-7.97 2.25-6.92-4.53z" fill="#bade28"/><path d="M476.26 505.64l6.43 4.46-8.34 2.59-6.44-4.25z" fill="#b2dd2d"/><path d="M317.66 493.89l7.15 4.88-7.81 2.09-7.16-4.68z" fill="#c2df23"/><path d="M408.49 500.73l6.73 4.71-8.11 2.42-6.75-4.5z" fill="#bddf26"/><path d="M355.57 496.5l6.98 4.85-7.93 2.27-6.99-4.65z" fill="#c2df23"/><path d="M461.41 503.86l6.5 4.58-8.3 2.59-6.51-4.36z" fill="#bade28"/><path d="M393.55 498.53l6.81 4.83-8.06 2.44-6.83-4.62z" fill="#c8e020"/><path d="M446.53 501.98l6.57 4.69-8.25 2.6-6.59-4.48z" fill="#c2df23"/><path d="M340.56 494l7.07 4.97-7.9 2.28-7.07-4.77z" fill="#cde11d"/><path d="M499.55 504.33l6.33 4.56-8.44 2.78-6.36-4.35z" fill="#c2df23"/><path d="M378.58 496.24l6.89 4.94-8.03 2.45-6.9-4.74z" fill="#d0e11c"/><path d="M431.61 499.99l6.65 4.8-8.21 2.62-6.66-4.6z" fill="#cae11f"/><path d="M325.52 491.39l7.14 5.09-7.85 2.29-7.15-4.88z" fill="#d8e219"/><path d="M484.68 502.65l6.4 4.67-8.39 2.78-6.43-4.46z" fill="#cae11f"/><path d="M416.67 497.89l6.72 4.92-8.17 2.63-6.73-4.71z" fill="#d5e21a"/><path d="M363.57 493.83l6.97 5.06-7.99 2.46-6.98-4.85z" fill="#d8e219"/><path d="M469.78 500.86l6.48 4.78-8.35 2.8-6.5-4.58z" fill="#d2e21b"/><path d="M401.69 495.69l6.8 5.04-8.13 2.63-6.81-4.83z" fill="#dde318"/><path d="M454.86 498.97l6.55 4.89-8.31 2.81-6.57-4.69z" fill="#dae319"/><path d="M348.52 491.32l7.05 5.18-7.94 2.47-7.07-4.97z" fill="#e2e418"/><path d="M386.67 493.39l6.88 5.14-8.08 2.65-6.89-4.94z" fill="#e5e419"/><path d="M439.9 496.97l6.63 5.01-8.27 2.81-6.65-4.8z" fill="#e2e418"/><path d="M333.48 491.12l3.53 .27 3.55 2.61-7.9 2.48-7.14-5.09 3.95-1.32z" fill="#ece51b"/><path d="M493.16 499.45l6.39 4.88-8.47 2.99-6.4-4.67z" fill="#e2e418"/><path d="M371.65 494.42l3.46-.78 3.47 2.6-8.04 2.65-6.97-5.06 4.02-1.41z" fill="#ece51b"/><path d="M424.89 496.7l3.38 .76 3.34 2.53-8.22 2.82-6.72-4.92 4.11-1.49z" fill="#eae51a"/><path d="M478.19 498.98l3.27 1.21 3.22 2.46-8.42 2.99-6.48-4.78 4.21-1.58z" fill="#e7e419"/><path d="M356.62 495.45l3.45-3.19 3.5 1.57-8 2.67-7.05-5.18 4.04 1.45z" fill="#f4e61e"/><path d="M409.87 497.73l3.41-2.42 3.39 2.58-8.18 2.84-6.8-5.04 4.09-.64z" fill="#f1e51d"/><path d="M463.17 500l3.35-1.65 3.26 2.51-8.37 3-6.55-4.89 4.18-1.59z" fill="#efe51c"/><path d="M341.58 496.48l3.46-3.2 3.48-1.96-7.96 2.68-3.55-2.61-3.53-.27z" fill="#f8e621"/><path d="M394.83 498.75l3.43-3.19 3.43 .13-8.14 2.84-6.88-5.14z" fill="#f6e620"/><path d="M448.14 501.03l3.39-3.19 3.33 1.13-8.33 3.01-6.63-5.01 4.12 1.38z" fill="#f4e61e"/><path d="M379.79 499.78l6.88-6.39-8.09 2.85-3.47-2.6-3.46 .78z" fill="#fbe723"/><path d="M433.1 502.06l3.41-3.2 3.39-1.89-8.29 3.02-3.34-2.53-3.38-.76z" fill="#f8e621"/><path d="M364.75 500.81l6.9-6.39-4.06-2-4.02 1.41-3.5-1.57-3.45 3.19z" fill="#fde725"/><path d="M486.46 504.35l3.37-3.21 3.33-1.69-8.48 3.2-3.22-2.46-3.27-1.21z" fill="#f8e621"/><path d="M418.06 503.09l6.83-6.39-4.11-.3-4.11 1.49-3.39-2.58-3.41 2.42z" fill="#fbe723"/><path d="M349.7 501.84l6.92-6.39-4.06-2.68-4.04-1.45-3.48 1.96-3.46 3.2z" fill="#fde725"/><path d="M471.42 505.38l6.77-6.4-4.2 .3-4.21 1.58-3.26-2.51-3.35 1.65z" fill="#fbe723"/><path d="M403.01 504.12l6.86-6.39-4.09-2.68-4.09 .64-3.43-.13-3.43 3.19z" fill="#fde725"/><path d="M387.96 505.16l6.87-6.41-8.16-5.36-6.88 6.39z" fill="#fde725"/><path d="M456.38 506.41l6.79-6.41-4.13-2.62-4.18 1.59-3.33-1.13-3.39 3.19z" fill="#fde725"/><path d="M372.9 506.19l6.89-6.41-8.14-5.36-6.9 6.39z" fill="#fde725"/><path d="M441.33 507.44l6.81-6.41-4.12-2.68-4.12-1.38-3.39 1.89-3.41 3.2z" fill="#fde725"/><path d="M357.83 507.22l6.92-6.41-8.13-5.36-6.92 6.39z" fill="#fde725"/><path d="M426.27 508.47l6.83-6.41-8.21-5.36-6.83 6.39z" fill="#fde725"/><path d="M411.21 509.51l6.85-6.42-8.19-5.36-6.86 6.39z" fill="#fde725"/><path d="M396.14 510.54l6.87-6.42-8.18-5.37-6.87 6.41z" fill="#fde725"/><path d="M479.69 510.76l6.77-6.41-8.27-5.37-6.77 6.4z" fill="#fde725"/><path d="M381.07 511.57l6.89-6.41-8.17-5.38-6.89 6.41z" fill="#fde725"/><path d="M464.64 511.8l6.78-6.42-8.25-5.38-6.79 6.41z" fill="#fde725"/><path d="M365.99 512.61l6.91-6.42-8.15-5.38-6.92 6.41z" fill="#fde725"/><path d="M449.57 512.83l6.81-6.42-8.24-5.38-6.81 6.41z" fill="#fde725"/><path d="M434.5 513.87l6.83-6.43-8.23-5.38-6.83 6.41z" fill="#fde725"/><path d="M419.43 514.9l6.84-6.43-8.21-5.38-6.85 6.42z" fill="#fde725"/><path d="M404.34 515.94l6.87-6.43-8.2-5.39-6.87 6.42z" fill="#fde725"/><path d="M389.25 516.97l6.89-6.43-8.18-5.38-6.89 6.41z" fill="#fde725"/><path d="M472.91 517.2l6.78-6.44-8.27-5.38-6.78 6.42z" fill="#fde725"/><path d="M374.16 518.01l6.91-6.44-8.17-5.38-6.91 6.42z" fill="#fde725"/><path d="M457.83 518.23l6.81-6.43-8.26-5.39-6.81 6.42z" fill="#fde725"/><path d="M442.75 519.27l6.82-6.44-8.24-5.39-6.83 6.43z" fill="#fde725"/><path d="M427.66 520.31l6.84-6.44-8.23-5.4-6.84 6.43z" fill="#fde725"/><path d="M412.56 521.34l6.87-6.44-8.22-5.39-6.87 6.43z" fill="#fde725"/><path d="M397.46 522.38l6.88-6.44-8.2-5.4-6.89 6.43z" fill="#fde725"/><path d="M382.35 523.42l6.9-6.45-8.18-5.4-6.91 6.44z" fill="#fde725"/><path d="M466.11 523.65l6.8-6.45-8.27-5.4-6.81 6.43z" fill="#fde725"/><path d="M451.01 524.68l6.82-6.45-8.26-5.4-6.82 6.44z" fill="#fde725"/><path d="M435.91 525.72l6.84-6.45-8.25-5.4-6.84 6.44z" fill="#fde725"/><path d="M420.8 526.76l6.86-6.45-8.23-5.41-6.87 6.44z" fill="#fde725"/><path d="M405.68 527.8l6.88-6.46-8.22-5.4-6.88 6.44z" fill="#fde725"/><path d="M390.55 528.85l6.91-6.47-8.21-5.41-6.9 6.45z" fill="#fde725"/><path d="M459.3 530.11l6.81-6.46-8.28-5.42-6.82 6.45z" fill="#fde725"/><path d="M444.18 531.15l6.83-6.47-8.26-5.41-6.84 6.45z" fill="#fde725"/><path d="M429.05 532.2l6.86-6.48-8.25-5.41-6.86 6.45z" fill="#fde725"/><path d="M413.92 533.24l6.88-6.48-8.24-5.42-6.88 6.46z" fill="#fde725"/><path d="M398.78 534.28l6.9-6.48-8.22-5.42-6.91 6.47z" fill="#fde725"/><path d="M452.46 536.59l6.84-6.48-8.29-5.43-6.83 6.47z" fill="#fde725"/><path d="M437.32 537.64l6.86-6.49-8.27-5.43-6.86 6.48z" fill="#fde725"/><path d="M422.18 538.68l6.87-6.48-8.25-5.44-6.88 6.48z" fill="#fde725"/><path d="M407.02 539.73l6.9-6.49-8.24-5.44-6.9 6.48z" fill="#fde725"/><path d="M445.61 543.09l6.85-6.5-8.28-5.44-6.86 6.49z" fill="#fde725"/><path d="M430.45 544.14l6.87-6.5-8.27-5.44-6.87 6.48z" fill="#fde725"/><path d="M415.28 545.19l6.9-6.51-8.26-5.44-6.9 6.49z" fill="#fde725"/><path d="M438.74 549.61l6.87-6.52-8.29-5.45-6.87 6.5z" fill="#fde725"/><path d="M423.56 550.66l6.89-6.52-8.27-5.46-6.9 6.51z" fill="#fde725"/><path d="M431.86 556.14l6.88-6.53-8.29-5.47-6.89 6.52z" fill="#fde725"/></g><text x="388.8" y="24.48" font-size="19.3" text-anchor="middle" fill="#000000" font-family="&quot;Liberation Sans&quot;, sans-serif">Booth</text><path d="M163.44 488.23L163.6 486.16L163.92 484.21L164.38 482.36L164.98 480.62L166.09 478.19L167.46 475.96L169.04 473.89L170.79 471.97L172.7 470.17L175.42 467.92L178.99 465.27L183.38 462.24L186.41 460.43L188.77 459.25L192.85 457.52L197.73 455.4L202.57 453.21L205.06 452.31L207.61 451.6L211.09 450.9L217.23 449.95L226 448.82L232.17 448.24L237.48 448.01L242.79 448.01L252.52 448.36L263.13 448.83L284.32 450.25L289.61 450.74L307.2 452.65L335.4 455.25L345.09 456.18L383.91 459.3L392.73 459.98L406.87 460.76L423.67 461.5L437.81 462.16L455.49 463.02L464.34 463.19L474.96 463.15L484.71 463.12L490.01 463.3L494.42 463.66L498.8 464.25L499.68 464.4L499.68 464.4" style="fill:none;stroke-dasharray:3.492,5.7618;stroke-dashoffset:0;stroke:#ff0000;stroke-width:3.492"/><path d="M163.44 488.23L162.63 486.88L161.7 484.8L160.95 482.48L160.39 479.98L160.05 477.34L159.94 474.64L160.08 471.94L160.47 469.29L160.95 467.37L161.6 465.55L162.41 463.84L163.4 462.27L164.58 460.86L165.94 459.65L167.48 458.63L169.16 457.8L170.93 457.12L173.37 456.45L175.84 456L178.92 455.7L182.62 455.61L187.56 455.77L199.29 456.48L204.21 456.96L218.96 458.61L231.28 459.66L238.69 460.04L248.58 460.32L275.16 460.92L283.8 461.43L301.07 462.76L315.87 463.78L328.22 464.41L340.58 464.81L368.4 465.42L374.59 465.61L377.66 465.91L380.71 466.42L381.31 466.56L381.31 466.56" style="fill:none;stroke-dasharray:3.492,5.7618;stroke-dashoffset:0;stroke:#ffa500;stroke-width:3.492"/><path d="M163.47 488.25L164.19 484.67L165.1 481.16L166.19 477.73L167.44 474.36L169.35 469.96L171.49 465.68L173.86 461.49L176.4 457.4L179.8 452.41L183.38 447.53L187.84 441.82L192.44 436.26L197.17 430.85L202.07 425.6L207.15 420.51L211.53 416.41L216.06 412.43L220.75 408.59L225.59 404.93L229.57 402.16L233.64 399.56L237.8 397.13L242.05 394.91L246.38 392.92L250.8 391.19L254.19 390.11L257.65 389.28L261.19 388.74L266.02 388.29L272.12 387.93L276.96 387.85L281.71 388.04L285.22 388.4L288.7 388.99L292.15 389.83L299.08 391.86L306.01 394.08L311.69 396.15L316.12 398L321.53 400.54L326.83 403.29L334.18 407.37L342.5 412.25L351.72 417.92L361.83 424.41L371.83 431.09L384.7 439.99L413.4 459.95L423.44 466.6L431.58 471.74L439.85 476.68L447.19 480.81L449.31 481.95L457.33 484.66L487.24 493.69L512.98 496.52L534.17 493.76L550.95 486.13L563.87 474.83L573.69 461.78L581.17 449.55L586.92 440.73L591.34 437.1L594.61 439.04L596.71 445.51L597.47 454.56L596.63 464.02L593.94 472.12L589.23 477.73L582.48 480.36L573.91 480.01L563.91 477L553.03 472.02L530.87 460.13L520.6 455.47L511.34 452.87L503.26 452.66L496.4 454.65L490.69 458.16L485.97 462.33L482.05 466.3L478.75 469.37L475.93 471.12L473.52 471.41L471.51 470.33L469.94 468.18L468.91 465.42L468.5 462.58L468.78 460.18L469.78 458.66L471.48 458.21L473.79 458.83L476.58 460.31L482.94 464.34L486.18 466.12L489.25 467.35L492.07 467.89L494.57 467.71L496.75 466.94L498.64 465.77L502.99 462.36L504.16 461.93L505.21 462.01L506.14 462.53L506.91 463.34L507.5 464.28L507.86 465.16L507.98 465.82L507.84 466.18L507.46 466.21L506.86 465.92L503.36 463.63L502.46 463.31L501.63 463.23L500.88 463.37L500.21 463.68L498.08 465.09L497.63 465.16L497.22 465.07L496.52 464.58L495.98 463.84L495.97 463.76L496.04 463.79L497.12 464.64L497.61 464.71L498.03 464.53L498.74 464.12L499.05 464.16L499.57 464.56L499.1 464.29L498.7 464.43L498.51 464.31L498.68 464.34" style="fill:none;stroke-dasharray:12.9204,5.5872;stroke-dashoffset:0;stroke:#008000;stroke-width:3.492"/><path d="M163.44 488.23L162.15 486.68L161.04 485.05L160.11 483.34L159.32 481.58L158.4 478.83L157.73 476L157.27 473.1L156.88 469.19L156.56 463.35L156.34 455.56L156.45 452.64L156.73 450.71L157.24 448.8L158.04 446.99L159.13 445.37L160.51 444L162.15 442.92L163.94 442.09L165.81 441.48L167.71 441.06L170.62 440.7L174.51 440.52L178.41 440.58L183.26 440.91L188.09 441.5L194.82 442.6L213.99 446.05L226.39 448.59L235.89 450.71L256.73 455.64L268.22 457.78L274.95 458.86L280.75 459.53L288.51 460.16L301.15 460.95L317.68 461.75L331.3 462.2L357.57 463L402.33 464.57L414.99 464.55L453.93 464.27L474.37 463.96L485.08 464.02L493.84 464.26L499.68 464.54L499.68 464.54" style="fill:none;stroke-dasharray:12.9204,5.5872;stroke-dashoffset:14.91084;stroke:#0000ff;stroke-width:3.492"/><path d="M163.44 488.23L161.84 482.72L159.69 474.37L156.04 459.48L155.38 455.73L155.32 453.78L155.48 452.82L155.85 451.95L156.46 451.21L157.24 450.63L158.12 450.21L159.98 449.77L161.9 449.63L164.77 449.7L168.58 450.08L176.17 451.19L212.18 456.34L254.97 461.41L269.27 462.75L279.77 463.49L320.88 465.9L336.18 466.58L354.36 467.14L383.08 467.77L396.49 467.88L407.02 467.72L422.33 467.22L467.31 465.68L498.89 464.69L498.89 464.69" style="fill:none;stroke:#000000;stroke-width:3.816;stroke-linecap:square"/><path d="M651.36 154.04L758.66 154.04Q761.18 154.04 761.18 151.52L761.18 36.96Q761.18 34.44 758.66 34.44L651.36 34.44Q648.84 34.44 648.84 36.96L648.84 151.52Q648.84 154.04 651.36 154.04z" style="fill:#ffffff;opacity:0.8;stroke:#cccccc;stroke-linejoin:miter"/><g transform="translate(.58 .8)"><path d="M654.13 44.89L666.73 44.89L679.33 44.89" style="fill:none;stroke-dasharray:3.492,5.7618;stroke-dashoffset:0;stroke:#ff0000;stroke-width:3.492"/><text x="689.34" y="49.3" font-size="12.6" fill="#000000" font-family="&quot;Liberation Sans&quot;, sans-serif">SGD</text><path d="M654.13 64.26L666.73 64.26L679.33 64.26" style="fill:none;stroke-dasharray:3.492,5.7618;stroke-dashoffset:0;stroke:#ffa500;stroke-width:3.492"/><text x="689.34" y="68.67" font-size="12.6" fill="#000000" font-family="&quot;Liberation Sans&quot;, sans-serif">Adagrad</text><path d="M654.13 83.62L666.73 83.62L679.33 83.62" style="fill:none;stroke-dasharray:12.9204,5.5872;stroke-dashoffset:0;stroke:#008000;stroke-width:3.492"/><text x="689.34" y="88.03" font-size="12.6" fill="#000000" font-family="&quot;Liberation Sans&quot;, sans-serif">SGDM</text><path d="M654.13 102.99L666.73 102.99L679.33 102.99" style="fill:none;stroke-dasharray:12.9204,5.5872;stroke-dashoffset:0;stroke:#0000ff;stroke-width:3.492"/><text x="689.34" y="107.4" font-size="12.6" fill="#000000" font-family="&quot;Liberation Sans&quot;, sans-serif">Adam</text><path d="M654.13 122.35L666.73 122.35L679.33 122.35" style="fill:none;stroke:#000000;stroke-width:3.816;stroke-linecap:square"/><text x="689.34" y="126.76" font-size="12.6" fill="#000000" font-family="&quot;Liberation Sans&quot;, sans-serif">DMAdam</text><defs><path id="me7d00be7ab" d="M0-8.89L-2-2.75L-8.46-2.75L-3.23 1.05L-5.23 7.19L0 3.4L5.23 7.19L3.23 1.05L8.46-2.75L2-2.75z" style="stroke:#ff0000;stroke-width:1.3824"/></defs><use x="666.73" y="142.82" style="fill:#ff0000;stroke:#ff0000;stroke-width:1.3824" href="#me7d00be7ab"/><text x="689.34" y="146.12" font-size="12.6" fill="#000000" font-family="&quot;Liberation Sans&quot;, sans-serif">Global Min</text></g></svg></body></html>
